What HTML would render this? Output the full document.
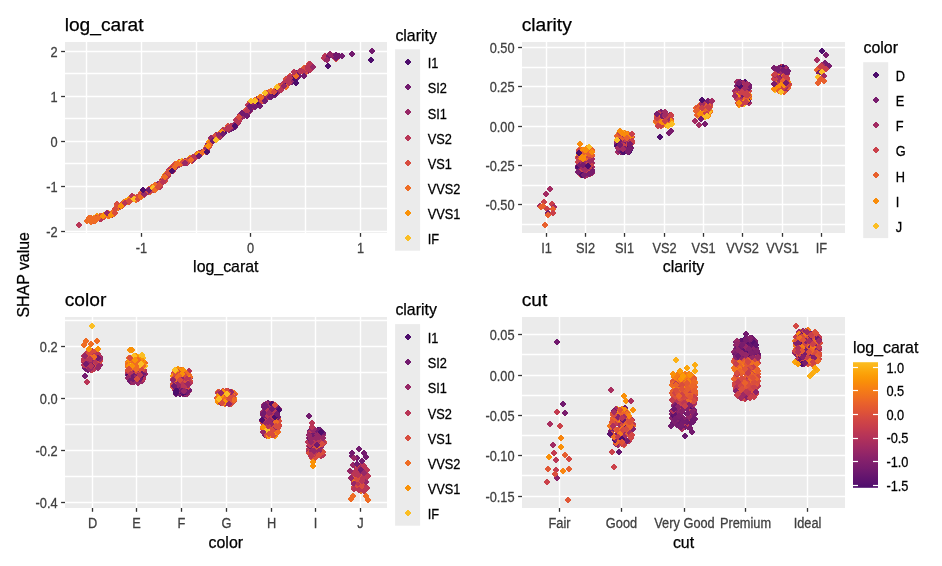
<!DOCTYPE html>
<html><head><meta charset="utf-8"><title>SHAP dependence plots</title>
<style>html,body{margin:0;padding:0;background:#fff;overflow:hidden}svg{display:block}text{font-family:"Liberation Sans", Arial, sans-serif}path{shape-rendering:crispEdges}</style>
</head><body>
<svg width="942" height="566" viewBox="0 0 942 566">
<defs><linearGradient id="cb" x1="0" y1="0" x2="0" y2="1"><stop offset="0.000" stop-color="#fbbe23"/><stop offset="0.040" stop-color="#fcb216"/><stop offset="0.080" stop-color="#fca50a"/><stop offset="0.120" stop-color="#fb9906"/><stop offset="0.160" stop-color="#f98e09"/><stop offset="0.200" stop-color="#f78212"/><stop offset="0.240" stop-color="#f37819"/><stop offset="0.280" stop-color="#ef6e21"/><stop offset="0.320" stop-color="#ea632a"/><stop offset="0.360" stop-color="#e45a31"/><stop offset="0.400" stop-color="#de5238"/><stop offset="0.440" stop-color="#d54a41"/><stop offset="0.480" stop-color="#ce4347"/><stop offset="0.520" stop-color="#c63d4d"/><stop offset="0.560" stop-color="#bc3754"/><stop offset="0.600" stop-color="#b3325a"/><stop offset="0.640" stop-color="#a92e5e"/><stop offset="0.680" stop-color="#9f2a63"/><stop offset="0.720" stop-color="#952667"/><stop offset="0.760" stop-color="#8a226a"/><stop offset="0.800" stop-color="#801f6c"/><stop offset="0.840" stop-color="#771c6d"/><stop offset="0.880" stop-color="#6c186e"/><stop offset="0.920" stop-color="#62146e"/><stop offset="0.960" stop-color="#59106e"/><stop offset="1.000" stop-color="#4d0d6c"/></linearGradient></defs>
<rect width="942" height="566" fill="#fff"/>
<rect x="65" y="42" width="322" height="191" fill="#EBEBEB"/>
<line x1="65" x2="387" y1="51.5" y2="51.5" stroke="#fff" stroke-width="1.4"/>
<line x1="65" x2="387" y1="73.5" y2="73.5" stroke="#fff" stroke-width="1.4"/>
<line x1="65" x2="387" y1="96.5" y2="96.5" stroke="#fff" stroke-width="1.4"/>
<line x1="65" x2="387" y1="118.5" y2="118.5" stroke="#fff" stroke-width="1.4"/>
<line x1="65" x2="387" y1="141.5" y2="141.5" stroke="#fff" stroke-width="1.4"/>
<line x1="65" x2="387" y1="163.5" y2="163.5" stroke="#fff" stroke-width="1.4"/>
<line x1="65" x2="387" y1="186.5" y2="186.5" stroke="#fff" stroke-width="1.4"/>
<line x1="65" x2="387" y1="208.5" y2="208.5" stroke="#fff" stroke-width="1.4"/>
<line x1="65" x2="387" y1="231.5" y2="231.5" stroke="#fff" stroke-width="1.4"/>
<line x1="86.5" x2="86.5" y1="42" y2="233" stroke="#fff" stroke-width="1.4"/>
<line x1="141.5" x2="141.5" y1="42" y2="233" stroke="#fff" stroke-width="1.4"/>
<line x1="196.5" x2="196.5" y1="42" y2="233" stroke="#fff" stroke-width="1.4"/>
<line x1="250.5" x2="250.5" y1="42" y2="233" stroke="#fff" stroke-width="1.4"/>
<line x1="305.5" x2="305.5" y1="42" y2="233" stroke="#fff" stroke-width="1.4"/>
<line x1="360.5" x2="360.5" y1="42" y2="233" stroke="#fff" stroke-width="1.4"/>
<rect x="522" y="42" width="323" height="191" fill="#EBEBEB"/>
<line x1="522" x2="845" y1="47.5" y2="47.5" stroke="#fff" stroke-width="1.4"/>
<line x1="522" x2="845" y1="67.5" y2="67.5" stroke="#fff" stroke-width="1.4"/>
<line x1="522" x2="845" y1="86.5" y2="86.5" stroke="#fff" stroke-width="1.4"/>
<line x1="522" x2="845" y1="106.5" y2="106.5" stroke="#fff" stroke-width="1.4"/>
<line x1="522" x2="845" y1="126.5" y2="126.5" stroke="#fff" stroke-width="1.4"/>
<line x1="522" x2="845" y1="145.5" y2="145.5" stroke="#fff" stroke-width="1.4"/>
<line x1="522" x2="845" y1="165.5" y2="165.5" stroke="#fff" stroke-width="1.4"/>
<line x1="522" x2="845" y1="185.5" y2="185.5" stroke="#fff" stroke-width="1.4"/>
<line x1="522" x2="845" y1="204.5" y2="204.5" stroke="#fff" stroke-width="1.4"/>
<line x1="522" x2="845" y1="224.5" y2="224.5" stroke="#fff" stroke-width="1.4"/>
<line x1="546.5" x2="546.5" y1="42" y2="233" stroke="#fff" stroke-width="1.4"/>
<line x1="585.5" x2="585.5" y1="42" y2="233" stroke="#fff" stroke-width="1.4"/>
<line x1="624.5" x2="624.5" y1="42" y2="233" stroke="#fff" stroke-width="1.4"/>
<line x1="664.5" x2="664.5" y1="42" y2="233" stroke="#fff" stroke-width="1.4"/>
<line x1="703.5" x2="703.5" y1="42" y2="233" stroke="#fff" stroke-width="1.4"/>
<line x1="742.5" x2="742.5" y1="42" y2="233" stroke="#fff" stroke-width="1.4"/>
<line x1="782.5" x2="782.5" y1="42" y2="233" stroke="#fff" stroke-width="1.4"/>
<line x1="821.5" x2="821.5" y1="42" y2="233" stroke="#fff" stroke-width="1.4"/>
<rect x="65" y="317" width="322" height="191" fill="#EBEBEB"/>
<line x1="65" x2="387" y1="320.5" y2="320.5" stroke="#fff" stroke-width="1.4"/>
<line x1="65" x2="387" y1="346.5" y2="346.5" stroke="#fff" stroke-width="1.4"/>
<line x1="65" x2="387" y1="372.5" y2="372.5" stroke="#fff" stroke-width="1.4"/>
<line x1="65" x2="387" y1="398.5" y2="398.5" stroke="#fff" stroke-width="1.4"/>
<line x1="65" x2="387" y1="424.5" y2="424.5" stroke="#fff" stroke-width="1.4"/>
<line x1="65" x2="387" y1="450.5" y2="450.5" stroke="#fff" stroke-width="1.4"/>
<line x1="65" x2="387" y1="476.5" y2="476.5" stroke="#fff" stroke-width="1.4"/>
<line x1="65" x2="387" y1="502.5" y2="502.5" stroke="#fff" stroke-width="1.4"/>
<line x1="92.5" x2="92.5" y1="317" y2="508" stroke="#fff" stroke-width="1.4"/>
<line x1="136.5" x2="136.5" y1="317" y2="508" stroke="#fff" stroke-width="1.4"/>
<line x1="181.5" x2="181.5" y1="317" y2="508" stroke="#fff" stroke-width="1.4"/>
<line x1="226.5" x2="226.5" y1="317" y2="508" stroke="#fff" stroke-width="1.4"/>
<line x1="271.5" x2="271.5" y1="317" y2="508" stroke="#fff" stroke-width="1.4"/>
<line x1="315.5" x2="315.5" y1="317" y2="508" stroke="#fff" stroke-width="1.4"/>
<line x1="360.5" x2="360.5" y1="317" y2="508" stroke="#fff" stroke-width="1.4"/>
<rect x="522" y="317" width="323" height="191" fill="#EBEBEB"/>
<line x1="522" x2="845" y1="334.5" y2="334.5" stroke="#fff" stroke-width="1.4"/>
<line x1="522" x2="845" y1="354.5" y2="354.5" stroke="#fff" stroke-width="1.4"/>
<line x1="522" x2="845" y1="375.5" y2="375.5" stroke="#fff" stroke-width="1.4"/>
<line x1="522" x2="845" y1="395.5" y2="395.5" stroke="#fff" stroke-width="1.4"/>
<line x1="522" x2="845" y1="415.5" y2="415.5" stroke="#fff" stroke-width="1.4"/>
<line x1="522" x2="845" y1="435.5" y2="435.5" stroke="#fff" stroke-width="1.4"/>
<line x1="522" x2="845" y1="455.5" y2="455.5" stroke="#fff" stroke-width="1.4"/>
<line x1="522" x2="845" y1="475.5" y2="475.5" stroke="#fff" stroke-width="1.4"/>
<line x1="522" x2="845" y1="496.5" y2="496.5" stroke="#fff" stroke-width="1.4"/>
<line x1="559.5" x2="559.5" y1="317" y2="508" stroke="#fff" stroke-width="1.4"/>
<line x1="621.5" x2="621.5" y1="317" y2="508" stroke="#fff" stroke-width="1.4"/>
<line x1="684.5" x2="684.5" y1="317" y2="508" stroke="#fff" stroke-width="1.4"/>
<line x1="745.5" x2="745.5" y1="317" y2="508" stroke="#fff" stroke-width="1.4"/>
<line x1="807.5" x2="807.5" y1="317" y2="508" stroke="#fff" stroke-width="1.4"/>
<path d="M121 201.75L124.25 205L121 208.25L117.75 205Z" fill="#d84c3e"/>
<path d="M296 75.75L299.25 79L296 82.25L292.75 79Z" fill="#4d0d6c"/>
<path d="M174 163.75L177.25 167L174 170.25L170.75 167Z" fill="#b93556"/>
<path d="M262 94.75L265.25 98L262 101.25L258.75 98Z" fill="#d84c3e"/>
<path d="M308 66.75L311.25 70L308 73.25L304.75 70Z" fill="#4d0d6c"/>
<path d="M222 128.75L225.25 132L222 135.25L218.75 132Z" fill="#b93556"/>
<path d="M197 152.75L200.25 156L197 159.25L193.75 156Z" fill="#d84c3e"/>
<path d="M126 198.75L129.25 202L126 205.25L122.75 202Z" fill="#d84c3e"/>
<path d="M100 213.75L103.25 217L100 220.25L96.75 217Z" fill="#d84c3e"/>
<path d="M245 111.75L248.25 115L245 118.25L241.75 115Z" fill="#721a6e"/>
<path d="M196 152.75L199.25 156L196 159.25L192.75 156Z" fill="#ef6c23"/>
<path d="M222 129.75L225.25 133L222 136.25L218.75 133Z" fill="#b93556"/>
<path d="M96 214.75L99.25 218L96 221.25L92.75 218Z" fill="#ef6c23"/>
<path d="M106 211.75L109.25 215L106 218.25L102.75 215Z" fill="#d84c3e"/>
<path d="M136 196.75L139.25 200L136 203.25L132.75 200Z" fill="#ef6c23"/>
<path d="M204 147.75L207.25 151L204 154.25L200.75 151Z" fill="#d84c3e"/>
<path d="M304 64.75L307.25 68L304 71.25L300.75 68Z" fill="#ef6c23"/>
<path d="M253 103.75L256.25 107L253 110.25L249.75 107Z" fill="#b93556"/>
<path d="M276 85.75L279.25 89L276 92.25L272.75 89Z" fill="#ef6c23"/>
<path d="M260 94.75L263.25 98L260 101.25L256.75 98Z" fill="#d84c3e"/>
<path d="M192 154.75L195.25 158L192 161.25L188.75 158Z" fill="#d84c3e"/>
<path d="M173 166.75L176.25 170L173 173.25L169.75 170Z" fill="#972766"/>
<path d="M173 167.75L176.25 171L173 174.25L169.75 171Z" fill="#b93556"/>
<path d="M207 147.75L210.25 151L207 154.25L203.75 151Z" fill="#972766"/>
<path d="M117 202.75L120.25 206L117 209.25L113.75 206Z" fill="#ef6c23"/>
<path d="M171 167.75L174.25 171L171 174.25L167.75 171Z" fill="#d84c3e"/>
<path d="M119 203.75L122.25 207L119 210.25L115.75 207Z" fill="#d84c3e"/>
<path d="M246 111.75L249.25 115L246 118.25L242.75 115Z" fill="#721a6e"/>
<path d="M197 152.75L200.25 156L197 159.25L193.75 156Z" fill="#972766"/>
<path d="M257 99.75L260.25 103L257 106.25L253.75 103Z" fill="#972766"/>
<path d="M178 159.75L181.25 163L178 166.25L174.75 163Z" fill="#b93556"/>
<path d="M148 188.75L151.25 192L148 195.25L144.75 192Z" fill="#b93556"/>
<path d="M266 94.75L269.25 98L266 101.25L262.75 98Z" fill="#972766"/>
<path d="M152 183.75L155.25 187L152 190.25L148.75 187Z" fill="#ef6c23"/>
<path d="M127 197.75L130.25 201L127 204.25L123.75 201Z" fill="#ef6c23"/>
<path d="M255 100.75L258.25 104L255 107.25L251.75 104Z" fill="#972766"/>
<path d="M282 81.75L285.25 85L282 88.25L278.75 85Z" fill="#972766"/>
<path d="M193 154.75L196.25 158L193 161.25L189.75 158Z" fill="#b93556"/>
<path d="M246 107.75L249.25 111L246 114.25L242.75 111Z" fill="#972766"/>
<path d="M285 81.75L288.25 85L285 88.25L281.75 85Z" fill="#b93556"/>
<path d="M188 156.75L191.25 160L188 163.25L184.75 160Z" fill="#ef6c23"/>
<path d="M210 140.75L213.25 144L210 147.25L206.75 144Z" fill="#d84c3e"/>
<path d="M93 217.75L96.25 221L93 224.25L89.75 221Z" fill="#d84c3e"/>
<path d="M310 64.75L313.25 68L310 71.25L306.75 68Z" fill="#972766"/>
<path d="M247 107.75L250.25 111L247 114.25L243.75 111Z" fill="#4d0d6c"/>
<path d="M257 97.75L260.25 101L257 104.25L253.75 101Z" fill="#721a6e"/>
<path d="M112 211.75L115.25 215L112 218.25L108.75 215Z" fill="#ef6c23"/>
<path d="M104 213.75L107.25 217L104 220.25L100.75 217Z" fill="#d84c3e"/>
<path d="M98 214.75L101.25 218L98 221.25L94.75 218Z" fill="#d84c3e"/>
<path d="M295 73.75L298.25 77L295 80.25L291.75 77Z" fill="#972766"/>
<path d="M220 133.75L223.25 137L220 140.25L216.75 137Z" fill="#972766"/>
<path d="M194 155.75L197.25 159L194 162.25L190.75 159Z" fill="#d84c3e"/>
<path d="M175 164.75L178.25 168L175 171.25L171.75 168Z" fill="#972766"/>
<path d="M242 111.75L245.25 115L242 118.25L238.75 115Z" fill="#b93556"/>
<path d="M202 148.75L205.25 152L202 155.25L198.75 152Z" fill="#972766"/>
<path d="M130 195.75L133.25 199L130 202.25L126.75 199Z" fill="#ef6c23"/>
<path d="M178 160.75L181.25 164L178 167.25L174.75 164Z" fill="#d84c3e"/>
<path d="M296 70.75L299.25 74L296 77.25L292.75 74Z" fill="#b93556"/>
<path d="M181 160.75L184.25 164L181 167.25L177.75 164Z" fill="#b93556"/>
<path d="M197 150.75L200.25 154L197 157.25L193.75 154Z" fill="#d84c3e"/>
<path d="M129 197.75L132.25 201L129 204.25L125.75 201Z" fill="#fbbe23"/>
<path d="M185 157.75L188.25 161L185 164.25L181.75 161Z" fill="#972766"/>
<path d="M145 190.75L148.25 194L145 197.25L141.75 194Z" fill="#b93556"/>
<path d="M286 79.75L289.25 83L286 86.25L282.75 83Z" fill="#972766"/>
<path d="M177 160.75L180.25 164L177 167.25L173.75 164Z" fill="#d84c3e"/>
<path d="M231 122.75L234.25 126L231 129.25L227.75 126Z" fill="#b93556"/>
<path d="M192 157.75L195.25 161L192 164.25L188.75 161Z" fill="#d84c3e"/>
<path d="M269 88.75L272.25 92L269 95.25L265.75 92Z" fill="#ef6c23"/>
<path d="M184 158.75L187.25 162L184 165.25L180.75 162Z" fill="#d84c3e"/>
<path d="M108 209.75L111.25 213L108 216.25L104.75 213Z" fill="#fa9207"/>
<path d="M183 159.75L186.25 163L183 166.25L179.75 163Z" fill="#d84c3e"/>
<path d="M150 188.75L153.25 192L150 195.25L146.75 192Z" fill="#ef6c23"/>
<path d="M141 192.75L144.25 196L141 199.25L137.75 196Z" fill="#d84c3e"/>
<path d="M116 204.75L119.25 208L116 211.25L112.75 208Z" fill="#ef6c23"/>
<path d="M158 182.75L161.25 186L158 189.25L154.75 186Z" fill="#d84c3e"/>
<path d="M175 161.75L178.25 165L175 168.25L171.75 165Z" fill="#b93556"/>
<path d="M134 194.75L137.25 198L134 201.25L130.75 198Z" fill="#d84c3e"/>
<path d="M187 159.75L190.25 163L187 166.25L183.75 163Z" fill="#972766"/>
<path d="M242 112.75L245.25 116L242 119.25L238.75 116Z" fill="#b93556"/>
<path d="M245 107.75L248.25 111L245 114.25L241.75 111Z" fill="#fa9207"/>
<path d="M294 73.75L297.25 77L294 80.25L290.75 77Z" fill="#b93556"/>
<path d="M207 142.75L210.25 146L207 149.25L203.75 146Z" fill="#ef6c23"/>
<path d="M233 124.75L236.25 128L233 131.25L229.75 128Z" fill="#d84c3e"/>
<path d="M135 194.75L138.25 198L135 201.25L131.75 198Z" fill="#ef6c23"/>
<path d="M208 143.75L211.25 147L208 150.25L204.75 147Z" fill="#b93556"/>
<path d="M196 152.75L199.25 156L196 159.25L192.75 156Z" fill="#972766"/>
<path d="M162 176.75L165.25 180L162 183.25L158.75 180Z" fill="#d84c3e"/>
<path d="M296 70.75L299.25 74L296 77.25L292.75 74Z" fill="#d84c3e"/>
<path d="M192 154.75L195.25 158L192 161.25L188.75 158Z" fill="#ef6c23"/>
<path d="M199 150.75L202.25 154L199 157.25L195.75 154Z" fill="#fa9207"/>
<path d="M286 75.75L289.25 79L286 82.25L282.75 79Z" fill="#d84c3e"/>
<path d="M173 165.75L176.25 169L173 172.25L169.75 169Z" fill="#d84c3e"/>
<path d="M171 166.75L174.25 170L171 173.25L167.75 170Z" fill="#ef6c23"/>
<path d="M175 161.75L178.25 165L175 168.25L171.75 165Z" fill="#fa9207"/>
<path d="M164 176.75L167.25 180L164 183.25L160.75 180Z" fill="#ef6c23"/>
<path d="M275 91.75L278.25 95L275 98.25L271.75 95Z" fill="#4d0d6c"/>
<path d="M232 122.75L235.25 126L232 129.25L228.75 126Z" fill="#b93556"/>
<path d="M148 187.75L151.25 191L148 194.25L144.75 191Z" fill="#b93556"/>
<path d="M200 150.75L203.25 154L200 157.25L196.75 154Z" fill="#b93556"/>
<path d="M220 129.75L223.25 133L220 136.25L216.75 133Z" fill="#ef6c23"/>
<path d="M194 154.75L197.25 158L194 161.25L190.75 158Z" fill="#972766"/>
<path d="M240 115.75L243.25 119L240 122.25L236.75 119Z" fill="#b93556"/>
<path d="M306 66.75L309.25 70L306 73.25L302.75 70Z" fill="#972766"/>
<path d="M190 154.75L193.25 158L190 161.25L186.75 158Z" fill="#fa9207"/>
<path d="M228 122.75L231.25 126L228 129.25L224.75 126Z" fill="#d84c3e"/>
<path d="M301 67.75L304.25 71L301 74.25L297.75 71Z" fill="#972766"/>
<path d="M201 149.75L204.25 153L201 156.25L197.75 153Z" fill="#d84c3e"/>
<path d="M160 182.75L163.25 186L160 189.25L156.75 186Z" fill="#d84c3e"/>
<path d="M157 181.75L160.25 185L157 188.25L153.75 185Z" fill="#d84c3e"/>
<path d="M287 81.75L290.25 85L287 88.25L283.75 85Z" fill="#b93556"/>
<path d="M301 67.75L304.25 71L301 74.25L297.75 71Z" fill="#b93556"/>
<path d="M124 198.75L127.25 202L124 205.25L120.75 202Z" fill="#ef6c23"/>
<path d="M100 215.75L103.25 219L100 222.25L96.75 219Z" fill="#972766"/>
<path d="M296 69.75L299.25 73L296 76.25L292.75 73Z" fill="#721a6e"/>
<path d="M106 211.75L109.25 215L106 218.25L102.75 215Z" fill="#fbbe23"/>
<path d="M92 215.75L95.25 219L92 222.25L88.75 219Z" fill="#ef6c23"/>
<path d="M162 178.75L165.25 182L162 185.25L158.75 182Z" fill="#d84c3e"/>
<path d="M226 125.75L229.25 129L226 132.25L222.75 129Z" fill="#ef6c23"/>
<path d="M143 191.75L146.25 195L143 198.25L139.75 195Z" fill="#972766"/>
<path d="M201 149.75L204.25 153L201 156.25L197.75 153Z" fill="#ef6c23"/>
<path d="M154 186.75L157.25 190L154 193.25L150.75 190Z" fill="#972766"/>
<path d="M139 194.75L142.25 198L139 201.25L135.75 198Z" fill="#fa9207"/>
<path d="M242 113.75L245.25 117L242 120.25L238.75 117Z" fill="#d84c3e"/>
<path d="M208 143.75L211.25 147L208 150.25L204.75 147Z" fill="#ef6c23"/>
<path d="M216 131.75L219.25 135L216 138.25L212.75 135Z" fill="#d84c3e"/>
<path d="M244 112.75L247.25 116L244 119.25L240.75 116Z" fill="#721a6e"/>
<path d="M129 198.75L132.25 202L129 205.25L125.75 202Z" fill="#d84c3e"/>
<path d="M160 181.75L163.25 185L160 188.25L156.75 185Z" fill="#d84c3e"/>
<path d="M260 93.75L263.25 97L260 100.25L256.75 97Z" fill="#d84c3e"/>
<path d="M211 139.75L214.25 143L211 146.25L207.75 143Z" fill="#ef6c23"/>
<path d="M169 167.75L172.25 171L169 174.25L165.75 171Z" fill="#fbbe23"/>
<path d="M158 180.75L161.25 184L158 187.25L154.75 184Z" fill="#972766"/>
<path d="M142 191.75L145.25 195L142 198.25L138.75 195Z" fill="#972766"/>
<path d="M172 163.75L175.25 167L172 170.25L168.75 167Z" fill="#ef6c23"/>
<path d="M166 173.75L169.25 177L166 180.25L162.75 177Z" fill="#b93556"/>
<path d="M155 181.75L158.25 185L155 188.25L151.75 185Z" fill="#d84c3e"/>
<path d="M153 186.75L156.25 190L153 193.25L149.75 190Z" fill="#b93556"/>
<path d="M279 85.75L282.25 89L279 92.25L275.75 89Z" fill="#972766"/>
<path d="M205 147.75L208.25 151L205 154.25L201.75 151Z" fill="#d84c3e"/>
<path d="M153 184.75L156.25 188L153 191.25L149.75 188Z" fill="#fa9207"/>
<path d="M191 155.75L194.25 159L191 162.25L187.75 159Z" fill="#d84c3e"/>
<path d="M142 191.75L145.25 195L142 198.25L138.75 195Z" fill="#b93556"/>
<path d="M98 214.75L101.25 218L98 221.25L94.75 218Z" fill="#d84c3e"/>
<path d="M267 91.75L270.25 95L267 98.25L263.75 95Z" fill="#ef6c23"/>
<path d="M217 133.75L220.25 137L217 140.25L213.75 137Z" fill="#972766"/>
<path d="M120 203.75L123.25 207L120 210.25L116.75 207Z" fill="#d84c3e"/>
<path d="M219 131.75L222.25 135L219 138.25L215.75 135Z" fill="#d84c3e"/>
<path d="M112 211.75L115.25 215L112 218.25L108.75 215Z" fill="#972766"/>
<path d="M178 159.75L181.25 163L178 166.25L174.75 163Z" fill="#b93556"/>
<path d="M159 181.75L162.25 185L159 188.25L155.75 185Z" fill="#b93556"/>
<path d="M273 91.75L276.25 95L273 98.25L269.75 95Z" fill="#721a6e"/>
<path d="M104 211.75L107.25 215L104 218.25L100.75 215Z" fill="#ef6c23"/>
<path d="M291 74.75L294.25 78L291 81.25L287.75 78Z" fill="#972766"/>
<path d="M219 131.75L222.25 135L219 138.25L215.75 135Z" fill="#972766"/>
<path d="M235 123.75L238.25 127L235 130.25L231.75 127Z" fill="#721a6e"/>
<path d="M217 132.75L220.25 136L217 139.25L213.75 136Z" fill="#b93556"/>
<path d="M224 128.75L227.25 132L224 135.25L220.75 132Z" fill="#721a6e"/>
<path d="M97 214.75L100.25 218L97 221.25L93.75 218Z" fill="#d84c3e"/>
<path d="M224 128.75L227.25 132L224 135.25L220.75 132Z" fill="#721a6e"/>
<path d="M224 127.75L227.25 131L224 134.25L220.75 131Z" fill="#b93556"/>
<path d="M165 171.75L168.25 175L165 178.25L161.75 175Z" fill="#fa9207"/>
<path d="M224 129.75L227.25 133L224 136.25L220.75 133Z" fill="#4d0d6c"/>
<path d="M128 197.75L131.25 201L128 204.25L124.75 201Z" fill="#d84c3e"/>
<path d="M190 155.75L193.25 159L190 162.25L186.75 159Z" fill="#ef6c23"/>
<path d="M91 214.75L94.25 218L91 221.25L87.75 218Z" fill="#ef6c23"/>
<path d="M308 67.75L311.25 71L308 74.25L304.75 71Z" fill="#972766"/>
<path d="M250 103.75L253.25 107L250 110.25L246.75 107Z" fill="#972766"/>
<path d="M118 202.75L121.25 206L118 209.25L114.75 206Z" fill="#ef6c23"/>
<path d="M209 143.75L212.25 147L209 150.25L205.75 147Z" fill="#ef6c23"/>
<path d="M152 186.75L155.25 190L152 193.25L148.75 190Z" fill="#d84c3e"/>
<path d="M286 76.75L289.25 80L286 83.25L282.75 80Z" fill="#b93556"/>
<path d="M248 101.75L251.25 105L248 108.25L244.75 105Z" fill="#b93556"/>
<path d="M141 189.75L144.25 193L141 196.25L137.75 193Z" fill="#ef6c23"/>
<path d="M309 60.75L312.25 64L309 67.25L305.75 64Z" fill="#d84c3e"/>
<path d="M149 185.75L152.25 189L149 192.25L145.75 189Z" fill="#ef6c23"/>
<path d="M290 77.75L293.25 81L290 84.25L286.75 81Z" fill="#972766"/>
<path d="M129 197.75L132.25 201L129 204.25L125.75 201Z" fill="#ef6c23"/>
<path d="M253 102.75L256.25 106L253 109.25L249.75 106Z" fill="#4d0d6c"/>
<path d="M268 91.75L271.25 95L268 98.25L264.75 95Z" fill="#d84c3e"/>
<path d="M168 169.75L171.25 173L168 176.25L164.75 173Z" fill="#b93556"/>
<path d="M108 212.75L111.25 216L108 219.25L104.75 216Z" fill="#fa9207"/>
<path d="M169 169.75L172.25 173L169 176.25L165.75 173Z" fill="#d84c3e"/>
<path d="M207 145.75L210.25 149L207 152.25L203.75 149Z" fill="#d84c3e"/>
<path d="M99 213.75L102.25 217L99 220.25L95.75 217Z" fill="#fa9207"/>
<path d="M249 103.75L252.25 107L249 110.25L245.75 107Z" fill="#972766"/>
<path d="M202 148.75L205.25 152L202 155.25L198.75 152Z" fill="#972766"/>
<path d="M250 101.75L253.25 105L250 108.25L246.75 105Z" fill="#721a6e"/>
<path d="M171 166.75L174.25 170L171 173.25L167.75 170Z" fill="#d84c3e"/>
<path d="M284 79.75L287.25 83L284 86.25L280.75 83Z" fill="#b93556"/>
<path d="M139 194.75L142.25 198L139 201.25L135.75 198Z" fill="#ef6c23"/>
<path d="M195 152.75L198.25 156L195 159.25L191.75 156Z" fill="#d84c3e"/>
<path d="M160 183.75L163.25 187L160 190.25L156.75 187Z" fill="#b93556"/>
<path d="M167 173.75L170.25 177L167 180.25L163.75 177Z" fill="#d84c3e"/>
<path d="M171 165.75L174.25 169L171 172.25L167.75 169Z" fill="#b93556"/>
<path d="M254 99.75L257.25 103L254 106.25L250.75 103Z" fill="#d84c3e"/>
<path d="M95 215.75L98.25 219L95 222.25L91.75 219Z" fill="#fa9207"/>
<path d="M275 91.75L278.25 95L275 98.25L271.75 95Z" fill="#721a6e"/>
<path d="M272 91.75L275.25 95L272 98.25L268.75 95Z" fill="#972766"/>
<path d="M180 158.75L183.25 162L180 165.25L176.75 162Z" fill="#d84c3e"/>
<path d="M184 158.75L187.25 162L184 165.25L180.75 162Z" fill="#b93556"/>
<path d="M179 161.75L182.25 165L179 168.25L175.75 165Z" fill="#b93556"/>
<path d="M175 160.75L178.25 164L175 167.25L171.75 164Z" fill="#ef6c23"/>
<path d="M155 184.75L158.25 188L155 191.25L151.75 188Z" fill="#4d0d6c"/>
<path d="M278 86.75L281.25 90L278 93.25L274.75 90Z" fill="#4d0d6c"/>
<path d="M188 157.75L191.25 161L188 164.25L184.75 161Z" fill="#d84c3e"/>
<path d="M271 91.75L274.25 95L271 98.25L267.75 95Z" fill="#4d0d6c"/>
<path d="M157 184.75L160.25 188L157 191.25L153.75 188Z" fill="#b93556"/>
<path d="M118 204.75L121.25 208L118 211.25L114.75 208Z" fill="#d84c3e"/>
<path d="M250 104.75L253.25 108L250 111.25L246.75 108Z" fill="#972766"/>
<path d="M147 188.75L150.25 192L147 195.25L143.75 192Z" fill="#b93556"/>
<path d="M208 141.75L211.25 145L208 148.25L204.75 145Z" fill="#b93556"/>
<path d="M189 156.75L192.25 160L189 163.25L185.75 160Z" fill="#b93556"/>
<path d="M298 73.75L301.25 77L298 80.25L294.75 77Z" fill="#721a6e"/>
<path d="M160 180.75L163.25 184L160 187.25L156.75 184Z" fill="#d84c3e"/>
<path d="M229 126.75L232.25 130L229 133.25L225.75 130Z" fill="#d84c3e"/>
<path d="M186 158.75L189.25 162L186 165.25L182.75 162Z" fill="#b93556"/>
<path d="M265 92.75L268.25 96L265 99.25L261.75 96Z" fill="#b93556"/>
<path d="M200 150.75L203.25 154L200 157.25L196.75 154Z" fill="#d84c3e"/>
<path d="M259 99.75L262.25 103L259 106.25L255.75 103Z" fill="#721a6e"/>
<path d="M206 144.75L209.25 148L206 151.25L202.75 148Z" fill="#ef6c23"/>
<path d="M305 64.75L308.25 68L305 71.25L301.75 68Z" fill="#d84c3e"/>
<path d="M125 199.75L128.25 203L125 206.25L121.75 203Z" fill="#d84c3e"/>
<path d="M165 172.75L168.25 176L165 179.25L161.75 176Z" fill="#d84c3e"/>
<path d="M290 72.75L293.25 76L290 79.25L286.75 76Z" fill="#d84c3e"/>
<path d="M290 75.75L293.25 79L290 82.25L286.75 79Z" fill="#d84c3e"/>
<path d="M179 158.75L182.25 162L179 165.25L175.75 162Z" fill="#d84c3e"/>
<path d="M125 199.75L128.25 203L125 206.25L121.75 203Z" fill="#b93556"/>
<path d="M264 95.75L267.25 99L264 102.25L260.75 99Z" fill="#ef6c23"/>
<path d="M279 82.75L282.25 86L279 89.25L275.75 86Z" fill="#ef6c23"/>
<path d="M100 212.75L103.25 216L100 219.25L96.75 216Z" fill="#ef6c23"/>
<path d="M233 124.75L236.25 128L233 131.25L229.75 128Z" fill="#4d0d6c"/>
<path d="M289 74.75L292.25 78L289 81.25L285.75 78Z" fill="#b93556"/>
<path d="M93 215.75L96.25 219L93 222.25L89.75 219Z" fill="#fa9207"/>
<path d="M222 129.75L225.25 133L222 136.25L218.75 133Z" fill="#b93556"/>
<path d="M163 176.75L166.25 180L163 183.25L159.75 180Z" fill="#972766"/>
<path d="M180 160.75L183.25 164L180 167.25L176.75 164Z" fill="#ef6c23"/>
<path d="M206 148.75L209.25 152L206 155.25L202.75 152Z" fill="#d84c3e"/>
<path d="M158 183.75L161.25 187L158 190.25L154.75 187Z" fill="#fa9207"/>
<path d="M126 197.75L129.25 201L126 204.25L122.75 201Z" fill="#ef6c23"/>
<path d="M140 191.75L143.25 195L140 198.25L136.75 195Z" fill="#d84c3e"/>
<path d="M220 131.75L223.25 135L220 138.25L216.75 135Z" fill="#b93556"/>
<path d="M199 149.75L202.25 153L199 156.25L195.75 153Z" fill="#b93556"/>
<path d="M192 154.75L195.25 158L192 161.25L188.75 158Z" fill="#b93556"/>
<path d="M169 167.75L172.25 171L169 174.25L165.75 171Z" fill="#b93556"/>
<path d="M150 185.75L153.25 189L150 192.25L146.75 189Z" fill="#ef6c23"/>
<path d="M267 89.75L270.25 93L267 96.25L263.75 93Z" fill="#d84c3e"/>
<path d="M250 98.75L253.25 102L250 105.25L246.75 102Z" fill="#d84c3e"/>
<path d="M148 188.75L151.25 192L148 195.25L144.75 192Z" fill="#b93556"/>
<path d="M254 100.75L257.25 104L254 107.25L250.75 104Z" fill="#b93556"/>
<path d="M206 145.75L209.25 149L206 152.25L202.75 149Z" fill="#972766"/>
<path d="M134 193.75L137.25 197L134 200.25L130.75 197Z" fill="#ef6c23"/>
<path d="M150 186.75L153.25 190L150 193.25L146.75 190Z" fill="#ef6c23"/>
<path d="M211 139.75L214.25 143L211 146.25L207.75 143Z" fill="#d84c3e"/>
<path d="M201 150.75L204.25 154L201 157.25L197.75 154Z" fill="#ef6c23"/>
<path d="M150 187.75L153.25 191L150 194.25L146.75 191Z" fill="#b93556"/>
<path d="M102 212.75L105.25 216L102 219.25L98.75 216Z" fill="#d84c3e"/>
<path d="M307 67.75L310.25 71L307 74.25L303.75 71Z" fill="#721a6e"/>
<path d="M238 119.75L241.25 123L238 126.25L234.75 123Z" fill="#972766"/>
<path d="M263 95.75L266.25 99L263 102.25L259.75 99Z" fill="#721a6e"/>
<path d="M229 124.75L232.25 128L229 131.25L225.75 128Z" fill="#ef6c23"/>
<path d="M103 213.75L106.25 217L103 220.25L99.75 217Z" fill="#d84c3e"/>
<path d="M199 152.75L202.25 156L199 159.25L195.75 156Z" fill="#b93556"/>
<path d="M289 76.75L292.25 80L289 83.25L285.75 80Z" fill="#b93556"/>
<path d="M98 213.75L101.25 217L98 220.25L94.75 217Z" fill="#fa9207"/>
<path d="M195 152.75L198.25 156L195 159.25L191.75 156Z" fill="#ef6c23"/>
<path d="M125 198.75L128.25 202L125 205.25L121.75 202Z" fill="#ef6c23"/>
<path d="M240 111.75L243.25 115L240 118.25L236.75 115Z" fill="#972766"/>
<path d="M118 203.75L121.25 207L118 210.25L114.75 207Z" fill="#972766"/>
<path d="M296 71.75L299.25 75L296 78.25L292.75 75Z" fill="#972766"/>
<path d="M257 95.75L260.25 99L257 102.25L253.75 99Z" fill="#972766"/>
<path d="M97 212.75L100.25 216L97 219.25L93.75 216Z" fill="#fa9207"/>
<path d="M181 158.75L184.25 162L181 165.25L177.75 162Z" fill="#721a6e"/>
<path d="M192 156.75L195.25 160L192 163.25L188.75 160Z" fill="#b93556"/>
<path d="M126 197.75L129.25 201L126 204.25L122.75 201Z" fill="#fa9207"/>
<path d="M133 193.75L136.25 197L133 200.25L129.75 197Z" fill="#fbbe23"/>
<path d="M171 167.75L174.25 171L171 174.25L167.75 171Z" fill="#972766"/>
<path d="M165 173.75L168.25 177L165 180.25L161.75 177Z" fill="#b93556"/>
<path d="M150 185.75L153.25 189L150 192.25L146.75 189Z" fill="#ef6c23"/>
<path d="M146 189.75L149.25 193L146 196.25L142.75 193Z" fill="#972766"/>
<path d="M216 131.75L219.25 135L216 138.25L212.75 135Z" fill="#972766"/>
<path d="M164 174.75L167.25 178L164 181.25L160.75 178Z" fill="#b93556"/>
<path d="M229 126.75L232.25 130L229 133.25L225.75 130Z" fill="#972766"/>
<path d="M292 78.75L295.25 82L292 85.25L288.75 82Z" fill="#721a6e"/>
<path d="M129 195.75L132.25 199L129 202.25L125.75 199Z" fill="#fa9207"/>
<path d="M270 88.75L273.25 92L270 95.25L266.75 92Z" fill="#d84c3e"/>
<path d="M197 151.75L200.25 155L197 158.25L193.75 155Z" fill="#b93556"/>
<path d="M196 152.75L199.25 156L196 159.25L192.75 156Z" fill="#d84c3e"/>
<path d="M199 150.75L202.25 154L199 157.25L195.75 154Z" fill="#d84c3e"/>
<path d="M217 133.75L220.25 137L217 140.25L213.75 137Z" fill="#ef6c23"/>
<path d="M104 212.75L107.25 216L104 219.25L100.75 216Z" fill="#d84c3e"/>
<path d="M137 193.75L140.25 197L137 200.25L133.75 197Z" fill="#d84c3e"/>
<path d="M278 88.75L281.25 92L278 95.25L274.75 92Z" fill="#972766"/>
<path d="M250 107.75L253.25 111L250 114.25L246.75 111Z" fill="#972766"/>
<path d="M238 117.75L241.25 121L238 124.25L234.75 121Z" fill="#b93556"/>
<path d="M166 171.75L169.25 175L166 178.25L162.75 175Z" fill="#fa9207"/>
<path d="M288 75.75L291.25 79L288 82.25L284.75 79Z" fill="#ef6c23"/>
<path d="M116 205.75L119.25 209L116 212.25L112.75 209Z" fill="#ef6c23"/>
<path d="M139 193.75L142.25 197L139 200.25L135.75 197Z" fill="#fa9207"/>
<path d="M243 109.75L246.25 113L243 116.25L239.75 113Z" fill="#d84c3e"/>
<path d="M267 94.75L270.25 98L267 101.25L263.75 98Z" fill="#b93556"/>
<path d="M193 154.75L196.25 158L193 161.25L189.75 158Z" fill="#972766"/>
<path d="M168 169.75L171.25 173L168 176.25L164.75 173Z" fill="#d84c3e"/>
<path d="M237 116.75L240.25 120L237 123.25L233.75 120Z" fill="#d84c3e"/>
<path d="M248 109.75L251.25 113L248 116.25L244.75 113Z" fill="#972766"/>
<path d="M228 124.75L231.25 128L228 131.25L224.75 128Z" fill="#b93556"/>
<path d="M237 117.75L240.25 121L237 124.25L233.75 121Z" fill="#972766"/>
<path d="M104 211.75L107.25 215L104 218.25L100.75 215Z" fill="#fa9207"/>
<path d="M116 205.75L119.25 209L116 212.25L112.75 209Z" fill="#fa9207"/>
<path d="M297 71.75L300.25 75L297 78.25L293.75 75Z" fill="#972766"/>
<path d="M294 71.75L297.25 75L294 78.25L290.75 75Z" fill="#b93556"/>
<path d="M227 125.75L230.25 129L227 132.25L223.75 129Z" fill="#972766"/>
<path d="M241 114.75L244.25 118L241 121.25L237.75 118Z" fill="#972766"/>
<path d="M138 193.75L141.25 197L138 200.25L134.75 197Z" fill="#d84c3e"/>
<path d="M269 90.75L272.25 94L269 97.25L265.75 94Z" fill="#b93556"/>
<path d="M165 173.75L168.25 177L165 180.25L161.75 177Z" fill="#d84c3e"/>
<path d="M235 120.75L238.25 124L235 127.25L231.75 124Z" fill="#972766"/>
<path d="M179 160.75L182.25 164L179 167.25L175.75 164Z" fill="#b93556"/>
<path d="M271 93.75L274.25 97L271 100.25L267.75 97Z" fill="#721a6e"/>
<path d="M210 141.75L213.25 145L210 148.25L206.75 145Z" fill="#d84c3e"/>
<path d="M169 166.75L172.25 170L169 173.25L165.75 170Z" fill="#b93556"/>
<path d="M220 131.75L223.25 135L220 138.25L216.75 135Z" fill="#721a6e"/>
<path d="M161 180.75L164.25 184L161 187.25L157.75 184Z" fill="#b93556"/>
<path d="M174 164.75L177.25 168L174 171.25L170.75 168Z" fill="#d84c3e"/>
<path d="M291 76.75L294.25 80L291 83.25L287.75 80Z" fill="#721a6e"/>
<path d="M217 133.75L220.25 137L217 140.25L213.75 137Z" fill="#ef6c23"/>
<path d="M113 208.75L116.25 212L113 215.25L109.75 212Z" fill="#fa9207"/>
<path d="M238 118.75L241.25 122L238 125.25L234.75 122Z" fill="#b93556"/>
<path d="M246 106.75L249.25 110L246 113.25L242.75 110Z" fill="#d84c3e"/>
<path d="M242 110.75L245.25 114L242 117.25L238.75 114Z" fill="#d84c3e"/>
<path d="M215 133.75L218.25 137L215 140.25L211.75 137Z" fill="#972766"/>
<path d="M155 181.75L158.25 185L155 188.25L151.75 185Z" fill="#ef6c23"/>
<path d="M121 201.75L124.25 205L121 208.25L117.75 205Z" fill="#fbbe23"/>
<path d="M164 173.75L167.25 177L164 180.25L160.75 177Z" fill="#ef6c23"/>
<path d="M122 202.75L125.25 206L122 209.25L118.75 206Z" fill="#d84c3e"/>
<path d="M166 172.75L169.25 176L166 179.25L162.75 176Z" fill="#d84c3e"/>
<path d="M94 214.75L97.25 218L94 221.25L90.75 218Z" fill="#fa9207"/>
<path d="M208 140.75L211.25 144L208 147.25L204.75 144Z" fill="#972766"/>
<path d="M169 168.75L172.25 172L169 175.25L165.75 172Z" fill="#b93556"/>
<path d="M289 79.75L292.25 83L289 86.25L285.75 83Z" fill="#4d0d6c"/>
<path d="M255 101.75L258.25 105L255 108.25L251.75 105Z" fill="#972766"/>
<path d="M258 98.75L261.25 102L258 105.25L254.75 102Z" fill="#4d0d6c"/>
<path d="M250 106.75L253.25 110L250 113.25L246.75 110Z" fill="#721a6e"/>
<path d="M231 125.75L234.25 129L231 132.25L227.75 129Z" fill="#721a6e"/>
<path d="M141 192.75L144.25 196L141 199.25L137.75 196Z" fill="#d84c3e"/>
<path d="M95 215.75L98.25 219L95 222.25L91.75 219Z" fill="#fa9207"/>
<path d="M289 78.75L292.25 82L289 85.25L285.75 82Z" fill="#972766"/>
<path d="M142 191.75L145.25 195L142 198.25L138.75 195Z" fill="#d84c3e"/>
<path d="M289 75.75L292.25 79L289 82.25L285.75 79Z" fill="#972766"/>
<path d="M184 159.75L187.25 163L184 166.25L180.75 163Z" fill="#972766"/>
<path d="M287 81.75L290.25 85L287 88.25L283.75 85Z" fill="#721a6e"/>
<path d="M185 158.75L188.25 162L185 165.25L181.75 162Z" fill="#ef6c23"/>
<path d="M223 126.75L226.25 130L223 133.25L219.75 130Z" fill="#b93556"/>
<path d="M269 89.75L272.25 93L269 96.25L265.75 93Z" fill="#b93556"/>
<path d="M267 89.75L270.25 93L267 96.25L263.75 93Z" fill="#d84c3e"/>
<path d="M154 184.75L157.25 188L154 191.25L150.75 188Z" fill="#972766"/>
<path d="M188 157.75L191.25 161L188 164.25L184.75 161Z" fill="#b93556"/>
<path d="M296 71.75L299.25 75L296 78.25L292.75 75Z" fill="#972766"/>
<path d="M96 214.75L99.25 218L96 221.25L92.75 218Z" fill="#d84c3e"/>
<path d="M236 121.75L239.25 125L236 128.25L232.75 125Z" fill="#b93556"/>
<path d="M131 196.75L134.25 200L131 203.25L127.75 200Z" fill="#d84c3e"/>
<path d="M109 212.75L112.25 216L109 219.25L105.75 216Z" fill="#ef6c23"/>
<path d="M310 63.75L313.25 67L310 70.25L306.75 67Z" fill="#972766"/>
<path d="M255 96.75L258.25 100L255 103.25L251.75 100Z" fill="#ef6c23"/>
<path d="M266 93.75L269.25 97L266 100.25L262.75 97Z" fill="#972766"/>
<path d="M215 133.75L218.25 137L215 140.25L211.75 137Z" fill="#b93556"/>
<path d="M117 203.75L120.25 207L117 210.25L113.75 207Z" fill="#ef6c23"/>
<path d="M215 132.75L218.25 136L215 139.25L211.75 136Z" fill="#fa9207"/>
<path d="M219 132.75L222.25 136L219 139.25L215.75 136Z" fill="#b93556"/>
<path d="M209 143.75L212.25 147L209 150.25L205.75 147Z" fill="#d84c3e"/>
<path d="M148 186.75L151.25 190L148 193.25L144.75 190Z" fill="#b93556"/>
<path d="M181 158.75L184.25 162L181 165.25L177.75 162Z" fill="#972766"/>
<path d="M174 161.75L177.25 165L174 168.25L170.75 165Z" fill="#d84c3e"/>
<path d="M117 202.75L120.25 206L117 209.25L113.75 206Z" fill="#ef6c23"/>
<path d="M242 112.75L245.25 116L242 119.25L238.75 116Z" fill="#972766"/>
<path d="M210 139.75L213.25 143L210 146.25L206.75 143Z" fill="#d84c3e"/>
<path d="M304 67.75L307.25 71L304 74.25L300.75 71Z" fill="#972766"/>
<path d="M164 175.75L167.25 179L164 182.25L160.75 179Z" fill="#ef6c23"/>
<path d="M231 123.75L234.25 127L231 130.25L227.75 127Z" fill="#b93556"/>
<path d="M244 112.75L247.25 116L244 119.25L240.75 116Z" fill="#972766"/>
<path d="M238 115.75L241.25 119L238 122.25L234.75 119Z" fill="#b93556"/>
<path d="M308 64.75L311.25 68L308 71.25L304.75 68Z" fill="#d84c3e"/>
<path d="M305 69.75L308.25 73L305 76.25L301.75 73Z" fill="#d84c3e"/>
<path d="M218 133.75L221.25 137L218 140.25L214.75 137Z" fill="#b93556"/>
<path d="M93 216.75L96.25 220L93 223.25L89.75 220Z" fill="#ef6c23"/>
<path d="M293 76.75L296.25 80L293 83.25L289.75 80Z" fill="#972766"/>
<path d="M310 66.75L313.25 70L310 73.25L306.75 70Z" fill="#b93556"/>
<path d="M275 89.75L278.25 93L275 96.25L271.75 93Z" fill="#4d0d6c"/>
<path d="M127 198.75L130.25 202L127 205.25L123.75 202Z" fill="#972766"/>
<path d="M262 97.75L265.25 101L262 104.25L258.75 101Z" fill="#721a6e"/>
<path d="M193 153.75L196.25 157L193 160.25L189.75 157Z" fill="#b93556"/>
<path d="M98 214.75L101.25 218L98 221.25L94.75 218Z" fill="#fa9207"/>
<path d="M288 80.75L291.25 84L288 87.25L284.75 84Z" fill="#4d0d6c"/>
<path d="M108 210.75L111.25 214L108 217.25L104.75 214Z" fill="#ef6c23"/>
<path d="M219 133.75L222.25 137L219 140.25L215.75 137Z" fill="#b93556"/>
<path d="M193 156.75L196.25 160L193 163.25L189.75 160Z" fill="#721a6e"/>
<path d="M146 188.75L149.25 192L146 195.25L142.75 192Z" fill="#d84c3e"/>
<path d="M144 191.75L147.25 195L144 198.25L140.75 195Z" fill="#b93556"/>
<path d="M263 97.75L266.25 101L263 104.25L259.75 101Z" fill="#972766"/>
<path d="M140 193.75L143.25 197L140 200.25L136.75 197Z" fill="#ef6c23"/>
<path d="M103 212.75L106.25 216L103 219.25L99.75 216Z" fill="#fa9207"/>
<path d="M100 213.75L103.25 217L100 220.25L96.75 217Z" fill="#d84c3e"/>
<path d="M261 97.75L264.25 101L261 104.25L257.75 101Z" fill="#972766"/>
<path d="M289 79.75L292.25 83L289 86.25L285.75 83Z" fill="#b93556"/>
<path d="M165 173.75L168.25 177L165 180.25L161.75 177Z" fill="#d84c3e"/>
<path d="M135 195.75L138.25 199L135 202.25L131.75 199Z" fill="#fa9207"/>
<path d="M260 93.75L263.25 97L260 100.25L256.75 97Z" fill="#fa9207"/>
<path d="M165 177.75L168.25 181L165 184.25L161.75 181Z" fill="#d84c3e"/>
<path d="M218 132.75L221.25 136L218 139.25L214.75 136Z" fill="#972766"/>
<path d="M135 195.75L138.25 199L135 202.25L131.75 199Z" fill="#d84c3e"/>
<path d="M239 116.75L242.25 120L239 123.25L235.75 120Z" fill="#d84c3e"/>
<path d="M249 101.75L252.25 105L249 108.25L245.75 105Z" fill="#b93556"/>
<path d="M187 158.75L190.25 162L187 165.25L183.75 162Z" fill="#d84c3e"/>
<path d="M122 200.75L125.25 204L122 207.25L118.75 204Z" fill="#d84c3e"/>
<path d="M179 160.75L182.25 164L179 167.25L175.75 164Z" fill="#b93556"/>
<path d="M168 172.75L171.25 176L168 179.25L164.75 176Z" fill="#b93556"/>
<path d="M122 201.75L125.25 205L122 208.25L118.75 205Z" fill="#b93556"/>
<path d="M123 200.75L126.25 204L123 207.25L119.75 204Z" fill="#b93556"/>
<path d="M298 69.75L301.25 73L298 76.25L294.75 73Z" fill="#721a6e"/>
<path d="M198 151.75L201.25 155L198 158.25L194.75 155Z" fill="#b93556"/>
<path d="M288 74.75L291.25 78L288 81.25L284.75 78Z" fill="#b93556"/>
<path d="M123 200.75L126.25 204L123 207.25L119.75 204Z" fill="#ef6c23"/>
<path d="M166 171.75L169.25 175L166 178.25L162.75 175Z" fill="#b93556"/>
<path d="M131 194.75L134.25 198L131 201.25L127.75 198Z" fill="#fa9207"/>
<path d="M261 94.75L264.25 98L261 101.25L257.75 98Z" fill="#d84c3e"/>
<path d="M127 198.75L130.25 202L127 205.25L123.75 202Z" fill="#fa9207"/>
<path d="M251 97.75L254.25 101L251 104.25L247.75 101Z" fill="#d84c3e"/>
<path d="M135 195.75L138.25 199L135 202.25L131.75 199Z" fill="#ef6c23"/>
<path d="M178 159.75L181.25 163L178 166.25L174.75 163Z" fill="#fa9207"/>
<path d="M262 97.75L265.25 101L262 104.25L258.75 101Z" fill="#d84c3e"/>
<path d="M299 72.75L302.25 76L299 79.25L295.75 76Z" fill="#721a6e"/>
<path d="M286 75.75L289.25 79L286 82.25L282.75 79Z" fill="#d84c3e"/>
<path d="M236 116.75L239.25 120L236 123.25L232.75 120Z" fill="#b93556"/>
<path d="M95 215.75L98.25 219L95 222.25L91.75 219Z" fill="#ef6c23"/>
<path d="M268 91.75L271.25 95L268 98.25L264.75 95Z" fill="#b93556"/>
<path d="M209 138.75L212.25 142L209 145.25L205.75 142Z" fill="#fa9207"/>
<path d="M217 134.75L220.25 138L217 141.25L213.75 138Z" fill="#b93556"/>
<path d="M110 210.75L113.25 214L110 217.25L106.75 214Z" fill="#d84c3e"/>
<path d="M180 159.75L183.25 163L180 166.25L176.75 163Z" fill="#ef6c23"/>
<path d="M156 183.75L159.25 187L156 190.25L152.75 187Z" fill="#ef6c23"/>
<path d="M171 167.75L174.25 171L171 174.25L167.75 171Z" fill="#fa9207"/>
<path d="M229 125.75L232.25 129L229 132.25L225.75 129Z" fill="#972766"/>
<path d="M215 132.75L218.25 136L215 139.25L211.75 136Z" fill="#d84c3e"/>
<path d="M235 122.75L238.25 126L235 129.25L231.75 126Z" fill="#721a6e"/>
<path d="M168 168.75L171.25 172L168 175.25L164.75 172Z" fill="#d84c3e"/>
<path d="M153 185.75L156.25 189L153 192.25L149.75 189Z" fill="#d84c3e"/>
<path d="M213 134.75L216.25 138L213 141.25L209.75 138Z" fill="#d84c3e"/>
<path d="M112 209.75L115.25 213L112 216.25L108.75 213Z" fill="#ef6c23"/>
<path d="M245 110.75L248.25 114L245 117.25L241.75 114Z" fill="#721a6e"/>
<path d="M308 63.75L311.25 67L308 70.25L304.75 67Z" fill="#d84c3e"/>
<path d="M101 215.75L104.25 219L101 222.25L97.75 219Z" fill="#b93556"/>
<path d="M294 74.75L297.25 78L294 81.25L290.75 78Z" fill="#4d0d6c"/>
<path d="M304 67.75L307.25 71L304 74.25L300.75 71Z" fill="#b93556"/>
<path d="M162 178.75L165.25 182L162 185.25L158.75 182Z" fill="#d84c3e"/>
<path d="M115 205.75L118.25 209L115 212.25L111.75 209Z" fill="#d84c3e"/>
<path d="M193 156.75L196.25 160L193 163.25L189.75 160Z" fill="#972766"/>
<path d="M212 137.75L215.25 141L212 144.25L208.75 141Z" fill="#b93556"/>
<path d="M286 83.75L289.25 87L286 90.25L282.75 87Z" fill="#ef6c23"/>
<path d="M222 128.75L225.25 132L222 135.25L218.75 132Z" fill="#fa9207"/>
<path d="M210 139.75L213.25 143L210 146.25L206.75 143Z" fill="#ef6c23"/>
<path d="M282 82.75L285.25 86L282 89.25L278.75 86Z" fill="#d84c3e"/>
<path d="M114 210.75L117.25 214L114 217.25L110.75 214Z" fill="#ef6c23"/>
<path d="M247 107.75L250.25 111L247 114.25L243.75 111Z" fill="#b93556"/>
<path d="M168 171.75L171.25 175L168 178.25L164.75 175Z" fill="#b93556"/>
<path d="M164 176.75L167.25 180L164 183.25L160.75 180Z" fill="#b93556"/>
<path d="M306 64.75L309.25 68L306 71.25L302.75 68Z" fill="#d84c3e"/>
<path d="M79 221.75L82.25 225L79 228.25L75.75 225Z" fill="#b93556"/>
<path d="M87 217.75L90.25 221L87 224.25L83.75 221Z" fill="#ef6c23"/>
<path d="M89 214.75L92.25 218L89 221.25L85.75 218Z" fill="#ef6c23"/>
<path d="M91 218.75L94.25 222L91 225.25L87.75 222Z" fill="#ef6c23"/>
<path d="M93 215.75L96.25 219L93 222.25L89.75 219Z" fill="#ef6c23"/>
<path d="M95 217.75L98.25 221L95 224.25L91.75 221Z" fill="#ef6c23"/>
<path d="M98 214.75L101.25 218L98 221.25L94.75 218Z" fill="#ef6c23"/>
<path d="M103 212.75L106.25 216L103 219.25L99.75 216Z" fill="#fa9207"/>
<path d="M107 209.75L110.25 213L107 216.25L103.75 213Z" fill="#972766"/>
<path d="M111 211.75L114.25 215L111 218.25L107.75 215Z" fill="#fa9207"/>
<path d="M115 209.75L118.25 213L115 216.25L111.75 213Z" fill="#d84c3e"/>
<path d="M117 200.75L120.25 204L117 207.25L113.75 204Z" fill="#d84c3e"/>
<path d="M121 202.75L124.25 206L121 209.25L117.75 206Z" fill="#fa9207"/>
<path d="M125 199.75L128.25 203L125 206.25L121.75 203Z" fill="#b93556"/>
<path d="M129 197.75L132.25 201L129 204.25L125.75 201Z" fill="#d84c3e"/>
<path d="M132 192.75L135.25 196L132 199.25L128.75 196Z" fill="#b93556"/>
<path d="M134 195.75L137.25 199L134 202.25L130.75 199Z" fill="#fbbe23"/>
<path d="M138 195.75L141.25 199L138 202.25L134.75 199Z" fill="#d84c3e"/>
<path d="M141 193.75L144.25 197L141 200.25L137.75 197Z" fill="#ef6c23"/>
<path d="M144 190.75L147.25 194L144 197.25L140.75 194Z" fill="#972766"/>
<path d="M143 186.75L146.25 190L143 193.25L139.75 190Z" fill="#4d0d6c"/>
<path d="M149 186.75L152.25 190L149 193.25L145.75 190Z" fill="#721a6e"/>
<path d="M153 184.75L156.25 188L153 191.25L149.75 188Z" fill="#fbbe23"/>
<path d="M155 186.75L158.25 190L155 193.25L151.75 190Z" fill="#ef6c23"/>
<path d="M158 183.75L161.25 187L158 190.25L154.75 187Z" fill="#d84c3e"/>
<path d="M160 181.75L163.25 185L160 188.25L156.75 185Z" fill="#d84c3e"/>
<path d="M161 179.75L164.25 183L161 186.25L157.75 183Z" fill="#d84c3e"/>
<path d="M163 178.75L166.25 182L163 185.25L159.75 182Z" fill="#b93556"/>
<path d="M165 173.75L168.25 177L165 180.25L161.75 177Z" fill="#ef6c23"/>
<path d="M169 169.75L172.25 173L169 176.25L165.75 173Z" fill="#d84c3e"/>
<path d="M174 164.75L177.25 168L174 171.25L170.75 168Z" fill="#ef6c23"/>
<path d="M172 167.75L175.25 171L172 174.25L168.75 171Z" fill="#4d0d6c"/>
<path d="M177 160.75L180.25 164L177 167.25L173.75 164Z" fill="#ef6c23"/>
<path d="M182 157.75L185.25 161L182 164.25L178.75 161Z" fill="#fbbe23"/>
<path d="M183 158.75L186.25 162L183 165.25L179.75 162Z" fill="#d84c3e"/>
<path d="M185 159.75L188.25 163L185 166.25L181.75 163Z" fill="#972766"/>
<path d="M191 156.75L194.25 160L191 163.25L187.75 160Z" fill="#ef6c23"/>
<path d="M195 153.75L198.25 157L195 160.25L191.75 157Z" fill="#b93556"/>
<path d="M198 150.75L201.25 154L198 157.25L194.75 154Z" fill="#fa9207"/>
<path d="M199 152.75L202.25 156L199 159.25L195.75 156Z" fill="#721a6e"/>
<path d="M203 148.75L206.25 152L203 155.25L199.75 152Z" fill="#ef6c23"/>
<path d="M207 148.75L210.25 152L207 155.25L203.75 152Z" fill="#4d0d6c"/>
<path d="M208 142.75L211.25 146L208 149.25L204.75 146Z" fill="#fa9207"/>
<path d="M211 134.75L214.25 138L211 141.25L207.75 138Z" fill="#972766"/>
<path d="M213 137.75L216.25 141L213 144.25L209.75 141Z" fill="#721a6e"/>
<path d="M216 136.75L219.25 140L216 143.25L212.75 140Z" fill="#fbbe23"/>
<path d="M219 131.75L222.25 135L219 138.25L215.75 135Z" fill="#972766"/>
<path d="M223 130.75L226.25 134L223 137.25L219.75 134Z" fill="#721a6e"/>
<path d="M228 125.75L231.25 129L228 132.25L224.75 129Z" fill="#b93556"/>
<path d="M230 123.75L233.25 127L230 130.25L226.75 127Z" fill="#b93556"/>
<path d="M235 122.75L238.25 126L235 129.25L231.75 126Z" fill="#4d0d6c"/>
<path d="M239 117.75L242.25 121L239 124.25L235.75 121Z" fill="#b93556"/>
<path d="M239 113.75L242.25 117L239 120.25L235.75 117Z" fill="#d84c3e"/>
<path d="M242 109.75L245.25 113L242 116.25L238.75 113Z" fill="#721a6e"/>
<path d="M247 112.75L250.25 116L247 119.25L243.75 116Z" fill="#721a6e"/>
<path d="M250 102.75L253.25 106L250 109.25L246.75 106Z" fill="#721a6e"/>
<path d="M251 97.75L254.25 101L251 104.25L247.75 101Z" fill="#fbbe23"/>
<path d="M255 97.75L258.25 101L255 104.25L251.75 101Z" fill="#fbbe23"/>
<path d="M255 103.75L258.25 107L255 110.25L251.75 107Z" fill="#721a6e"/>
<path d="M260 102.75L263.25 106L260 109.25L256.75 106Z" fill="#721a6e"/>
<path d="M261 93.75L264.25 97L261 100.25L257.75 97Z" fill="#ef6c23"/>
<path d="M265 97.75L268.25 101L265 104.25L261.75 101Z" fill="#721a6e"/>
<path d="M265 89.75L268.25 93L265 96.25L261.75 93Z" fill="#fbbe23"/>
<path d="M270 93.75L273.25 97L270 100.25L266.75 97Z" fill="#721a6e"/>
<path d="M271 87.75L274.25 91L271 94.25L267.75 91Z" fill="#ef6c23"/>
<path d="M274 88.75L277.25 92L274 95.25L270.75 92Z" fill="#d84c3e"/>
<path d="M277 83.75L280.25 87L277 90.25L273.75 87Z" fill="#fbbe23"/>
<path d="M281 86.75L284.25 90L281 93.25L277.75 90Z" fill="#b93556"/>
<path d="M284 82.75L287.25 86L284 89.25L280.75 86Z" fill="#972766"/>
<path d="M287 77.75L290.25 81L287 84.25L283.75 81Z" fill="#b93556"/>
<path d="M290 74.75L293.25 78L290 81.25L286.75 78Z" fill="#b93556"/>
<path d="M296 72.75L299.25 76L296 79.25L292.75 76Z" fill="#ef6c23"/>
<path d="M296 79.75L299.25 83L296 86.25L292.75 83Z" fill="#4d0d6c"/>
<path d="M294 68.75L297.25 72L294 75.25L290.75 72Z" fill="#b93556"/>
<path d="M300 67.75L303.25 71L300 74.25L296.75 71Z" fill="#b93556"/>
<path d="M304 72.75L307.25 76L304 79.25L300.75 76Z" fill="#721a6e"/>
<path d="M308 65.75L311.25 69L308 72.25L304.75 69Z" fill="#b93556"/>
<path d="M310 60.75L313.25 64L310 67.25L306.75 64Z" fill="#b93556"/>
<path d="M313 63.75L316.25 67L313 70.25L309.75 67Z" fill="#972766"/>
<path d="M308 63.75L311.25 67L308 70.25L304.75 67Z" fill="#b93556"/>
<path d="M313 63.75L316.25 67L313 70.25L309.75 67Z" fill="#972766"/>
<path d="M336 55.75L339.25 59L336 62.25L332.75 59Z" fill="#d84c3e"/>
<path d="M325 52.75L328.25 56L325 59.25L321.75 56Z" fill="#b93556"/>
<path d="M325 55.75L328.25 59L325 62.25L321.75 59Z" fill="#972766"/>
<path d="M329 52.75L332.25 56L329 59.25L325.75 56Z" fill="#721a6e"/>
<path d="M330 50.75L333.25 54L330 57.25L326.75 54Z" fill="#972766"/>
<path d="M333 52.75L336.25 56L333 59.25L329.75 56Z" fill="#972766"/>
<path d="M336 51.75L339.25 55L336 58.25L332.75 55Z" fill="#721a6e"/>
<path d="M336 54.75L339.25 58L336 61.25L332.75 58Z" fill="#721a6e"/>
<path d="M339 52.75L342.25 56L339 59.25L335.75 56Z" fill="#721a6e"/>
<path d="M342 52.75L345.25 56L342 59.25L338.75 56Z" fill="#721a6e"/>
<path d="M328 62.75L331.25 66L328 69.25L324.75 66Z" fill="#4d0d6c"/>
<path d="M352 50.75L355.25 54L352 57.25L348.75 54Z" fill="#721a6e"/>
<path d="M372 47.75L375.25 51L372 54.25L368.75 51Z" fill="#721a6e"/>
<path d="M371 56.75L374.25 60L371 63.25L367.75 60Z" fill="#4d0d6c"/>
<path d="M324 54.75L327.25 58L324 61.25L320.75 58Z" fill="#b93556"/>
<path d="M327 56.75L330.25 60L327 63.25L323.75 60Z" fill="#972766"/>
<path d="M550 185.75L553.25 189L550 192.25L546.75 189Z" fill="#a22b62"/>
<path d="M546 190.75L549.25 194L546 197.25L542.75 194Z" fill="#a22b62"/>
<path d="M544 198.75L547.25 202L544 205.25L540.75 202Z" fill="#ca404a"/>
<path d="M540 202.75L543.25 206L540 209.25L536.75 206Z" fill="#a22b62"/>
<path d="M541 203.75L544.25 207L541 210.25L537.75 207Z" fill="#e8602d"/>
<path d="M543 202.75L546.25 206L543 209.25L539.75 206Z" fill="#e8602d"/>
<path d="M552 200.75L555.25 204L552 207.25L548.75 204Z" fill="#ca404a"/>
<path d="M554 203.75L557.25 207L554 210.25L550.75 207Z" fill="#a22b62"/>
<path d="M553 205.75L556.25 209L553 212.25L549.75 209Z" fill="#e8602d"/>
<path d="M547 205.75L550.25 209L547 212.25L543.75 209Z" fill="#ca404a"/>
<path d="M548 209.75L551.25 213L548 216.25L544.75 213Z" fill="#781c6d"/>
<path d="M548 211.75L551.25 215L548 218.25L544.75 215Z" fill="#e8602d"/>
<path d="M553 209.75L556.25 213L553 216.25L549.75 213Z" fill="#ca404a"/>
<path d="M545 221.75L548.25 225L545 228.25L541.75 225Z" fill="#e8602d"/>
<path d="M592 148.75L595.25 152L592 155.25L588.75 152Z" fill="#fbbe23"/>
<path d="M579 165.75L582.25 169L579 172.25L575.75 169Z" fill="#4d0d6c"/>
<path d="M586 153.75L589.25 157L586 160.25L582.75 157Z" fill="#ca404a"/>
<path d="M587 171.75L590.25 175L587 178.25L583.75 175Z" fill="#ca404a"/>
<path d="M580 146.75L583.25 150L580 153.25L576.75 150Z" fill="#f98c0a"/>
<path d="M584 166.75L587.25 170L584 173.25L580.75 170Z" fill="#4d0d6c"/>
<path d="M582 169.75L585.25 173L582 176.25L578.75 173Z" fill="#a22b62"/>
<path d="M587 167.75L590.25 171L587 174.25L583.75 171Z" fill="#781c6d"/>
<path d="M581 171.75L584.25 175L581 178.25L577.75 175Z" fill="#781c6d"/>
<path d="M580 162.75L583.25 166L580 169.25L576.75 166Z" fill="#a22b62"/>
<path d="M581 164.75L584.25 168L581 171.25L577.75 168Z" fill="#a22b62"/>
<path d="M585 171.75L588.25 175L585 178.25L581.75 175Z" fill="#781c6d"/>
<path d="M587 167.75L590.25 171L587 174.25L583.75 171Z" fill="#781c6d"/>
<path d="M581 168.75L584.25 172L581 175.25L577.75 172Z" fill="#4d0d6c"/>
<path d="M587 171.75L590.25 175L587 178.25L583.75 175Z" fill="#a22b62"/>
<path d="M583 156.75L586.25 160L583 163.25L579.75 160Z" fill="#ca404a"/>
<path d="M591 168.75L594.25 172L591 175.25L587.75 172Z" fill="#781c6d"/>
<path d="M585 146.75L588.25 150L585 153.25L581.75 150Z" fill="#f98c0a"/>
<path d="M590 150.75L593.25 154L590 157.25L586.75 154Z" fill="#f98c0a"/>
<path d="M580 168.75L583.25 172L580 175.25L576.75 172Z" fill="#4d0d6c"/>
<path d="M592 152.75L595.25 156L592 159.25L588.75 156Z" fill="#e8602d"/>
<path d="M586 146.75L589.25 150L586 153.25L582.75 150Z" fill="#fbbe23"/>
<path d="M581 148.75L584.25 152L581 155.25L577.75 152Z" fill="#f98c0a"/>
<path d="M588 146.75L591.25 150L588 153.25L584.75 150Z" fill="#f98c0a"/>
<path d="M580 166.75L583.25 170L580 173.25L576.75 170Z" fill="#a22b62"/>
<path d="M581 166.75L584.25 170L581 173.25L577.75 170Z" fill="#781c6d"/>
<path d="M583 156.75L586.25 160L583 163.25L579.75 160Z" fill="#f98c0a"/>
<path d="M585 168.75L588.25 172L585 175.25L581.75 172Z" fill="#781c6d"/>
<path d="M581 159.75L584.25 163L581 166.25L577.75 163Z" fill="#ca404a"/>
<path d="M582 162.75L585.25 166L582 169.25L578.75 166Z" fill="#a22b62"/>
<path d="M588 154.75L591.25 158L588 161.25L584.75 158Z" fill="#f98c0a"/>
<path d="M588 168.75L591.25 172L588 175.25L584.75 172Z" fill="#a22b62"/>
<path d="M580 167.75L583.25 171L580 174.25L576.75 171Z" fill="#781c6d"/>
<path d="M588 147.75L591.25 151L588 154.25L584.75 151Z" fill="#f98c0a"/>
<path d="M583 169.75L586.25 173L583 176.25L579.75 173Z" fill="#4d0d6c"/>
<path d="M578 153.75L581.25 157L578 160.25L574.75 157Z" fill="#e8602d"/>
<path d="M589 168.75L592.25 172L589 175.25L585.75 172Z" fill="#ca404a"/>
<path d="M587 146.75L590.25 150L587 153.25L583.75 150Z" fill="#e8602d"/>
<path d="M578 162.75L581.25 166L578 169.25L574.75 166Z" fill="#a22b62"/>
<path d="M587 161.75L590.25 165L587 168.25L583.75 165Z" fill="#a22b62"/>
<path d="M583 160.75L586.25 164L583 167.25L579.75 164Z" fill="#a22b62"/>
<path d="M581 164.75L584.25 168L581 171.25L577.75 168Z" fill="#781c6d"/>
<path d="M583 150.75L586.25 154L583 157.25L579.75 154Z" fill="#e8602d"/>
<path d="M581 146.75L584.25 150L581 153.25L577.75 150Z" fill="#f98c0a"/>
<path d="M584 165.75L587.25 169L584 172.25L580.75 169Z" fill="#a22b62"/>
<path d="M587 146.75L590.25 150L587 153.25L583.75 150Z" fill="#e8602d"/>
<path d="M585 158.75L588.25 162L585 165.25L581.75 162Z" fill="#e8602d"/>
<path d="M590 152.75L593.25 156L590 159.25L586.75 156Z" fill="#ca404a"/>
<path d="M589 166.75L592.25 170L589 173.25L585.75 170Z" fill="#781c6d"/>
<path d="M582 146.75L585.25 150L582 153.25L578.75 150Z" fill="#fbbe23"/>
<path d="M591 147.75L594.25 151L591 154.25L587.75 151Z" fill="#e8602d"/>
<path d="M588 160.75L591.25 164L588 167.25L584.75 164Z" fill="#a22b62"/>
<path d="M582 166.75L585.25 170L582 173.25L578.75 170Z" fill="#a22b62"/>
<path d="M581 155.75L584.25 159L581 162.25L577.75 159Z" fill="#e8602d"/>
<path d="M582 146.75L585.25 150L582 153.25L578.75 150Z" fill="#e8602d"/>
<path d="M588 148.75L591.25 152L588 155.25L584.75 152Z" fill="#f98c0a"/>
<path d="M587 155.75L590.25 159L587 162.25L583.75 159Z" fill="#ca404a"/>
<path d="M585 167.75L588.25 171L585 174.25L581.75 171Z" fill="#4d0d6c"/>
<path d="M583 147.75L586.25 151L583 154.25L579.75 151Z" fill="#ca404a"/>
<path d="M587 152.75L590.25 156L587 159.25L583.75 156Z" fill="#f98c0a"/>
<path d="M581 168.75L584.25 172L581 175.25L577.75 172Z" fill="#ca404a"/>
<path d="M580 153.75L583.25 157L580 160.25L576.75 157Z" fill="#e8602d"/>
<path d="M579 168.75L582.25 172L579 175.25L575.75 172Z" fill="#781c6d"/>
<path d="M586 155.75L589.25 159L586 162.25L582.75 159Z" fill="#e8602d"/>
<path d="M578 164.75L581.25 168L578 171.25L574.75 168Z" fill="#781c6d"/>
<path d="M585 149.75L588.25 153L585 156.25L581.75 153Z" fill="#ca404a"/>
<path d="M585 150.75L588.25 154L585 157.25L581.75 154Z" fill="#e8602d"/>
<path d="M590 149.75L593.25 153L590 156.25L586.75 153Z" fill="#f98c0a"/>
<path d="M585 172.75L588.25 176L585 179.25L581.75 176Z" fill="#a22b62"/>
<path d="M579 163.75L582.25 167L579 170.25L575.75 167Z" fill="#781c6d"/>
<path d="M587 169.75L590.25 173L587 176.25L583.75 173Z" fill="#a22b62"/>
<path d="M588 163.75L591.25 167L588 170.25L584.75 167Z" fill="#781c6d"/>
<path d="M584 153.75L587.25 157L584 160.25L580.75 157Z" fill="#fbbe23"/>
<path d="M589 148.75L592.25 152L589 155.25L585.75 152Z" fill="#e8602d"/>
<path d="M585 155.75L588.25 159L585 162.25L581.75 159Z" fill="#f98c0a"/>
<path d="M583 167.75L586.25 171L583 174.25L579.75 171Z" fill="#a22b62"/>
<path d="M584 147.75L587.25 151L584 154.25L580.75 151Z" fill="#e8602d"/>
<path d="M588 150.75L591.25 154L588 157.25L584.75 154Z" fill="#f98c0a"/>
<path d="M580 169.75L583.25 173L580 176.25L576.75 173Z" fill="#781c6d"/>
<path d="M591 161.75L594.25 165L591 168.25L587.75 165Z" fill="#a22b62"/>
<path d="M585 163.75L588.25 167L585 170.25L581.75 167Z" fill="#a22b62"/>
<path d="M579 159.75L582.25 163L579 166.25L575.75 163Z" fill="#a22b62"/>
<path d="M581 167.75L584.25 171L581 174.25L577.75 171Z" fill="#a22b62"/>
<path d="M590 163.75L593.25 167L590 170.25L586.75 167Z" fill="#a22b62"/>
<path d="M581 164.75L584.25 168L581 171.25L577.75 168Z" fill="#781c6d"/>
<path d="M578 154.75L581.25 158L578 161.25L574.75 158Z" fill="#ca404a"/>
<path d="M588 152.75L591.25 156L588 159.25L584.75 156Z" fill="#f98c0a"/>
<path d="M590 170.75L593.25 174L590 177.25L586.75 174Z" fill="#ca404a"/>
<path d="M592 166.75L595.25 170L592 173.25L588.75 170Z" fill="#781c6d"/>
<path d="M588 166.75L591.25 170L588 173.25L584.75 170Z" fill="#a22b62"/>
<path d="M579 153.75L582.25 157L579 160.25L575.75 157Z" fill="#a22b62"/>
<path d="M583 169.75L586.25 173L583 176.25L579.75 173Z" fill="#781c6d"/>
<path d="M580 154.75L583.25 158L580 161.25L576.75 158Z" fill="#ca404a"/>
<path d="M590 145.75L593.25 149L590 152.25L586.75 149Z" fill="#e8602d"/>
<path d="M592 163.75L595.25 167L592 170.25L588.75 167Z" fill="#a22b62"/>
<path d="M590 148.75L593.25 152L590 155.25L586.75 152Z" fill="#f98c0a"/>
<path d="M581 155.75L584.25 159L581 162.25L577.75 159Z" fill="#e8602d"/>
<path d="M583 160.75L586.25 164L583 167.25L579.75 164Z" fill="#ca404a"/>
<path d="M586 169.75L589.25 173L586 176.25L582.75 173Z" fill="#a22b62"/>
<path d="M579 165.75L582.25 169L579 172.25L575.75 169Z" fill="#a22b62"/>
<path d="M592 155.75L595.25 159L592 162.25L588.75 159Z" fill="#ca404a"/>
<path d="M586 157.75L589.25 161L586 164.25L582.75 161Z" fill="#ca404a"/>
<path d="M584 164.75L587.25 168L584 171.25L580.75 168Z" fill="#a22b62"/>
<path d="M591 157.75L594.25 161L591 164.25L587.75 161Z" fill="#a22b62"/>
<path d="M580 156.75L583.25 160L580 163.25L576.75 160Z" fill="#f98c0a"/>
<path d="M590 161.75L593.25 165L590 168.25L586.75 165Z" fill="#a22b62"/>
<path d="M582 159.75L585.25 163L582 166.25L578.75 163Z" fill="#a22b62"/>
<path d="M588 162.75L591.25 166L588 169.25L584.75 166Z" fill="#781c6d"/>
<path d="M586 151.75L589.25 155L586 158.25L582.75 155Z" fill="#ca404a"/>
<path d="M589 163.75L592.25 167L589 170.25L585.75 167Z" fill="#ca404a"/>
<path d="M589 151.75L592.25 155L589 158.25L585.75 155Z" fill="#f98c0a"/>
<path d="M584 154.75L587.25 158L584 161.25L580.75 158Z" fill="#e8602d"/>
<path d="M583 146.75L586.25 150L583 153.25L579.75 150Z" fill="#e8602d"/>
<path d="M583 161.75L586.25 165L583 168.25L579.75 165Z" fill="#a22b62"/>
<path d="M580 151.75L583.25 155L580 158.25L576.75 155Z" fill="#ca404a"/>
<path d="M589 158.75L592.25 162L589 165.25L585.75 162Z" fill="#e8602d"/>
<path d="M592 169.75L595.25 173L592 176.25L588.75 173Z" fill="#a22b62"/>
<path d="M578 158.75L581.25 162L578 165.25L574.75 162Z" fill="#ca404a"/>
<path d="M583 156.75L586.25 160L583 163.25L579.75 160Z" fill="#e8602d"/>
<path d="M592 155.75L595.25 159L592 162.25L588.75 159Z" fill="#a22b62"/>
<path d="M586 169.75L589.25 173L586 176.25L582.75 173Z" fill="#ca404a"/>
<path d="M585 155.75L588.25 159L585 162.25L581.75 159Z" fill="#ca404a"/>
<path d="M582 152.75L585.25 156L582 159.25L578.75 156Z" fill="#e8602d"/>
<path d="M590 164.75L593.25 168L590 171.25L586.75 168Z" fill="#781c6d"/>
<path d="M592 146.75L595.25 150L592 153.25L588.75 150Z" fill="#e8602d"/>
<path d="M587 148.75L590.25 152L587 155.25L583.75 152Z" fill="#fbbe23"/>
<path d="M588 166.75L591.25 170L588 173.25L584.75 170Z" fill="#a22b62"/>
<path d="M586 170.75L589.25 174L586 177.25L582.75 174Z" fill="#e8602d"/>
<path d="M592 159.75L595.25 163L592 166.25L588.75 163Z" fill="#a22b62"/>
<path d="M582 158.75L585.25 162L582 165.25L578.75 162Z" fill="#ca404a"/>
<path d="M586 170.75L589.25 174L586 177.25L582.75 174Z" fill="#a22b62"/>
<path d="M591 148.75L594.25 152L591 155.25L587.75 152Z" fill="#f98c0a"/>
<path d="M580 150.75L583.25 154L580 157.25L576.75 154Z" fill="#f98c0a"/>
<path d="M579 163.75L582.25 167L579 170.25L575.75 167Z" fill="#f98c0a"/>
<path d="M578 163.75L581.25 167L578 170.25L574.75 167Z" fill="#4d0d6c"/>
<path d="M584 149.75L587.25 153L584 156.25L580.75 153Z" fill="#f98c0a"/>
<path d="M591 161.75L594.25 165L591 168.25L587.75 165Z" fill="#ca404a"/>
<path d="M591 148.75L594.25 152L591 155.25L587.75 152Z" fill="#f98c0a"/>
<path d="M579 167.75L582.25 171L579 174.25L575.75 171Z" fill="#781c6d"/>
<path d="M582 167.75L585.25 171L582 174.25L578.75 171Z" fill="#4d0d6c"/>
<path d="M581 171.75L584.25 175L581 178.25L577.75 175Z" fill="#ca404a"/>
<path d="M588 159.75L591.25 163L588 166.25L584.75 163Z" fill="#a22b62"/>
<path d="M587 144.75L590.25 148L587 151.25L583.75 148Z" fill="#f98c0a"/>
<path d="M585 162.75L588.25 166L585 169.25L581.75 166Z" fill="#781c6d"/>
<path d="M591 167.75L594.25 171L591 174.25L587.75 171Z" fill="#a22b62"/>
<path d="M583 147.75L586.25 151L583 154.25L579.75 151Z" fill="#f98c0a"/>
<path d="M585 152.75L588.25 156L585 159.25L581.75 156Z" fill="#e8602d"/>
<path d="M591 168.75L594.25 172L591 175.25L587.75 172Z" fill="#781c6d"/>
<path d="M589 147.75L592.25 151L589 154.25L585.75 151Z" fill="#e8602d"/>
<path d="M586 162.75L589.25 166L586 169.25L582.75 166Z" fill="#a22b62"/>
<path d="M590 166.75L593.25 170L590 173.25L586.75 170Z" fill="#ca404a"/>
<path d="M584 152.75L587.25 156L584 159.25L580.75 156Z" fill="#f98c0a"/>
<path d="M588 166.75L591.25 170L588 173.25L584.75 170Z" fill="#a22b62"/>
<path d="M587 162.75L590.25 166L587 169.25L583.75 166Z" fill="#a22b62"/>
<path d="M589 153.75L592.25 157L589 160.25L585.75 157Z" fill="#ca404a"/>
<path d="M582 166.75L585.25 170L582 173.25L578.75 170Z" fill="#ca404a"/>
<path d="M583 163.75L586.25 167L583 170.25L579.75 167Z" fill="#781c6d"/>
<path d="M587 169.75L590.25 173L587 176.25L583.75 173Z" fill="#4d0d6c"/>
<path d="M584 158.75L587.25 162L584 165.25L580.75 162Z" fill="#a22b62"/>
<path d="M592 151.75L595.25 155L592 158.25L588.75 155Z" fill="#e8602d"/>
<path d="M579 146.75L582.25 150L579 153.25L575.75 150Z" fill="#e8602d"/>
<path d="M579 147.75L582.25 151L579 154.25L575.75 151Z" fill="#ca404a"/>
<path d="M582 171.75L585.25 175L582 178.25L578.75 175Z" fill="#781c6d"/>
<path d="M579 150.75L582.25 154L579 157.25L575.75 154Z" fill="#f98c0a"/>
<path d="M587 157.75L590.25 161L587 164.25L583.75 161Z" fill="#e8602d"/>
<path d="M589 158.75L592.25 162L589 165.25L585.75 162Z" fill="#a22b62"/>
<path d="M580 161.75L583.25 165L580 168.25L576.75 165Z" fill="#781c6d"/>
<path d="M591 169.75L594.25 173L591 176.25L587.75 173Z" fill="#781c6d"/>
<path d="M583 146.75L586.25 150L583 153.25L579.75 150Z" fill="#f98c0a"/>
<path d="M583 164.75L586.25 168L583 171.25L579.75 168Z" fill="#a22b62"/>
<path d="M588 167.75L591.25 171L588 174.25L584.75 171Z" fill="#a22b62"/>
<path d="M582 171.75L585.25 175L582 178.25L578.75 175Z" fill="#4d0d6c"/>
<path d="M585 160.75L588.25 164L585 167.25L581.75 164Z" fill="#a22b62"/>
<path d="M589 169.75L592.25 173L589 176.25L585.75 173Z" fill="#ca404a"/>
<path d="M587 161.75L590.25 165L587 168.25L583.75 165Z" fill="#ca404a"/>
<path d="M589 150.75L592.25 154L589 157.25L585.75 154Z" fill="#e8602d"/>
<path d="M583 159.75L586.25 163L583 166.25L579.75 163Z" fill="#a22b62"/>
<path d="M583 161.75L586.25 165L583 168.25L579.75 165Z" fill="#781c6d"/>
<path d="M584 171.75L587.25 175L584 178.25L580.75 175Z" fill="#781c6d"/>
<path d="M578 168.75L581.25 172L578 175.25L574.75 172Z" fill="#781c6d"/>
<path d="M592 148.75L595.25 152L592 155.25L588.75 152Z" fill="#f98c0a"/>
<path d="M588 162.75L591.25 166L588 169.25L584.75 166Z" fill="#4d0d6c"/>
<path d="M592 168.75L595.25 172L592 175.25L588.75 172Z" fill="#781c6d"/>
<path d="M583 155.75L586.25 159L583 162.25L579.75 159Z" fill="#f98c0a"/>
<path d="M580 151.75L583.25 155L580 158.25L576.75 155Z" fill="#e8602d"/>
<path d="M589 170.75L592.25 174L589 177.25L585.75 174Z" fill="#781c6d"/>
<path d="M582 150.75L585.25 154L582 157.25L578.75 154Z" fill="#e8602d"/>
<path d="M582 153.75L585.25 157L582 160.25L578.75 157Z" fill="#f98c0a"/>
<path d="M589 170.75L592.25 174L589 177.25L585.75 174Z" fill="#781c6d"/>
<path d="M585 166.75L588.25 170L585 173.25L581.75 170Z" fill="#a22b62"/>
<path d="M580 140.75L583.25 144L580 147.25L576.75 144Z" fill="#f98c0a"/>
<path d="M579 149.75L582.25 153L579 156.25L575.75 153Z" fill="#4d0d6c"/>
<path d="M589 143.75L592.25 147L589 150.25L585.75 147Z" fill="#fbbe23"/>
<path d="M586 146.75L589.25 150L586 153.25L582.75 150Z" fill="#f98c0a"/>
<path d="M622 130.75L625.25 134L622 137.25L618.75 134Z" fill="#f98c0a"/>
<path d="M628 136.75L631.25 140L628 143.25L624.75 140Z" fill="#e8602d"/>
<path d="M628 140.75L631.25 144L628 147.25L624.75 144Z" fill="#ca404a"/>
<path d="M618 148.75L621.25 152L618 155.25L614.75 152Z" fill="#a22b62"/>
<path d="M619 144.75L622.25 148L619 151.25L615.75 148Z" fill="#a22b62"/>
<path d="M623 140.75L626.25 144L623 147.25L619.75 144Z" fill="#4d0d6c"/>
<path d="M622 135.75L625.25 139L622 142.25L618.75 139Z" fill="#e8602d"/>
<path d="M625 129.75L628.25 133L625 136.25L621.75 133Z" fill="#f98c0a"/>
<path d="M623 136.75L626.25 140L623 143.25L619.75 140Z" fill="#a22b62"/>
<path d="M629 148.75L632.25 152L629 155.25L625.75 152Z" fill="#4d0d6c"/>
<path d="M624 140.75L627.25 144L624 147.25L620.75 144Z" fill="#ca404a"/>
<path d="M625 129.75L628.25 133L625 136.25L621.75 133Z" fill="#fbbe23"/>
<path d="M629 144.75L632.25 148L629 151.25L625.75 148Z" fill="#4d0d6c"/>
<path d="M620 140.75L623.25 144L620 147.25L616.75 144Z" fill="#ca404a"/>
<path d="M618 142.75L621.25 146L618 149.25L614.75 146Z" fill="#781c6d"/>
<path d="M621 137.75L624.25 141L621 144.25L617.75 141Z" fill="#781c6d"/>
<path d="M628 130.75L631.25 134L628 137.25L624.75 134Z" fill="#e8602d"/>
<path d="M627 145.75L630.25 149L627 152.25L623.75 149Z" fill="#4d0d6c"/>
<path d="M619 145.75L622.25 149L619 152.25L615.75 149Z" fill="#4d0d6c"/>
<path d="M626 141.75L629.25 145L626 148.25L622.75 145Z" fill="#781c6d"/>
<path d="M619 141.75L622.25 145L619 148.25L615.75 145Z" fill="#781c6d"/>
<path d="M617 140.75L620.25 144L617 147.25L613.75 144Z" fill="#781c6d"/>
<path d="M623 131.75L626.25 135L623 138.25L619.75 135Z" fill="#f98c0a"/>
<path d="M631 132.75L634.25 136L631 139.25L627.75 136Z" fill="#fbbe23"/>
<path d="M629 144.75L632.25 148L629 151.25L625.75 148Z" fill="#4d0d6c"/>
<path d="M619 130.75L622.25 134L619 137.25L615.75 134Z" fill="#e8602d"/>
<path d="M624 142.75L627.25 146L624 149.25L620.75 146Z" fill="#4d0d6c"/>
<path d="M626 133.75L629.25 137L626 140.25L622.75 137Z" fill="#e8602d"/>
<path d="M625 131.75L628.25 135L625 138.25L621.75 135Z" fill="#fbbe23"/>
<path d="M624 144.75L627.25 148L624 151.25L620.75 148Z" fill="#a22b62"/>
<path d="M630 134.75L633.25 138L630 141.25L626.75 138Z" fill="#f98c0a"/>
<path d="M617 136.75L620.25 140L617 143.25L613.75 140Z" fill="#a22b62"/>
<path d="M621 136.75L624.25 140L621 143.25L617.75 140Z" fill="#ca404a"/>
<path d="M631 144.75L634.25 148L631 151.25L627.75 148Z" fill="#781c6d"/>
<path d="M623 132.75L626.25 136L623 139.25L619.75 136Z" fill="#f98c0a"/>
<path d="M623 141.75L626.25 145L623 148.25L619.75 145Z" fill="#a22b62"/>
<path d="M621 146.75L624.25 150L621 153.25L617.75 150Z" fill="#781c6d"/>
<path d="M619 129.75L622.25 133L619 136.25L615.75 133Z" fill="#f98c0a"/>
<path d="M632 133.75L635.25 137L632 140.25L628.75 137Z" fill="#ca404a"/>
<path d="M627 134.75L630.25 138L627 141.25L623.75 138Z" fill="#ca404a"/>
<path d="M627 146.75L630.25 150L627 153.25L623.75 150Z" fill="#781c6d"/>
<path d="M628 138.75L631.25 142L628 145.25L624.75 142Z" fill="#ca404a"/>
<path d="M629 132.75L632.25 136L629 139.25L625.75 136Z" fill="#fbbe23"/>
<path d="M631 136.75L634.25 140L631 143.25L627.75 140Z" fill="#a22b62"/>
<path d="M623 144.75L626.25 148L623 151.25L619.75 148Z" fill="#781c6d"/>
<path d="M620 144.75L623.25 148L620 151.25L616.75 148Z" fill="#781c6d"/>
<path d="M626 138.75L629.25 142L626 145.25L622.75 142Z" fill="#781c6d"/>
<path d="M623 145.75L626.25 149L623 152.25L619.75 149Z" fill="#4d0d6c"/>
<path d="M626 145.75L629.25 149L626 152.25L622.75 149Z" fill="#781c6d"/>
<path d="M620 138.75L623.25 142L620 145.25L616.75 142Z" fill="#a22b62"/>
<path d="M628 146.75L631.25 150L628 153.25L624.75 150Z" fill="#781c6d"/>
<path d="M623 144.75L626.25 148L623 151.25L619.75 148Z" fill="#4d0d6c"/>
<path d="M626 133.75L629.25 137L626 140.25L622.75 137Z" fill="#f98c0a"/>
<path d="M624 131.75L627.25 135L624 138.25L620.75 135Z" fill="#e8602d"/>
<path d="M619 136.75L622.25 140L619 143.25L615.75 140Z" fill="#a22b62"/>
<path d="M619 130.75L622.25 134L619 137.25L615.75 134Z" fill="#e8602d"/>
<path d="M621 148.75L624.25 152L621 155.25L617.75 152Z" fill="#781c6d"/>
<path d="M626 139.75L629.25 143L626 146.25L622.75 143Z" fill="#a22b62"/>
<path d="M621 141.75L624.25 145L621 148.25L617.75 145Z" fill="#4d0d6c"/>
<path d="M630 134.75L633.25 138L630 141.25L626.75 138Z" fill="#f98c0a"/>
<path d="M630 139.75L633.25 143L630 146.25L626.75 143Z" fill="#ca404a"/>
<path d="M629 134.75L632.25 138L629 141.25L625.75 138Z" fill="#ca404a"/>
<path d="M627 134.75L630.25 138L627 141.25L623.75 138Z" fill="#e8602d"/>
<path d="M624 129.75L627.25 133L624 136.25L620.75 133Z" fill="#e8602d"/>
<path d="M621 136.75L624.25 140L621 143.25L617.75 140Z" fill="#ca404a"/>
<path d="M620 141.75L623.25 145L620 148.25L616.75 145Z" fill="#781c6d"/>
<path d="M628 141.75L631.25 145L628 148.25L624.75 145Z" fill="#781c6d"/>
<path d="M626 136.75L629.25 140L626 143.25L622.75 140Z" fill="#ca404a"/>
<path d="M624 144.75L627.25 148L624 151.25L620.75 148Z" fill="#781c6d"/>
<path d="M621 132.75L624.25 136L621 139.25L617.75 136Z" fill="#f98c0a"/>
<path d="M626 133.75L629.25 137L626 140.25L622.75 137Z" fill="#e8602d"/>
<path d="M623 129.75L626.25 133L623 136.25L619.75 133Z" fill="#fbbe23"/>
<path d="M621 138.75L624.25 142L621 145.25L617.75 142Z" fill="#781c6d"/>
<path d="M622 131.75L625.25 135L622 138.25L618.75 135Z" fill="#ca404a"/>
<path d="M629 135.75L632.25 139L629 142.25L625.75 139Z" fill="#ca404a"/>
<path d="M620 131.75L623.25 135L620 138.25L616.75 135Z" fill="#e8602d"/>
<path d="M617 138.75L620.25 142L617 145.25L613.75 142Z" fill="#a22b62"/>
<path d="M623 133.75L626.25 137L623 140.25L619.75 137Z" fill="#fbbe23"/>
<path d="M629 133.75L632.25 137L629 140.25L625.75 137Z" fill="#fbbe23"/>
<path d="M627 134.75L630.25 138L627 141.25L623.75 138Z" fill="#e8602d"/>
<path d="M620 129.75L623.25 133L620 136.25L616.75 133Z" fill="#fbbe23"/>
<path d="M625 140.75L628.25 144L625 147.25L621.75 144Z" fill="#ca404a"/>
<path d="M629 146.75L632.25 150L629 153.25L625.75 150Z" fill="#781c6d"/>
<path d="M629 145.75L632.25 149L629 152.25L625.75 149Z" fill="#4d0d6c"/>
<path d="M619 131.75L622.25 135L619 138.25L615.75 135Z" fill="#e8602d"/>
<path d="M629 136.75L632.25 140L629 143.25L625.75 140Z" fill="#ca404a"/>
<path d="M625 134.75L628.25 138L625 141.25L621.75 138Z" fill="#e8602d"/>
<path d="M623 145.75L626.25 149L623 152.25L619.75 149Z" fill="#a22b62"/>
<path d="M632 138.75L635.25 142L632 145.25L628.75 142Z" fill="#781c6d"/>
<path d="M623 138.75L626.25 142L623 145.25L619.75 142Z" fill="#e8602d"/>
<path d="M624 132.75L627.25 136L624 139.25L620.75 136Z" fill="#f98c0a"/>
<path d="M631 136.75L634.25 140L631 143.25L627.75 140Z" fill="#ca404a"/>
<path d="M622 142.75L625.25 146L622 149.25L618.75 146Z" fill="#4d0d6c"/>
<path d="M620 147.75L623.25 151L620 154.25L616.75 151Z" fill="#781c6d"/>
<path d="M630 146.75L633.25 150L630 153.25L626.75 150Z" fill="#4d0d6c"/>
<path d="M617 142.75L620.25 146L617 149.25L613.75 146Z" fill="#4d0d6c"/>
<path d="M620 137.75L623.25 141L620 144.25L616.75 141Z" fill="#a22b62"/>
<path d="M623 139.75L626.25 143L623 146.25L619.75 143Z" fill="#781c6d"/>
<path d="M623 132.75L626.25 136L623 139.25L619.75 136Z" fill="#f98c0a"/>
<path d="M627 131.75L630.25 135L627 138.25L623.75 135Z" fill="#e8602d"/>
<path d="M623 133.75L626.25 137L623 140.25L619.75 137Z" fill="#a22b62"/>
<path d="M621 147.75L624.25 151L621 154.25L617.75 151Z" fill="#a22b62"/>
<path d="M627 130.75L630.25 134L627 137.25L623.75 134Z" fill="#f98c0a"/>
<path d="M623 146.75L626.25 150L623 153.25L619.75 150Z" fill="#781c6d"/>
<path d="M619 131.75L622.25 135L619 138.25L615.75 135Z" fill="#e8602d"/>
<path d="M631 144.75L634.25 148L631 151.25L627.75 148Z" fill="#781c6d"/>
<path d="M620 145.75L623.25 149L620 152.25L616.75 149Z" fill="#a22b62"/>
<path d="M622 137.75L625.25 141L622 144.25L618.75 141Z" fill="#a22b62"/>
<path d="M619 146.75L622.25 150L619 153.25L615.75 150Z" fill="#781c6d"/>
<path d="M627 135.75L630.25 139L627 142.25L623.75 139Z" fill="#a22b62"/>
<path d="M629 142.75L632.25 146L629 149.25L625.75 146Z" fill="#781c6d"/>
<path d="M624 148.75L627.25 152L624 155.25L620.75 152Z" fill="#4d0d6c"/>
<path d="M623 131.75L626.25 135L623 138.25L619.75 135Z" fill="#ca404a"/>
<path d="M618 144.75L621.25 148L618 151.25L614.75 148Z" fill="#a22b62"/>
<path d="M625 135.75L628.25 139L625 142.25L621.75 139Z" fill="#ca404a"/>
<path d="M624 145.75L627.25 149L624 152.25L620.75 149Z" fill="#781c6d"/>
<path d="M620 132.75L623.25 136L620 139.25L616.75 136Z" fill="#a22b62"/>
<path d="M624 142.75L627.25 146L624 149.25L620.75 146Z" fill="#ca404a"/>
<path d="M631 133.75L634.25 137L631 140.25L627.75 137Z" fill="#f98c0a"/>
<path d="M625 145.75L628.25 149L625 152.25L621.75 149Z" fill="#781c6d"/>
<path d="M619 129.75L622.25 133L619 136.25L615.75 133Z" fill="#fbbe23"/>
<path d="M626 132.75L629.25 136L626 139.25L622.75 136Z" fill="#f98c0a"/>
<path d="M623 148.75L626.25 152L623 155.25L619.75 152Z" fill="#4d0d6c"/>
<path d="M632 139.75L635.25 143L632 146.25L628.75 143Z" fill="#ca404a"/>
<path d="M632 137.75L635.25 141L632 144.25L628.75 141Z" fill="#ca404a"/>
<path d="M617 132.75L620.25 136L617 139.25L613.75 136Z" fill="#e8602d"/>
<path d="M621 137.75L624.25 141L621 144.25L617.75 141Z" fill="#a22b62"/>
<path d="M620 129.75L623.25 133L620 136.25L616.75 133Z" fill="#ca404a"/>
<path d="M622 129.75L625.25 133L622 136.25L618.75 133Z" fill="#f98c0a"/>
<path d="M631 144.75L634.25 148L631 151.25L627.75 148Z" fill="#781c6d"/>
<path d="M628 148.75L631.25 152L628 155.25L624.75 152Z" fill="#781c6d"/>
<path d="M630 143.75L633.25 147L630 150.25L626.75 147Z" fill="#4d0d6c"/>
<path d="M630 140.75L633.25 144L630 147.25L626.75 144Z" fill="#781c6d"/>
<path d="M621 135.75L624.25 139L621 142.25L617.75 139Z" fill="#e8602d"/>
<path d="M623 145.75L626.25 149L623 152.25L619.75 149Z" fill="#a22b62"/>
<path d="M630 132.75L633.25 136L630 139.25L626.75 136Z" fill="#f98c0a"/>
<path d="M620 141.75L623.25 145L620 148.25L616.75 145Z" fill="#781c6d"/>
<path d="M630 144.75L633.25 148L630 151.25L626.75 148Z" fill="#781c6d"/>
<path d="M627 134.75L630.25 138L627 141.25L623.75 138Z" fill="#e8602d"/>
<path d="M619 137.75L622.25 141L619 144.25L615.75 141Z" fill="#781c6d"/>
<path d="M620 127.75L623.25 131L620 134.25L616.75 131Z" fill="#f98c0a"/>
<path d="M632 130.75L635.25 134L632 137.25L628.75 134Z" fill="#ca404a"/>
<path d="M617 136.75L620.25 140L617 143.25L613.75 140Z" fill="#fbbe23"/>
<path d="M658 116.75L661.25 120L658 123.25L654.75 120Z" fill="#e8602d"/>
<path d="M664 113.75L667.25 117L664 120.25L660.75 117Z" fill="#a22b62"/>
<path d="M663 114.75L666.25 118L663 121.25L659.75 118Z" fill="#a22b62"/>
<path d="M668 118.75L671.25 122L668 125.25L664.75 122Z" fill="#e8602d"/>
<path d="M669 118.75L672.25 122L669 125.25L665.75 122Z" fill="#e8602d"/>
<path d="M665 114.75L668.25 118L665 121.25L661.75 118Z" fill="#a22b62"/>
<path d="M666 110.75L669.25 114L666 117.25L662.75 114Z" fill="#781c6d"/>
<path d="M664 109.75L667.25 113L664 116.25L660.75 113Z" fill="#781c6d"/>
<path d="M665 112.75L668.25 116L665 119.25L661.75 116Z" fill="#781c6d"/>
<path d="M667 114.75L670.25 118L667 121.25L663.75 118Z" fill="#e8602d"/>
<path d="M671 115.75L674.25 119L671 122.25L667.75 119Z" fill="#ca404a"/>
<path d="M662 117.75L665.25 121L662 124.25L658.75 121Z" fill="#f98c0a"/>
<path d="M661 108.75L664.25 112L661 115.25L657.75 112Z" fill="#781c6d"/>
<path d="M656 118.75L659.25 122L656 125.25L652.75 122Z" fill="#f98c0a"/>
<path d="M662 121.75L665.25 125L662 128.25L658.75 125Z" fill="#781c6d"/>
<path d="M660 120.75L663.25 124L660 127.25L656.75 124Z" fill="#e8602d"/>
<path d="M660 110.75L663.25 114L660 117.25L656.75 114Z" fill="#a22b62"/>
<path d="M668 121.75L671.25 125L668 128.25L664.75 125Z" fill="#ca404a"/>
<path d="M656 118.75L659.25 122L656 125.25L652.75 122Z" fill="#f98c0a"/>
<path d="M656 117.75L659.25 121L656 124.25L652.75 121Z" fill="#e8602d"/>
<path d="M665 117.75L668.25 121L665 124.25L661.75 121Z" fill="#e8602d"/>
<path d="M670 111.75L673.25 115L670 118.25L666.75 115Z" fill="#781c6d"/>
<path d="M671 120.75L674.25 124L671 127.25L667.75 124Z" fill="#e8602d"/>
<path d="M671 111.75L674.25 115L671 118.25L667.75 115Z" fill="#ca404a"/>
<path d="M664 110.75L667.25 114L664 117.25L660.75 114Z" fill="#781c6d"/>
<path d="M659 115.75L662.25 119L659 122.25L655.75 119Z" fill="#e8602d"/>
<path d="M660 120.75L663.25 124L660 127.25L656.75 124Z" fill="#f98c0a"/>
<path d="M662 117.75L665.25 121L662 124.25L658.75 121Z" fill="#ca404a"/>
<path d="M666 121.75L669.25 125L666 128.25L662.75 125Z" fill="#f98c0a"/>
<path d="M661 112.75L664.25 116L661 119.25L657.75 116Z" fill="#e8602d"/>
<path d="M671 118.75L674.25 122L671 125.25L667.75 122Z" fill="#f98c0a"/>
<path d="M666 117.75L669.25 121L666 124.25L662.75 121Z" fill="#e8602d"/>
<path d="M659 109.75L662.25 113L659 116.25L655.75 113Z" fill="#a22b62"/>
<path d="M659 119.75L662.25 123L659 126.25L655.75 123Z" fill="#fbbe23"/>
<path d="M662 118.75L665.25 122L662 125.25L658.75 122Z" fill="#ca404a"/>
<path d="M658 116.75L661.25 120L658 123.25L654.75 120Z" fill="#ca404a"/>
<path d="M659 113.75L662.25 117L659 120.25L655.75 117Z" fill="#ca404a"/>
<path d="M660 116.75L663.25 120L660 123.25L656.75 120Z" fill="#f98c0a"/>
<path d="M670 120.75L673.25 124L670 127.25L666.75 124Z" fill="#e8602d"/>
<path d="M663 117.75L666.25 121L663 124.25L659.75 121Z" fill="#ca404a"/>
<path d="M664 112.75L667.25 116L664 119.25L660.75 116Z" fill="#e8602d"/>
<path d="M665 117.75L668.25 121L665 124.25L661.75 121Z" fill="#a22b62"/>
<path d="M665 120.75L668.25 124L665 127.25L661.75 124Z" fill="#e8602d"/>
<path d="M663 121.75L666.25 125L663 128.25L659.75 125Z" fill="#f98c0a"/>
<path d="M661 116.75L664.25 120L661 123.25L657.75 120Z" fill="#a22b62"/>
<path d="M659 115.75L662.25 119L659 122.25L655.75 119Z" fill="#ca404a"/>
<path d="M657 118.75L660.25 122L657 125.25L653.75 122Z" fill="#e8602d"/>
<path d="M657 112.75L660.25 116L657 119.25L653.75 116Z" fill="#e8602d"/>
<path d="M666 120.75L669.25 124L666 127.25L662.75 124Z" fill="#f98c0a"/>
<path d="M671 112.75L674.25 116L671 119.25L667.75 116Z" fill="#ca404a"/>
<path d="M665 114.75L668.25 118L665 121.25L661.75 118Z" fill="#a22b62"/>
<path d="M669 116.75L672.25 120L669 123.25L665.75 120Z" fill="#f98c0a"/>
<path d="M663 120.75L666.25 124L663 127.25L659.75 124Z" fill="#f98c0a"/>
<path d="M666 116.75L669.25 120L666 123.25L662.75 120Z" fill="#e8602d"/>
<path d="M671 118.75L674.25 122L671 125.25L667.75 122Z" fill="#ca404a"/>
<path d="M667 118.75L670.25 122L667 125.25L663.75 122Z" fill="#f98c0a"/>
<path d="M661 117.75L664.25 121L661 124.25L657.75 121Z" fill="#ca404a"/>
<path d="M669 119.75L672.25 123L669 126.25L665.75 123Z" fill="#e8602d"/>
<path d="M661 122.75L664.25 126L661 129.25L657.75 126Z" fill="#ca404a"/>
<path d="M670 118.75L673.25 122L670 125.25L666.75 122Z" fill="#e8602d"/>
<path d="M660 111.75L663.25 115L660 118.25L656.75 115Z" fill="#ca404a"/>
<path d="M666 111.75L669.25 115L666 118.25L662.75 115Z" fill="#ca404a"/>
<path d="M664 117.75L667.25 121L664 124.25L660.75 121Z" fill="#e8602d"/>
<path d="M664 112.75L667.25 116L664 119.25L660.75 116Z" fill="#781c6d"/>
<path d="M658 110.75L661.25 114L658 117.25L654.75 114Z" fill="#ca404a"/>
<path d="M665 108.75L668.25 112L665 115.25L661.75 112Z" fill="#a22b62"/>
<path d="M667 114.75L670.25 118L667 121.25L663.75 118Z" fill="#a22b62"/>
<path d="M663 111.75L666.25 115L663 118.25L659.75 115Z" fill="#a22b62"/>
<path d="M671 117.75L674.25 121L671 124.25L667.75 121Z" fill="#f98c0a"/>
<path d="M667 119.75L670.25 123L667 126.25L663.75 123Z" fill="#ca404a"/>
<path d="M658 118.75L661.25 122L658 125.25L654.75 122Z" fill="#e8602d"/>
<path d="M662 112.75L665.25 116L662 119.25L658.75 116Z" fill="#781c6d"/>
<path d="M657 112.75L660.25 116L657 119.25L653.75 116Z" fill="#e8602d"/>
<path d="M665 112.75L668.25 116L665 119.25L661.75 116Z" fill="#a22b62"/>
<path d="M658 115.75L661.25 119L658 122.25L654.75 119Z" fill="#e8602d"/>
<path d="M662 118.75L665.25 122L662 125.25L658.75 122Z" fill="#f98c0a"/>
<path d="M658 122.75L661.25 126L658 129.25L654.75 126Z" fill="#ca404a"/>
<path d="M657 114.75L660.25 118L657 121.25L653.75 118Z" fill="#ca404a"/>
<path d="M669 120.75L672.25 124L669 127.25L665.75 124Z" fill="#e8602d"/>
<path d="M667 116.75L670.25 120L667 123.25L663.75 120Z" fill="#a22b62"/>
<path d="M666 113.75L669.25 117L666 120.25L662.75 117Z" fill="#ca404a"/>
<path d="M665 111.75L668.25 115L665 118.25L661.75 115Z" fill="#a22b62"/>
<path d="M665 119.75L668.25 123L665 126.25L661.75 123Z" fill="#f98c0a"/>
<path d="M657 110.75L660.25 114L657 117.25L653.75 114Z" fill="#781c6d"/>
<path d="M665 117.75L668.25 121L665 124.25L661.75 121Z" fill="#ca404a"/>
<path d="M660 133.75L663.25 137L660 140.25L656.75 137Z" fill="#4d0d6c"/>
<path d="M669 129.75L672.25 133L669 136.25L665.75 133Z" fill="#781c6d"/>
<path d="M671 127.75L674.25 131L671 134.25L667.75 131Z" fill="#781c6d"/>
<path d="M668 122.75L671.25 126L668 129.25L664.75 126Z" fill="#fbbe23"/>
<path d="M672 120.75L675.25 124L672 127.25L668.75 124Z" fill="#fbbe23"/>
<path d="M697 107.75L700.25 111L697 114.25L693.75 111Z" fill="#e8602d"/>
<path d="M702 101.75L705.25 105L702 108.25L698.75 105Z" fill="#f98c0a"/>
<path d="M696 104.75L699.25 108L696 111.25L692.75 108Z" fill="#e8602d"/>
<path d="M710 108.75L713.25 112L710 115.25L706.75 112Z" fill="#e8602d"/>
<path d="M706 107.75L709.25 111L706 114.25L702.75 111Z" fill="#ca404a"/>
<path d="M699 105.75L702.25 109L699 112.25L695.75 109Z" fill="#a22b62"/>
<path d="M704 102.75L707.25 106L704 109.25L700.75 106Z" fill="#e8602d"/>
<path d="M698 106.75L701.25 110L698 113.25L694.75 110Z" fill="#f98c0a"/>
<path d="M703 105.75L706.25 109L703 112.25L699.75 109Z" fill="#f98c0a"/>
<path d="M704 109.75L707.25 113L704 116.25L700.75 113Z" fill="#f98c0a"/>
<path d="M710 107.75L713.25 111L710 114.25L706.75 111Z" fill="#f98c0a"/>
<path d="M709 103.75L712.25 107L709 110.25L705.75 107Z" fill="#ca404a"/>
<path d="M706 107.75L709.25 111L706 114.25L702.75 111Z" fill="#e8602d"/>
<path d="M698 112.75L701.25 116L698 119.25L694.75 116Z" fill="#fbbe23"/>
<path d="M703 106.75L706.25 110L703 113.25L699.75 110Z" fill="#e8602d"/>
<path d="M702 104.75L705.25 108L702 111.25L698.75 108Z" fill="#ca404a"/>
<path d="M704 104.75L707.25 108L704 111.25L700.75 108Z" fill="#f98c0a"/>
<path d="M708 111.75L711.25 115L708 118.25L704.75 115Z" fill="#f98c0a"/>
<path d="M705 104.75L708.25 108L705 111.25L701.75 108Z" fill="#ca404a"/>
<path d="M702 101.75L705.25 105L702 108.25L698.75 105Z" fill="#ca404a"/>
<path d="M701 102.75L704.25 106L701 109.25L697.75 106Z" fill="#ca404a"/>
<path d="M698 105.75L701.25 109L698 112.25L694.75 109Z" fill="#ca404a"/>
<path d="M705 100.75L708.25 104L705 107.25L701.75 104Z" fill="#a22b62"/>
<path d="M705 107.75L708.25 111L705 114.25L701.75 111Z" fill="#f98c0a"/>
<path d="M703 100.75L706.25 104L703 107.25L699.75 104Z" fill="#ca404a"/>
<path d="M708 101.75L711.25 105L708 108.25L704.75 105Z" fill="#781c6d"/>
<path d="M699 112.75L702.25 116L699 119.25L695.75 116Z" fill="#fbbe23"/>
<path d="M702 111.75L705.25 115L702 118.25L698.75 115Z" fill="#fbbe23"/>
<path d="M700 109.75L703.25 113L700 116.25L696.75 113Z" fill="#e8602d"/>
<path d="M698 110.75L701.25 114L698 117.25L694.75 114Z" fill="#e8602d"/>
<path d="M710 103.75L713.25 107L710 110.25L706.75 107Z" fill="#e8602d"/>
<path d="M708 111.75L711.25 115L708 118.25L704.75 115Z" fill="#f98c0a"/>
<path d="M705 113.75L708.25 117L705 120.25L701.75 117Z" fill="#fbbe23"/>
<path d="M700 101.75L703.25 105L700 108.25L696.75 105Z" fill="#e8602d"/>
<path d="M706 102.75L709.25 106L706 109.25L702.75 106Z" fill="#e8602d"/>
<path d="M700 107.75L703.25 111L700 114.25L696.75 111Z" fill="#e8602d"/>
<path d="M705 107.75L708.25 111L705 114.25L701.75 111Z" fill="#f98c0a"/>
<path d="M706 103.75L709.25 107L706 110.25L702.75 107Z" fill="#e8602d"/>
<path d="M702 110.75L705.25 114L702 117.25L698.75 114Z" fill="#fbbe23"/>
<path d="M703 106.75L706.25 110L703 113.25L699.75 110Z" fill="#e8602d"/>
<path d="M702 108.75L705.25 112L702 115.25L698.75 112Z" fill="#e8602d"/>
<path d="M709 103.75L712.25 107L709 110.25L705.75 107Z" fill="#ca404a"/>
<path d="M702 111.75L705.25 115L702 118.25L698.75 115Z" fill="#e8602d"/>
<path d="M708 109.75L711.25 113L708 116.25L704.75 113Z" fill="#f98c0a"/>
<path d="M709 108.75L712.25 112L709 115.25L705.75 112Z" fill="#fbbe23"/>
<path d="M706 102.75L709.25 106L706 109.25L702.75 106Z" fill="#e8602d"/>
<path d="M699 104.75L702.25 108L699 111.25L695.75 108Z" fill="#e8602d"/>
<path d="M702 108.75L705.25 112L702 115.25L698.75 112Z" fill="#e8602d"/>
<path d="M702 104.75L705.25 108L702 111.25L698.75 108Z" fill="#ca404a"/>
<path d="M701 111.75L704.25 115L701 118.25L697.75 115Z" fill="#e8602d"/>
<path d="M710 101.75L713.25 105L710 108.25L706.75 105Z" fill="#ca404a"/>
<path d="M701 107.75L704.25 111L701 114.25L697.75 111Z" fill="#fbbe23"/>
<path d="M697 111.75L700.25 115L697 118.25L693.75 115Z" fill="#e8602d"/>
<path d="M703 111.75L706.25 115L703 118.25L699.75 115Z" fill="#fbbe23"/>
<path d="M708 106.75L711.25 110L708 113.25L704.75 110Z" fill="#e8602d"/>
<path d="M698 104.75L701.25 108L698 111.25L694.75 108Z" fill="#ca404a"/>
<path d="M700 111.75L703.25 115L700 118.25L696.75 115Z" fill="#e8602d"/>
<path d="M708 112.75L711.25 116L708 119.25L704.75 116Z" fill="#f98c0a"/>
<path d="M699 104.75L702.25 108L699 111.25L695.75 108Z" fill="#e8602d"/>
<path d="M702 109.75L705.25 113L702 116.25L698.75 113Z" fill="#f98c0a"/>
<path d="M707 103.75L710.25 107L707 110.25L703.75 107Z" fill="#ca404a"/>
<path d="M704 103.75L707.25 107L704 110.25L700.75 107Z" fill="#a22b62"/>
<path d="M706 109.75L709.25 113L706 116.25L702.75 113Z" fill="#ca404a"/>
<path d="M696 107.75L699.25 111L696 114.25L692.75 111Z" fill="#e8602d"/>
<path d="M706 103.75L709.25 107L706 110.25L702.75 107Z" fill="#a22b62"/>
<path d="M707 112.75L710.25 116L707 119.25L703.75 116Z" fill="#fbbe23"/>
<path d="M705 101.75L708.25 105L705 108.25L701.75 105Z" fill="#ca404a"/>
<path d="M702 100.75L705.25 104L702 107.25L698.75 104Z" fill="#a22b62"/>
<path d="M709 104.75L712.25 108L709 111.25L705.75 108Z" fill="#ca404a"/>
<path d="M697 107.75L700.25 111L697 114.25L693.75 111Z" fill="#e8602d"/>
<path d="M705 105.75L708.25 109L705 112.25L701.75 109Z" fill="#e8602d"/>
<path d="M702 104.75L705.25 108L702 111.25L698.75 108Z" fill="#ca404a"/>
<path d="M700 110.75L703.25 114L700 117.25L696.75 114Z" fill="#f98c0a"/>
<path d="M708 101.75L711.25 105L708 108.25L704.75 105Z" fill="#e8602d"/>
<path d="M708 103.75L711.25 107L708 110.25L704.75 107Z" fill="#ca404a"/>
<path d="M702 96.75L705.25 100L702 103.25L698.75 100Z" fill="#4d0d6c"/>
<path d="M708 97.75L711.25 101L708 104.25L704.75 101Z" fill="#781c6d"/>
<path d="M712 97.75L715.25 101L712 104.25L708.75 101Z" fill="#a22b62"/>
<path d="M695 117.75L698.25 121L695 124.25L691.75 121Z" fill="#a22b62"/>
<path d="M699 121.75L702.25 125L699 128.25L695.75 125Z" fill="#a22b62"/>
<path d="M705 120.75L708.25 124L705 127.25L701.75 124Z" fill="#781c6d"/>
<path d="M701 115.75L704.25 119L701 122.25L697.75 119Z" fill="#781c6d"/>
<path d="M739 87.75L742.25 91L739 94.25L735.75 91Z" fill="#e8602d"/>
<path d="M745 79.75L748.25 83L745 86.25L741.75 83Z" fill="#4d0d6c"/>
<path d="M745 96.75L748.25 100L745 103.25L741.75 100Z" fill="#781c6d"/>
<path d="M749 95.75L752.25 99L749 102.25L745.75 99Z" fill="#ca404a"/>
<path d="M746 93.75L749.25 97L746 100.25L742.75 97Z" fill="#ca404a"/>
<path d="M742 98.75L745.25 102L742 105.25L738.75 102Z" fill="#e8602d"/>
<path d="M741 80.75L744.25 84L741 87.25L737.75 84Z" fill="#4d0d6c"/>
<path d="M739 101.75L742.25 105L739 108.25L735.75 105Z" fill="#f98c0a"/>
<path d="M739 98.75L742.25 102L739 105.25L735.75 102Z" fill="#a22b62"/>
<path d="M739 93.75L742.25 97L739 100.25L735.75 97Z" fill="#ca404a"/>
<path d="M743 89.75L746.25 93L743 96.25L739.75 93Z" fill="#a22b62"/>
<path d="M745 78.75L748.25 82L745 85.25L741.75 82Z" fill="#4d0d6c"/>
<path d="M746 87.75L749.25 91L746 94.25L742.75 91Z" fill="#f98c0a"/>
<path d="M743 88.75L746.25 92L743 95.25L739.75 92Z" fill="#f98c0a"/>
<path d="M749 93.75L752.25 97L749 100.25L745.75 97Z" fill="#e8602d"/>
<path d="M745 99.75L748.25 103L745 106.25L741.75 103Z" fill="#f98c0a"/>
<path d="M744 89.75L747.25 93L744 96.25L740.75 93Z" fill="#f98c0a"/>
<path d="M738 88.75L741.25 92L738 95.25L734.75 92Z" fill="#ca404a"/>
<path d="M740 83.75L743.25 87L740 90.25L736.75 87Z" fill="#a22b62"/>
<path d="M747 98.75L750.25 102L747 105.25L743.75 102Z" fill="#a22b62"/>
<path d="M742 90.75L745.25 94L742 97.25L738.75 94Z" fill="#e8602d"/>
<path d="M737 86.75L740.25 90L737 93.25L733.75 90Z" fill="#a22b62"/>
<path d="M744 86.75L747.25 90L744 93.25L740.75 90Z" fill="#a22b62"/>
<path d="M738 93.75L741.25 97L738 100.25L734.75 97Z" fill="#a22b62"/>
<path d="M738 99.75L741.25 103L738 106.25L734.75 103Z" fill="#e8602d"/>
<path d="M739 79.75L742.25 83L739 86.25L735.75 83Z" fill="#781c6d"/>
<path d="M740 91.75L743.25 95L740 98.25L736.75 95Z" fill="#a22b62"/>
<path d="M742 80.75L745.25 84L742 87.25L738.75 84Z" fill="#a22b62"/>
<path d="M749 94.75L752.25 98L749 101.25L745.75 98Z" fill="#f98c0a"/>
<path d="M738 93.75L741.25 97L738 100.25L734.75 97Z" fill="#a22b62"/>
<path d="M744 100.75L747.25 104L744 107.25L740.75 104Z" fill="#f98c0a"/>
<path d="M749 87.75L752.25 91L749 94.25L745.75 91Z" fill="#f98c0a"/>
<path d="M749 87.75L752.25 91L749 94.25L745.75 91Z" fill="#ca404a"/>
<path d="M736 89.75L739.25 93L736 96.25L732.75 93Z" fill="#f98c0a"/>
<path d="M747 83.75L750.25 87L747 90.25L743.75 87Z" fill="#e8602d"/>
<path d="M740 94.75L743.25 98L740 101.25L736.75 98Z" fill="#e8602d"/>
<path d="M741 98.75L744.25 102L741 105.25L737.75 102Z" fill="#f98c0a"/>
<path d="M749 99.75L752.25 103L749 106.25L745.75 103Z" fill="#a22b62"/>
<path d="M738 99.75L741.25 103L738 106.25L734.75 103Z" fill="#ca404a"/>
<path d="M740 78.75L743.25 82L740 85.25L736.75 82Z" fill="#4d0d6c"/>
<path d="M735 92.75L738.25 96L735 99.25L731.75 96Z" fill="#e8602d"/>
<path d="M739 82.75L742.25 86L739 89.25L735.75 86Z" fill="#a22b62"/>
<path d="M743 79.75L746.25 83L743 86.25L739.75 83Z" fill="#a22b62"/>
<path d="M749 84.75L752.25 88L749 91.25L745.75 88Z" fill="#781c6d"/>
<path d="M748 92.75L751.25 96L748 99.25L744.75 96Z" fill="#fbbe23"/>
<path d="M745 96.75L748.25 100L745 103.25L741.75 100Z" fill="#ca404a"/>
<path d="M741 95.75L744.25 99L741 102.25L737.75 99Z" fill="#a22b62"/>
<path d="M740 84.75L743.25 88L740 91.25L736.75 88Z" fill="#e8602d"/>
<path d="M737 78.75L740.25 82L737 85.25L733.75 82Z" fill="#a22b62"/>
<path d="M737 86.75L740.25 90L737 93.25L733.75 90Z" fill="#781c6d"/>
<path d="M749 82.75L752.25 86L749 89.25L745.75 86Z" fill="#781c6d"/>
<path d="M741 100.75L744.25 104L741 107.25L737.75 104Z" fill="#f98c0a"/>
<path d="M746 92.75L749.25 96L746 99.25L742.75 96Z" fill="#ca404a"/>
<path d="M739 99.75L742.25 103L739 106.25L735.75 103Z" fill="#f98c0a"/>
<path d="M741 99.75L744.25 103L741 106.25L737.75 103Z" fill="#fbbe23"/>
<path d="M738 87.75L741.25 91L738 94.25L734.75 91Z" fill="#ca404a"/>
<path d="M748 82.75L751.25 86L748 89.25L744.75 86Z" fill="#a22b62"/>
<path d="M739 98.75L742.25 102L739 105.25L735.75 102Z" fill="#f98c0a"/>
<path d="M746 83.75L749.25 87L746 90.25L742.75 87Z" fill="#4d0d6c"/>
<path d="M744 85.75L747.25 89L744 92.25L740.75 89Z" fill="#781c6d"/>
<path d="M749 92.75L752.25 96L749 99.25L745.75 96Z" fill="#ca404a"/>
<path d="M740 81.75L743.25 85L740 88.25L736.75 85Z" fill="#ca404a"/>
<path d="M743 98.75L746.25 102L743 105.25L739.75 102Z" fill="#fbbe23"/>
<path d="M738 96.75L741.25 100L738 103.25L734.75 100Z" fill="#e8602d"/>
<path d="M744 89.75L747.25 93L744 96.25L740.75 93Z" fill="#a22b62"/>
<path d="M738 83.75L741.25 87L738 90.25L734.75 87Z" fill="#a22b62"/>
<path d="M742 90.75L745.25 94L742 97.25L738.75 94Z" fill="#a22b62"/>
<path d="M748 81.75L751.25 85L748 88.25L744.75 85Z" fill="#a22b62"/>
<path d="M749 91.75L752.25 95L749 98.25L745.75 95Z" fill="#f98c0a"/>
<path d="M742 87.75L745.25 91L742 94.25L738.75 91Z" fill="#781c6d"/>
<path d="M743 97.75L746.25 101L743 104.25L739.75 101Z" fill="#ca404a"/>
<path d="M749 81.75L752.25 85L749 88.25L745.75 85Z" fill="#781c6d"/>
<path d="M747 80.75L750.25 84L747 87.25L743.75 84Z" fill="#a22b62"/>
<path d="M744 90.75L747.25 94L744 97.25L740.75 94Z" fill="#a22b62"/>
<path d="M737 82.75L740.25 86L737 89.25L733.75 86Z" fill="#781c6d"/>
<path d="M745 88.75L748.25 92L745 95.25L741.75 92Z" fill="#ca404a"/>
<path d="M743 97.75L746.25 101L743 104.25L739.75 101Z" fill="#ca404a"/>
<path d="M748 97.75L751.25 101L748 104.25L744.75 101Z" fill="#4d0d6c"/>
<path d="M738 94.75L741.25 98L738 101.25L734.75 98Z" fill="#a22b62"/>
<path d="M741 98.75L744.25 102L741 105.25L737.75 102Z" fill="#ca404a"/>
<path d="M737 85.75L740.25 89L737 92.25L733.75 89Z" fill="#a22b62"/>
<path d="M746 97.75L749.25 101L746 104.25L742.75 101Z" fill="#e8602d"/>
<path d="M738 92.75L741.25 96L738 99.25L734.75 96Z" fill="#e8602d"/>
<path d="M742 100.75L745.25 104L742 107.25L738.75 104Z" fill="#fbbe23"/>
<path d="M739 82.75L742.25 86L739 89.25L735.75 86Z" fill="#4d0d6c"/>
<path d="M747 97.75L750.25 101L747 104.25L743.75 101Z" fill="#f98c0a"/>
<path d="M735 87.75L738.25 91L735 94.25L731.75 91Z" fill="#a22b62"/>
<path d="M739 78.75L742.25 82L739 85.25L735.75 82Z" fill="#a22b62"/>
<path d="M739 90.75L742.25 94L739 97.25L735.75 94Z" fill="#e8602d"/>
<path d="M738 84.75L741.25 88L738 91.25L734.75 88Z" fill="#a22b62"/>
<path d="M736 90.75L739.25 94L736 97.25L732.75 94Z" fill="#ca404a"/>
<path d="M744 100.75L747.25 104L744 107.25L740.75 104Z" fill="#fbbe23"/>
<path d="M744 98.75L747.25 102L744 105.25L740.75 102Z" fill="#fbbe23"/>
<path d="M743 91.75L746.25 95L743 98.25L739.75 95Z" fill="#781c6d"/>
<path d="M742 88.75L745.25 92L742 95.25L738.75 92Z" fill="#ca404a"/>
<path d="M738 91.75L741.25 95L738 98.25L734.75 95Z" fill="#ca404a"/>
<path d="M739 84.75L742.25 88L739 91.25L735.75 88Z" fill="#a22b62"/>
<path d="M737 92.75L740.25 96L737 99.25L733.75 96Z" fill="#f98c0a"/>
<path d="M745 97.75L748.25 101L745 104.25L741.75 101Z" fill="#f98c0a"/>
<path d="M742 100.75L745.25 104L742 107.25L738.75 104Z" fill="#ca404a"/>
<path d="M740 82.75L743.25 86L740 89.25L736.75 86Z" fill="#4d0d6c"/>
<path d="M745 84.75L748.25 88L745 91.25L741.75 88Z" fill="#a22b62"/>
<path d="M737 95.75L740.25 99L737 102.25L733.75 99Z" fill="#ca404a"/>
<path d="M746 94.75L749.25 98L746 101.25L742.75 98Z" fill="#e8602d"/>
<path d="M748 91.75L751.25 95L748 98.25L744.75 95Z" fill="#ca404a"/>
<path d="M746 98.75L749.25 102L746 105.25L742.75 102Z" fill="#ca404a"/>
<path d="M746 91.75L749.25 95L746 98.25L742.75 95Z" fill="#ca404a"/>
<path d="M739 99.75L742.25 103L739 106.25L735.75 103Z" fill="#f98c0a"/>
<path d="M739 79.75L742.25 83L739 86.25L735.75 83Z" fill="#781c6d"/>
<path d="M735 92.75L738.25 96L735 99.25L731.75 96Z" fill="#a22b62"/>
<path d="M780 87.75L783.25 91L780 94.25L776.75 91Z" fill="#f98c0a"/>
<path d="M789 81.75L792.25 85L789 88.25L785.75 85Z" fill="#e8602d"/>
<path d="M775 86.75L778.25 90L775 93.25L771.75 90Z" fill="#fbbe23"/>
<path d="M778 80.75L781.25 84L778 87.25L774.75 84Z" fill="#ca404a"/>
<path d="M788 84.75L791.25 88L788 91.25L784.75 88Z" fill="#e8602d"/>
<path d="M785 67.75L788.25 71L785 74.25L781.75 71Z" fill="#ca404a"/>
<path d="M789 80.75L792.25 84L789 87.25L785.75 84Z" fill="#ca404a"/>
<path d="M776 78.75L779.25 82L776 85.25L772.75 82Z" fill="#e8602d"/>
<path d="M785 87.75L788.25 91L785 94.25L781.75 91Z" fill="#e8602d"/>
<path d="M774 71.75L777.25 75L774 78.25L770.75 75Z" fill="#e8602d"/>
<path d="M781 84.75L784.25 88L781 91.25L777.75 88Z" fill="#f98c0a"/>
<path d="M778 67.75L781.25 71L778 74.25L774.75 71Z" fill="#ca404a"/>
<path d="M778 70.75L781.25 74L778 77.25L774.75 74Z" fill="#e8602d"/>
<path d="M787 70.75L790.25 74L787 77.25L783.75 74Z" fill="#ca404a"/>
<path d="M776 82.75L779.25 86L776 89.25L772.75 86Z" fill="#ca404a"/>
<path d="M780 81.75L783.25 85L780 88.25L776.75 85Z" fill="#e8602d"/>
<path d="M781 79.75L784.25 83L781 86.25L777.75 83Z" fill="#e8602d"/>
<path d="M780 81.75L783.25 85L780 88.25L776.75 85Z" fill="#ca404a"/>
<path d="M780 73.75L783.25 77L780 80.25L776.75 77Z" fill="#e8602d"/>
<path d="M781 81.75L784.25 85L781 88.25L777.75 85Z" fill="#a22b62"/>
<path d="M785 79.75L788.25 83L785 86.25L781.75 83Z" fill="#ca404a"/>
<path d="M778 80.75L781.25 84L778 87.25L774.75 84Z" fill="#fbbe23"/>
<path d="M783 63.75L786.25 67L783 70.25L779.75 67Z" fill="#781c6d"/>
<path d="M776 74.75L779.25 78L776 81.25L772.75 78Z" fill="#781c6d"/>
<path d="M777 75.75L780.25 79L777 82.25L773.75 79Z" fill="#ca404a"/>
<path d="M787 68.75L790.25 72L787 75.25L783.75 72Z" fill="#ca404a"/>
<path d="M777 73.75L780.25 77L777 80.25L773.75 77Z" fill="#a22b62"/>
<path d="M782 69.75L785.25 73L782 76.25L778.75 73Z" fill="#e8602d"/>
<path d="M786 86.75L789.25 90L786 93.25L782.75 90Z" fill="#a22b62"/>
<path d="M782 73.75L785.25 77L782 80.25L778.75 77Z" fill="#e8602d"/>
<path d="M780 71.75L783.25 75L780 78.25L776.75 75Z" fill="#f98c0a"/>
<path d="M774 75.75L777.25 79L774 82.25L770.75 79Z" fill="#e8602d"/>
<path d="M780 74.75L783.25 78L780 81.25L776.75 78Z" fill="#781c6d"/>
<path d="M784 73.75L787.25 77L784 80.25L780.75 77Z" fill="#ca404a"/>
<path d="M788 78.75L791.25 82L788 85.25L784.75 82Z" fill="#f98c0a"/>
<path d="M777 76.75L780.25 80L777 83.25L773.75 80Z" fill="#f98c0a"/>
<path d="M786 65.75L789.25 69L786 72.25L782.75 69Z" fill="#a22b62"/>
<path d="M787 79.75L790.25 83L787 86.25L783.75 83Z" fill="#ca404a"/>
<path d="M780 76.75L783.25 80L780 83.25L776.75 80Z" fill="#ca404a"/>
<path d="M780 75.75L783.25 79L780 82.25L776.75 79Z" fill="#781c6d"/>
<path d="M782 77.75L785.25 81L782 84.25L778.75 81Z" fill="#ca404a"/>
<path d="M774 75.75L777.25 79L774 82.25L770.75 79Z" fill="#ca404a"/>
<path d="M777 78.75L780.25 82L777 85.25L773.75 82Z" fill="#e8602d"/>
<path d="M778 76.75L781.25 80L778 83.25L774.75 80Z" fill="#ca404a"/>
<path d="M781 81.75L784.25 85L781 88.25L777.75 85Z" fill="#e8602d"/>
<path d="M784 88.75L787.25 92L784 95.25L780.75 92Z" fill="#e8602d"/>
<path d="M780 80.75L783.25 84L780 87.25L776.75 84Z" fill="#f98c0a"/>
<path d="M785 82.75L788.25 86L785 89.25L781.75 86Z" fill="#ca404a"/>
<path d="M780 79.75L783.25 83L780 86.25L776.75 83Z" fill="#ca404a"/>
<path d="M783 82.75L786.25 86L783 89.25L779.75 86Z" fill="#f98c0a"/>
<path d="M781 63.75L784.25 67L781 70.25L777.75 67Z" fill="#ca404a"/>
<path d="M776 77.75L779.25 81L776 84.25L772.75 81Z" fill="#f98c0a"/>
<path d="M786 77.75L789.25 81L786 84.25L782.75 81Z" fill="#ca404a"/>
<path d="M788 83.75L791.25 87L788 90.25L784.75 87Z" fill="#e8602d"/>
<path d="M788 81.75L791.25 85L788 88.25L784.75 85Z" fill="#ca404a"/>
<path d="M778 74.75L781.25 78L778 81.25L774.75 78Z" fill="#ca404a"/>
<path d="M787 75.75L790.25 79L787 82.25L783.75 79Z" fill="#e8602d"/>
<path d="M779 75.75L782.25 79L779 82.25L775.75 79Z" fill="#a22b62"/>
<path d="M780 81.75L783.25 85L780 88.25L776.75 85Z" fill="#a22b62"/>
<path d="M781 82.75L784.25 86L781 89.25L777.75 86Z" fill="#e8602d"/>
<path d="M780 83.75L783.25 87L780 90.25L776.75 87Z" fill="#e8602d"/>
<path d="M786 70.75L789.25 74L786 77.25L782.75 74Z" fill="#e8602d"/>
<path d="M779 65.75L782.25 69L779 72.25L775.75 69Z" fill="#ca404a"/>
<path d="M778 82.75L781.25 86L778 89.25L774.75 86Z" fill="#e8602d"/>
<path d="M786 70.75L789.25 74L786 77.25L782.75 74Z" fill="#ca404a"/>
<path d="M778 80.75L781.25 84L778 87.25L774.75 84Z" fill="#e8602d"/>
<path d="M786 64.75L789.25 68L786 71.25L782.75 68Z" fill="#781c6d"/>
<path d="M783 64.75L786.25 68L783 71.25L779.75 68Z" fill="#4d0d6c"/>
<path d="M785 84.75L788.25 88L785 91.25L781.75 88Z" fill="#a22b62"/>
<path d="M777 74.75L780.25 78L777 81.25L773.75 78Z" fill="#a22b62"/>
<path d="M784 68.75L787.25 72L784 75.25L780.75 72Z" fill="#ca404a"/>
<path d="M777 68.75L780.25 72L777 75.25L773.75 72Z" fill="#ca404a"/>
<path d="M782 83.75L785.25 87L782 90.25L778.75 87Z" fill="#e8602d"/>
<path d="M787 75.75L790.25 79L787 82.25L783.75 79Z" fill="#ca404a"/>
<path d="M786 68.75L789.25 72L786 75.25L782.75 72Z" fill="#ca404a"/>
<path d="M778 80.75L781.25 84L778 87.25L774.75 84Z" fill="#a22b62"/>
<path d="M775 75.75L778.25 79L775 82.25L771.75 79Z" fill="#ca404a"/>
<path d="M781 66.75L784.25 70L781 73.25L777.75 70Z" fill="#f98c0a"/>
<path d="M775 71.75L778.25 75L775 78.25L771.75 75Z" fill="#a22b62"/>
<path d="M778 81.75L781.25 85L778 88.25L774.75 85Z" fill="#ca404a"/>
<path d="M786 65.75L789.25 69L786 72.25L782.75 69Z" fill="#a22b62"/>
<path d="M787 69.75L790.25 73L787 76.25L783.75 73Z" fill="#781c6d"/>
<path d="M787 74.75L790.25 78L787 81.25L783.75 78Z" fill="#ca404a"/>
<path d="M783 77.75L786.25 81L783 84.25L779.75 81Z" fill="#e8602d"/>
<path d="M784 81.75L787.25 85L784 88.25L780.75 85Z" fill="#a22b62"/>
<path d="M782 85.75L785.25 89L782 92.25L778.75 89Z" fill="#ca404a"/>
<path d="M783 78.75L786.25 82L783 85.25L779.75 82Z" fill="#e8602d"/>
<path d="M781 68.75L784.25 72L781 75.25L777.75 72Z" fill="#a22b62"/>
<path d="M775 70.75L778.25 74L775 77.25L771.75 74Z" fill="#ca404a"/>
<path d="M781 81.75L784.25 85L781 88.25L777.75 85Z" fill="#f98c0a"/>
<path d="M784 83.75L787.25 87L784 90.25L780.75 87Z" fill="#ca404a"/>
<path d="M776 65.75L779.25 69L776 72.25L772.75 69Z" fill="#a22b62"/>
<path d="M780 64.75L783.25 68L780 71.25L776.75 68Z" fill="#4d0d6c"/>
<path d="M779 64.75L782.25 68L779 71.25L775.75 68Z" fill="#781c6d"/>
<path d="M777 84.75L780.25 88L777 91.25L773.75 88Z" fill="#f98c0a"/>
<path d="M779 87.75L782.25 91L779 94.25L775.75 91Z" fill="#e8602d"/>
<path d="M774 85.75L777.25 89L774 92.25L770.75 89Z" fill="#f98c0a"/>
<path d="M781 66.75L784.25 70L781 73.25L777.75 70Z" fill="#a22b62"/>
<path d="M781 88.75L784.25 92L781 95.25L777.75 92Z" fill="#fbbe23"/>
<path d="M784 81.75L787.25 85L784 88.25L780.75 85Z" fill="#f98c0a"/>
<path d="M774 64.75L777.25 68L774 71.25L770.75 68Z" fill="#781c6d"/>
<path d="M778 66.75L781.25 70L778 73.25L774.75 70Z" fill="#781c6d"/>
<path d="M783 66.75L786.25 70L783 73.25L779.75 70Z" fill="#781c6d"/>
<path d="M788 67.75L791.25 71L788 74.25L784.75 71Z" fill="#781c6d"/>
<path d="M774 80.75L777.25 84L774 87.25L770.75 84Z" fill="#781c6d"/>
<path d="M786 79.75L789.25 83L786 86.25L782.75 83Z" fill="#781c6d"/>
<path d="M822 47.75L825.25 51L822 54.25L818.75 51Z" fill="#4d0d6c"/>
<path d="M826 51.75L829.25 55L826 58.25L822.75 55Z" fill="#781c6d"/>
<path d="M817 56.75L820.25 60L817 63.25L813.75 60Z" fill="#a22b62"/>
<path d="M825 59.75L828.25 63L825 66.25L821.75 63Z" fill="#781c6d"/>
<path d="M829 62.75L832.25 66L829 69.25L825.75 66Z" fill="#781c6d"/>
<path d="M822 61.75L825.25 65L822 68.25L818.75 65Z" fill="#a22b62"/>
<path d="M821 62.75L824.25 66L821 69.25L817.75 66Z" fill="#ca404a"/>
<path d="M819 64.75L822.25 68L819 71.25L815.75 68Z" fill="#ca404a"/>
<path d="M826 65.75L829.25 69L826 72.25L822.75 69Z" fill="#ca404a"/>
<path d="M823 64.75L826.25 68L823 71.25L819.75 68Z" fill="#ca404a"/>
<path d="M817 66.75L820.25 70L817 73.25L813.75 70Z" fill="#e8602d"/>
<path d="M819 69.75L822.25 73L819 76.25L815.75 73Z" fill="#781c6d"/>
<path d="M822 68.75L825.25 72L822 75.25L818.75 72Z" fill="#fbbe23"/>
<path d="M818 73.75L821.25 77L818 80.25L814.75 77Z" fill="#fbbe23"/>
<path d="M824 72.75L827.25 76L824 79.25L820.75 76Z" fill="#a22b62"/>
<path d="M821 75.75L824.25 79L821 82.25L817.75 79Z" fill="#e8602d"/>
<path d="M824 77.75L827.25 81L824 84.25L820.75 81Z" fill="#e8602d"/>
<path d="M818 79.75L821.25 83L818 86.25L814.75 83Z" fill="#e8602d"/>
<path d="M820 76.75L823.25 80L820 83.25L816.75 80Z" fill="#e8602d"/>
<path d="M95 354.75L98.25 358L95 361.25L91.75 358Z" fill="#d84c3e"/>
<path d="M91 358.75L94.25 362L91 365.25L87.75 362Z" fill="#b93556"/>
<path d="M85 362.75L88.25 366L85 369.25L81.75 366Z" fill="#b93556"/>
<path d="M94 353.75L97.25 357L94 360.25L90.75 357Z" fill="#d84c3e"/>
<path d="M94 350.75L97.25 354L94 357.25L90.75 354Z" fill="#972766"/>
<path d="M97 363.75L100.25 367L97 370.25L93.75 367Z" fill="#b93556"/>
<path d="M89 356.75L92.25 360L89 363.25L85.75 360Z" fill="#972766"/>
<path d="M91 365.75L94.25 369L91 372.25L87.75 369Z" fill="#972766"/>
<path d="M91 357.75L94.25 361L91 364.25L87.75 361Z" fill="#b93556"/>
<path d="M88 353.75L91.25 357L88 360.25L84.75 357Z" fill="#d84c3e"/>
<path d="M92 364.75L95.25 368L92 371.25L88.75 368Z" fill="#d84c3e"/>
<path d="M93 360.75L96.25 364L93 367.25L89.75 364Z" fill="#972766"/>
<path d="M100 361.75L103.25 365L100 368.25L96.75 365Z" fill="#972766"/>
<path d="M95 349.75L98.25 353L95 356.25L91.75 353Z" fill="#972766"/>
<path d="M87 364.75L90.25 368L87 371.25L83.75 368Z" fill="#972766"/>
<path d="M84 356.75L87.25 360L84 363.25L80.75 360Z" fill="#ef6c23"/>
<path d="M90 363.75L93.25 367L90 370.25L86.75 367Z" fill="#972766"/>
<path d="M94 348.75L97.25 352L94 355.25L90.75 352Z" fill="#972766"/>
<path d="M95 359.75L98.25 363L95 366.25L91.75 363Z" fill="#972766"/>
<path d="M96 351.75L99.25 355L96 358.25L92.75 355Z" fill="#d84c3e"/>
<path d="M88 348.75L91.25 352L88 355.25L84.75 352Z" fill="#b93556"/>
<path d="M96 353.75L99.25 357L96 360.25L92.75 357Z" fill="#b93556"/>
<path d="M86 360.75L89.25 364L86 367.25L82.75 364Z" fill="#b93556"/>
<path d="M88 360.75L91.25 364L88 367.25L84.75 364Z" fill="#b93556"/>
<path d="M85 360.75L88.25 364L85 367.25L81.75 364Z" fill="#972766"/>
<path d="M84 356.75L87.25 360L84 363.25L80.75 360Z" fill="#b93556"/>
<path d="M89 352.75L92.25 356L89 359.25L85.75 356Z" fill="#721a6e"/>
<path d="M95 350.75L98.25 354L95 357.25L91.75 354Z" fill="#b93556"/>
<path d="M98 360.75L101.25 364L98 367.25L94.75 364Z" fill="#b93556"/>
<path d="M91 355.75L94.25 359L91 362.25L87.75 359Z" fill="#d84c3e"/>
<path d="M84 358.75L87.25 362L84 365.25L80.75 362Z" fill="#b93556"/>
<path d="M90 359.75L93.25 363L90 366.25L86.75 363Z" fill="#972766"/>
<path d="M86 352.75L89.25 356L86 359.25L82.75 356Z" fill="#d84c3e"/>
<path d="M86 365.75L89.25 369L86 372.25L82.75 369Z" fill="#972766"/>
<path d="M98 350.75L101.25 354L98 357.25L94.75 354Z" fill="#972766"/>
<path d="M97 359.75L100.25 363L97 366.25L93.75 363Z" fill="#b93556"/>
<path d="M88 354.75L91.25 358L88 361.25L84.75 358Z" fill="#b93556"/>
<path d="M100 353.75L103.25 357L100 360.25L96.75 357Z" fill="#972766"/>
<path d="M92 351.75L95.25 355L92 358.25L88.75 355Z" fill="#d84c3e"/>
<path d="M99 353.75L102.25 357L99 360.25L95.75 357Z" fill="#b93556"/>
<path d="M95 362.75L98.25 366L95 369.25L91.75 366Z" fill="#b93556"/>
<path d="M92 352.75L95.25 356L92 359.25L88.75 356Z" fill="#b93556"/>
<path d="M85 359.75L88.25 363L85 366.25L81.75 363Z" fill="#b93556"/>
<path d="M89 350.75L92.25 354L89 357.25L85.75 354Z" fill="#b93556"/>
<path d="M96 353.75L99.25 357L96 360.25L92.75 357Z" fill="#972766"/>
<path d="M97 355.75L100.25 359L97 362.25L93.75 359Z" fill="#721a6e"/>
<path d="M99 359.75L102.25 363L99 366.25L95.75 363Z" fill="#d84c3e"/>
<path d="M95 357.75L98.25 361L95 364.25L91.75 361Z" fill="#b93556"/>
<path d="M98 361.75L101.25 365L98 368.25L94.75 365Z" fill="#972766"/>
<path d="M91 353.75L94.25 357L91 360.25L87.75 357Z" fill="#ef6c23"/>
<path d="M93 365.75L96.25 369L93 372.25L89.75 369Z" fill="#b93556"/>
<path d="M86 361.75L89.25 365L86 368.25L82.75 365Z" fill="#972766"/>
<path d="M90 357.75L93.25 361L90 364.25L86.75 361Z" fill="#b93556"/>
<path d="M95 357.75L98.25 361L95 364.25L91.75 361Z" fill="#b93556"/>
<path d="M86 354.75L89.25 358L86 361.25L82.75 358Z" fill="#972766"/>
<path d="M98 352.75L101.25 356L98 359.25L94.75 356Z" fill="#b93556"/>
<path d="M93 363.75L96.25 367L93 370.25L89.75 367Z" fill="#b93556"/>
<path d="M88 356.75L91.25 360L88 363.25L84.75 360Z" fill="#b93556"/>
<path d="M91 347.75L94.25 351L91 354.25L87.75 351Z" fill="#d84c3e"/>
<path d="M98 360.75L101.25 364L98 367.25L94.75 364Z" fill="#972766"/>
<path d="M88 357.75L91.25 361L88 364.25L84.75 361Z" fill="#721a6e"/>
<path d="M84 352.75L87.25 356L84 359.25L80.75 356Z" fill="#b93556"/>
<path d="M92 366.75L95.25 370L92 373.25L88.75 370Z" fill="#d84c3e"/>
<path d="M92 347.75L95.25 351L92 354.25L88.75 351Z" fill="#b93556"/>
<path d="M96 358.75L99.25 362L96 365.25L92.75 362Z" fill="#b93556"/>
<path d="M92 358.75L95.25 362L92 365.25L88.75 362Z" fill="#972766"/>
<path d="M94 362.75L97.25 366L94 369.25L90.75 366Z" fill="#b93556"/>
<path d="M84 355.75L87.25 359L84 362.25L80.75 359Z" fill="#b93556"/>
<path d="M96 354.75L99.25 358L96 361.25L92.75 358Z" fill="#ef6c23"/>
<path d="M96 362.75L99.25 366L96 369.25L92.75 366Z" fill="#972766"/>
<path d="M91 361.75L94.25 365L91 368.25L87.75 365Z" fill="#b93556"/>
<path d="M88 366.75L91.25 370L88 373.25L84.75 370Z" fill="#721a6e"/>
<path d="M94 349.75L97.25 353L94 356.25L90.75 353Z" fill="#d84c3e"/>
<path d="M85 359.75L88.25 363L85 366.25L81.75 363Z" fill="#972766"/>
<path d="M91 361.75L94.25 365L91 368.25L87.75 365Z" fill="#b93556"/>
<path d="M87 358.75L90.25 362L87 365.25L83.75 362Z" fill="#b93556"/>
<path d="M99 359.75L102.25 363L99 366.25L95.75 363Z" fill="#b93556"/>
<path d="M87 363.75L90.25 367L87 370.25L83.75 367Z" fill="#721a6e"/>
<path d="M97 360.75L100.25 364L97 367.25L93.75 364Z" fill="#d84c3e"/>
<path d="M93 360.75L96.25 364L93 367.25L89.75 364Z" fill="#b93556"/>
<path d="M93 353.75L96.25 357L93 360.25L89.75 357Z" fill="#d84c3e"/>
<path d="M90 365.75L93.25 369L90 372.25L86.75 369Z" fill="#721a6e"/>
<path d="M85 364.75L88.25 368L85 371.25L81.75 368Z" fill="#721a6e"/>
<path d="M94 348.75L97.25 352L94 355.25L90.75 352Z" fill="#d84c3e"/>
<path d="M94 361.75L97.25 365L94 368.25L90.75 365Z" fill="#b93556"/>
<path d="M91 350.75L94.25 354L91 357.25L87.75 354Z" fill="#d84c3e"/>
<path d="M85 357.75L88.25 361L85 364.25L81.75 361Z" fill="#d84c3e"/>
<path d="M87 361.75L90.25 365L87 368.25L83.75 365Z" fill="#d84c3e"/>
<path d="M92 356.75L95.25 360L92 363.25L88.75 360Z" fill="#b93556"/>
<path d="M95 353.75L98.25 357L95 360.25L91.75 357Z" fill="#d84c3e"/>
<path d="M92 351.75L95.25 355L92 358.25L88.75 355Z" fill="#b93556"/>
<path d="M90 356.75L93.25 360L90 363.25L86.75 360Z" fill="#721a6e"/>
<path d="M91 366.75L94.25 370L91 373.25L87.75 370Z" fill="#b93556"/>
<path d="M88 353.75L91.25 357L88 360.25L84.75 357Z" fill="#b93556"/>
<path d="M87 351.75L90.25 355L87 358.25L83.75 355Z" fill="#ef6c23"/>
<path d="M90 348.75L93.25 352L90 355.25L86.75 352Z" fill="#b93556"/>
<path d="M91 365.75L94.25 369L91 372.25L87.75 369Z" fill="#d84c3e"/>
<path d="M94 357.75L97.25 361L94 364.25L90.75 361Z" fill="#d84c3e"/>
<path d="M94 365.75L97.25 369L94 372.25L90.75 369Z" fill="#b93556"/>
<path d="M99 361.75L102.25 365L99 368.25L95.75 365Z" fill="#972766"/>
<path d="M86 351.75L89.25 355L86 358.25L82.75 355Z" fill="#b93556"/>
<path d="M85 352.75L88.25 356L85 359.25L81.75 356Z" fill="#d84c3e"/>
<path d="M96 360.75L99.25 364L96 367.25L92.75 364Z" fill="#972766"/>
<path d="M92 356.75L95.25 360L92 363.25L88.75 360Z" fill="#972766"/>
<path d="M95 352.75L98.25 356L95 359.25L91.75 356Z" fill="#b93556"/>
<path d="M85 356.75L88.25 360L85 363.25L81.75 360Z" fill="#b93556"/>
<path d="M90 365.75L93.25 369L90 372.25L86.75 369Z" fill="#972766"/>
<path d="M92 354.75L95.25 358L92 361.25L88.75 358Z" fill="#b93556"/>
<path d="M95 361.75L98.25 365L95 368.25L91.75 365Z" fill="#d84c3e"/>
<path d="M90 351.75L93.25 355L90 358.25L86.75 355Z" fill="#b93556"/>
<path d="M88 352.75L91.25 356L88 359.25L84.75 356Z" fill="#b93556"/>
<path d="M91 354.75L94.25 358L91 361.25L87.75 358Z" fill="#ef6c23"/>
<path d="M88 360.75L91.25 364L88 367.25L84.75 364Z" fill="#972766"/>
<path d="M92 362.75L95.25 366L92 369.25L88.75 366Z" fill="#721a6e"/>
<path d="M88 348.75L91.25 352L88 355.25L84.75 352Z" fill="#ef6c23"/>
<path d="M90 356.75L93.25 360L90 363.25L86.75 360Z" fill="#972766"/>
<path d="M84 361.75L87.25 365L84 368.25L80.75 365Z" fill="#b93556"/>
<path d="M86 361.75L89.25 365L86 368.25L82.75 365Z" fill="#b93556"/>
<path d="M96 358.75L99.25 362L96 365.25L92.75 362Z" fill="#b93556"/>
<path d="M98 350.75L101.25 354L98 357.25L94.75 354Z" fill="#b93556"/>
<path d="M86 350.75L89.25 354L86 357.25L82.75 354Z" fill="#b93556"/>
<path d="M87 362.75L90.25 366L87 369.25L83.75 366Z" fill="#b93556"/>
<path d="M89 358.75L92.25 362L89 365.25L85.75 362Z" fill="#b93556"/>
<path d="M100 357.75L103.25 361L100 364.25L96.75 361Z" fill="#d84c3e"/>
<path d="M87 358.75L90.25 362L87 365.25L83.75 362Z" fill="#b93556"/>
<path d="M98 363.75L101.25 367L98 370.25L94.75 367Z" fill="#d84c3e"/>
<path d="M100 355.75L103.25 359L100 362.25L96.75 359Z" fill="#972766"/>
<path d="M87 351.75L90.25 355L87 358.25L83.75 355Z" fill="#d84c3e"/>
<path d="M98 354.75L101.25 358L98 361.25L94.75 358Z" fill="#721a6e"/>
<path d="M98 364.75L101.25 368L98 371.25L94.75 368Z" fill="#721a6e"/>
<path d="M85 352.75L88.25 356L85 359.25L81.75 356Z" fill="#972766"/>
<path d="M94 353.75L97.25 357L94 360.25L90.75 357Z" fill="#ef6c23"/>
<path d="M89 359.75L92.25 363L89 366.25L85.75 363Z" fill="#972766"/>
<path d="M90 364.75L93.25 368L90 371.25L86.75 368Z" fill="#972766"/>
<path d="M91 362.75L94.25 366L91 369.25L87.75 366Z" fill="#b93556"/>
<path d="M91 348.75L94.25 352L91 355.25L87.75 352Z" fill="#d84c3e"/>
<path d="M99 362.75L102.25 366L99 369.25L95.75 366Z" fill="#972766"/>
<path d="M98 364.75L101.25 368L98 371.25L94.75 368Z" fill="#972766"/>
<path d="M90 355.75L93.25 359L90 362.25L86.75 359Z" fill="#b93556"/>
<path d="M86 360.75L89.25 364L86 367.25L82.75 364Z" fill="#721a6e"/>
<path d="M92 322.75L95.25 326L92 329.25L88.75 326Z" fill="#fbbe23"/>
<path d="M86 337.75L89.25 341L86 344.25L82.75 341Z" fill="#ef6c23"/>
<path d="M97 337.75L100.25 341L97 344.25L93.75 341Z" fill="#ef6c23"/>
<path d="M84 341.75L87.25 345L84 348.25L80.75 345Z" fill="#ef6c23"/>
<path d="M91 340.75L94.25 344L91 347.25L87.75 344Z" fill="#ef6c23"/>
<path d="M89 345.75L92.25 349L89 352.25L85.75 349Z" fill="#fa9207"/>
<path d="M98 345.75L101.25 349L98 352.25L94.75 349Z" fill="#fa9207"/>
<path d="M85 372.75L88.25 376L85 379.25L81.75 376Z" fill="#721a6e"/>
<path d="M87 378.75L90.25 382L87 385.25L83.75 382Z" fill="#b93556"/>
<path d="M139 367.75L142.25 371L139 374.25L135.75 371Z" fill="#b93556"/>
<path d="M134 377.75L137.25 381L134 384.25L130.75 381Z" fill="#4d0d6c"/>
<path d="M133 362.75L136.25 366L133 369.25L129.75 366Z" fill="#fa9207"/>
<path d="M134 364.75L137.25 368L134 371.25L130.75 368Z" fill="#d84c3e"/>
<path d="M143 354.75L146.25 358L143 361.25L139.75 358Z" fill="#ef6c23"/>
<path d="M129 362.75L132.25 366L129 369.25L125.75 366Z" fill="#ef6c23"/>
<path d="M129 367.75L132.25 371L129 374.25L125.75 371Z" fill="#972766"/>
<path d="M137 365.75L140.25 369L137 372.25L133.75 369Z" fill="#972766"/>
<path d="M132 359.75L135.25 363L132 366.25L128.75 363Z" fill="#fa9207"/>
<path d="M130 374.75L133.25 378L130 381.25L126.75 378Z" fill="#721a6e"/>
<path d="M137 359.75L140.25 363L137 366.25L133.75 363Z" fill="#fa9207"/>
<path d="M136 371.75L139.25 375L136 378.25L132.75 375Z" fill="#721a6e"/>
<path d="M135 357.75L138.25 361L135 364.25L131.75 361Z" fill="#ef6c23"/>
<path d="M144 358.75L147.25 362L144 365.25L140.75 362Z" fill="#ef6c23"/>
<path d="M128 368.75L131.25 372L128 375.25L124.75 372Z" fill="#d84c3e"/>
<path d="M142 369.75L145.25 373L142 376.25L138.75 373Z" fill="#972766"/>
<path d="M139 364.75L142.25 368L139 371.25L135.75 368Z" fill="#ef6c23"/>
<path d="M128 363.75L131.25 367L128 370.25L124.75 367Z" fill="#ef6c23"/>
<path d="M131 362.75L134.25 366L131 369.25L127.75 366Z" fill="#fa9207"/>
<path d="M134 358.75L137.25 362L134 365.25L130.75 362Z" fill="#fa9207"/>
<path d="M133 361.75L136.25 365L133 368.25L129.75 365Z" fill="#fa9207"/>
<path d="M129 372.75L132.25 376L129 379.25L125.75 376Z" fill="#4d0d6c"/>
<path d="M137 375.75L140.25 379L137 382.25L133.75 379Z" fill="#721a6e"/>
<path d="M137 377.75L140.25 381L137 384.25L133.75 381Z" fill="#972766"/>
<path d="M143 365.75L146.25 369L143 372.25L139.75 369Z" fill="#d84c3e"/>
<path d="M136 356.75L139.25 360L136 363.25L132.75 360Z" fill="#fa9207"/>
<path d="M131 364.75L134.25 368L131 371.25L127.75 368Z" fill="#972766"/>
<path d="M135 367.75L138.25 371L135 374.25L131.75 371Z" fill="#972766"/>
<path d="M145 370.75L148.25 374L145 377.25L141.75 374Z" fill="#972766"/>
<path d="M140 377.75L143.25 381L140 384.25L136.75 381Z" fill="#972766"/>
<path d="M131 368.75L134.25 372L131 375.25L127.75 372Z" fill="#d84c3e"/>
<path d="M143 370.75L146.25 374L143 377.25L139.75 374Z" fill="#721a6e"/>
<path d="M128 371.75L131.25 375L128 378.25L124.75 375Z" fill="#721a6e"/>
<path d="M136 374.75L139.25 378L136 381.25L132.75 378Z" fill="#721a6e"/>
<path d="M142 355.75L145.25 359L142 362.25L138.75 359Z" fill="#fa9207"/>
<path d="M131 378.75L134.25 382L131 385.25L127.75 382Z" fill="#b93556"/>
<path d="M141 366.75L144.25 370L141 373.25L137.75 370Z" fill="#d84c3e"/>
<path d="M129 364.75L132.25 368L129 371.25L125.75 368Z" fill="#ef6c23"/>
<path d="M132 369.75L135.25 373L132 376.25L128.75 373Z" fill="#b93556"/>
<path d="M129 369.75L132.25 373L129 376.25L125.75 373Z" fill="#b93556"/>
<path d="M142 367.75L145.25 371L142 374.25L138.75 371Z" fill="#b93556"/>
<path d="M142 371.75L145.25 375L142 378.25L138.75 375Z" fill="#b93556"/>
<path d="M132 367.75L135.25 371L132 374.25L128.75 371Z" fill="#b93556"/>
<path d="M140 374.75L143.25 378L140 381.25L136.75 378Z" fill="#972766"/>
<path d="M137 377.75L140.25 381L137 384.25L133.75 381Z" fill="#972766"/>
<path d="M134 372.75L137.25 376L134 379.25L130.75 376Z" fill="#721a6e"/>
<path d="M129 366.75L132.25 370L129 373.25L125.75 370Z" fill="#b93556"/>
<path d="M142 377.75L145.25 381L142 384.25L138.75 381Z" fill="#972766"/>
<path d="M132 378.75L135.25 382L132 385.25L128.75 382Z" fill="#972766"/>
<path d="M130 373.75L133.25 377L130 380.25L126.75 377Z" fill="#972766"/>
<path d="M139 362.75L142.25 366L139 369.25L135.75 366Z" fill="#ef6c23"/>
<path d="M131 368.75L134.25 372L131 375.25L127.75 372Z" fill="#972766"/>
<path d="M140 376.75L143.25 380L140 383.25L136.75 380Z" fill="#4d0d6c"/>
<path d="M128 369.75L131.25 373L128 376.25L124.75 373Z" fill="#b93556"/>
<path d="M133 360.75L136.25 364L133 367.25L129.75 364Z" fill="#ef6c23"/>
<path d="M128 358.75L131.25 362L128 365.25L124.75 362Z" fill="#ef6c23"/>
<path d="M128 361.75L131.25 365L128 368.25L124.75 365Z" fill="#fa9207"/>
<path d="M129 360.75L132.25 364L129 367.25L125.75 364Z" fill="#d84c3e"/>
<path d="M133 367.75L136.25 371L133 374.25L129.75 371Z" fill="#d84c3e"/>
<path d="M129 370.75L132.25 374L129 377.25L125.75 374Z" fill="#972766"/>
<path d="M134 371.75L137.25 375L134 378.25L130.75 375Z" fill="#721a6e"/>
<path d="M135 369.75L138.25 373L135 376.25L131.75 373Z" fill="#721a6e"/>
<path d="M129 354.75L132.25 358L129 361.25L125.75 358Z" fill="#ef6c23"/>
<path d="M143 359.75L146.25 363L143 366.25L139.75 363Z" fill="#fa9207"/>
<path d="M138 361.75L141.25 365L138 368.25L134.75 365Z" fill="#ef6c23"/>
<path d="M128 359.75L131.25 363L128 366.25L124.75 363Z" fill="#fa9207"/>
<path d="M139 353.75L142.25 357L139 360.25L135.75 357Z" fill="#ef6c23"/>
<path d="M144 366.75L147.25 370L144 373.25L140.75 370Z" fill="#b93556"/>
<path d="M134 378.75L137.25 382L134 385.25L130.75 382Z" fill="#972766"/>
<path d="M141 362.75L144.25 366L141 369.25L137.75 366Z" fill="#ef6c23"/>
<path d="M128 361.75L131.25 365L128 368.25L124.75 365Z" fill="#ef6c23"/>
<path d="M135 370.75L138.25 374L135 377.25L131.75 374Z" fill="#b93556"/>
<path d="M143 354.75L146.25 358L143 361.25L139.75 358Z" fill="#fbbe23"/>
<path d="M134 355.75L137.25 359L134 362.25L130.75 359Z" fill="#d84c3e"/>
<path d="M139 368.75L142.25 372L139 375.25L135.75 372Z" fill="#972766"/>
<path d="M138 362.75L141.25 366L138 369.25L134.75 366Z" fill="#ef6c23"/>
<path d="M143 373.75L146.25 377L143 380.25L139.75 377Z" fill="#972766"/>
<path d="M143 360.75L146.25 364L143 367.25L139.75 364Z" fill="#fbbe23"/>
<path d="M140 363.75L143.25 367L140 370.25L136.75 367Z" fill="#b93556"/>
<path d="M128 360.75L131.25 364L128 367.25L124.75 364Z" fill="#ef6c23"/>
<path d="M145 359.75L148.25 363L145 366.25L141.75 363Z" fill="#ef6c23"/>
<path d="M138 377.75L141.25 381L138 384.25L134.75 381Z" fill="#d84c3e"/>
<path d="M143 357.75L146.25 361L143 364.25L139.75 361Z" fill="#ef6c23"/>
<path d="M129 371.75L132.25 375L129 378.25L125.75 375Z" fill="#4d0d6c"/>
<path d="M139 353.75L142.25 357L139 360.25L135.75 357Z" fill="#fbbe23"/>
<path d="M132 365.75L135.25 369L132 372.25L128.75 369Z" fill="#b93556"/>
<path d="M138 354.75L141.25 358L138 361.25L134.75 358Z" fill="#ef6c23"/>
<path d="M140 372.75L143.25 376L140 379.25L136.75 376Z" fill="#972766"/>
<path d="M130 369.75L133.25 373L130 376.25L126.75 373Z" fill="#b93556"/>
<path d="M142 361.75L145.25 365L142 368.25L138.75 365Z" fill="#fa9207"/>
<path d="M137 356.75L140.25 360L137 363.25L133.75 360Z" fill="#fa9207"/>
<path d="M138 369.75L141.25 373L138 376.25L134.75 373Z" fill="#d84c3e"/>
<path d="M133 374.75L136.25 378L133 381.25L129.75 378Z" fill="#4d0d6c"/>
<path d="M131 372.75L134.25 376L131 379.25L127.75 376Z" fill="#b93556"/>
<path d="M131 358.75L134.25 362L131 365.25L127.75 362Z" fill="#fbbe23"/>
<path d="M140 356.75L143.25 360L140 363.25L136.75 360Z" fill="#ef6c23"/>
<path d="M142 366.75L145.25 370L142 373.25L138.75 370Z" fill="#b93556"/>
<path d="M140 366.75L143.25 370L140 373.25L136.75 370Z" fill="#972766"/>
<path d="M137 356.75L140.25 360L137 363.25L133.75 360Z" fill="#d84c3e"/>
<path d="M142 375.75L145.25 379L142 382.25L138.75 379Z" fill="#972766"/>
<path d="M134 357.75L137.25 361L134 364.25L130.75 361Z" fill="#fa9207"/>
<path d="M135 376.75L138.25 380L135 383.25L131.75 380Z" fill="#721a6e"/>
<path d="M129 367.75L132.25 371L129 374.25L125.75 371Z" fill="#b93556"/>
<path d="M136 354.75L139.25 358L136 361.25L132.75 358Z" fill="#ef6c23"/>
<path d="M136 365.75L139.25 369L136 372.25L132.75 369Z" fill="#ef6c23"/>
<path d="M140 362.75L143.25 366L140 369.25L136.75 366Z" fill="#fa9207"/>
<path d="M132 356.75L135.25 360L132 363.25L128.75 360Z" fill="#fa9207"/>
<path d="M138 379.75L141.25 383L138 386.25L134.75 383Z" fill="#972766"/>
<path d="M142 374.75L145.25 378L142 381.25L138.75 378Z" fill="#4d0d6c"/>
<path d="M143 357.75L146.25 361L143 364.25L139.75 361Z" fill="#fa9207"/>
<path d="M132 373.75L135.25 377L132 380.25L128.75 377Z" fill="#972766"/>
<path d="M144 367.75L147.25 371L144 374.25L140.75 371Z" fill="#b93556"/>
<path d="M132 363.75L135.25 367L132 370.25L128.75 367Z" fill="#ef6c23"/>
<path d="M137 353.75L140.25 357L137 360.25L133.75 357Z" fill="#fbbe23"/>
<path d="M140 365.75L143.25 369L140 372.25L136.75 369Z" fill="#ef6c23"/>
<path d="M130 357.75L133.25 361L130 364.25L126.75 361Z" fill="#fa9207"/>
<path d="M131 360.75L134.25 364L131 367.25L127.75 364Z" fill="#ef6c23"/>
<path d="M132 356.75L135.25 360L132 363.25L128.75 360Z" fill="#ef6c23"/>
<path d="M128 374.75L131.25 378L128 381.25L124.75 378Z" fill="#972766"/>
<path d="M136 364.75L139.25 368L136 371.25L132.75 368Z" fill="#ef6c23"/>
<path d="M145 362.75L148.25 366L145 369.25L141.75 366Z" fill="#fbbe23"/>
<path d="M131 362.75L134.25 366L131 369.25L127.75 366Z" fill="#fbbe23"/>
<path d="M142 370.75L145.25 374L142 377.25L138.75 374Z" fill="#972766"/>
<path d="M141 356.75L144.25 360L141 363.25L137.75 360Z" fill="#ef6c23"/>
<path d="M130 368.75L133.25 372L130 375.25L126.75 372Z" fill="#b93556"/>
<path d="M130 355.75L133.25 359L130 362.25L126.75 359Z" fill="#fa9207"/>
<path d="M129 362.75L132.25 366L129 369.25L125.75 366Z" fill="#fa9207"/>
<path d="M138 372.75L141.25 376L138 379.25L134.75 376Z" fill="#972766"/>
<path d="M134 360.75L137.25 364L134 367.25L130.75 364Z" fill="#ef6c23"/>
<path d="M130 377.75L133.25 381L130 384.25L126.75 381Z" fill="#721a6e"/>
<path d="M143 375.75L146.25 379L143 382.25L139.75 379Z" fill="#b93556"/>
<path d="M134 372.75L137.25 376L134 379.25L130.75 376Z" fill="#721a6e"/>
<path d="M133 378.75L136.25 382L133 385.25L129.75 382Z" fill="#972766"/>
<path d="M134 363.75L137.25 367L134 370.25L130.75 367Z" fill="#ef6c23"/>
<path d="M143 360.75L146.25 364L143 367.25L139.75 364Z" fill="#fa9207"/>
<path d="M131 364.75L134.25 368L131 371.25L127.75 368Z" fill="#ef6c23"/>
<path d="M141 362.75L144.25 366L141 369.25L137.75 366Z" fill="#fbbe23"/>
<path d="M142 369.75L145.25 373L142 376.25L138.75 373Z" fill="#972766"/>
<path d="M132 355.75L135.25 359L132 362.25L128.75 359Z" fill="#ef6c23"/>
<path d="M135 374.75L138.25 378L135 381.25L131.75 378Z" fill="#972766"/>
<path d="M141 372.75L144.25 376L141 379.25L137.75 376Z" fill="#4d0d6c"/>
<path d="M132 362.75L135.25 366L132 369.25L128.75 366Z" fill="#fa9207"/>
<path d="M140 359.75L143.25 363L140 366.25L136.75 363Z" fill="#ef6c23"/>
<path d="M140 375.75L143.25 379L140 382.25L136.75 379Z" fill="#721a6e"/>
<path d="M143 362.75L146.25 366L143 369.25L139.75 366Z" fill="#ef6c23"/>
<path d="M133 375.75L136.25 379L133 382.25L129.75 379Z" fill="#721a6e"/>
<path d="M136 352.75L139.25 356L136 359.25L132.75 356Z" fill="#fa9207"/>
<path d="M137 375.75L140.25 379L137 382.25L133.75 379Z" fill="#d84c3e"/>
<path d="M134 352.75L137.25 356L134 359.25L130.75 356Z" fill="#fbbe23"/>
<path d="M138 360.75L141.25 364L138 367.25L134.75 364Z" fill="#ef6c23"/>
<path d="M128 366.75L131.25 370L128 373.25L124.75 370Z" fill="#d84c3e"/>
<path d="M141 355.75L144.25 359L141 362.25L137.75 359Z" fill="#fa9207"/>
<path d="M142 366.75L145.25 370L142 373.25L138.75 370Z" fill="#d84c3e"/>
<path d="M130 354.75L133.25 358L130 361.25L126.75 358Z" fill="#d84c3e"/>
<path d="M141 360.75L144.25 364L141 367.25L137.75 364Z" fill="#fbbe23"/>
<path d="M129 365.75L132.25 369L129 372.25L125.75 369Z" fill="#d84c3e"/>
<path d="M142 370.75L145.25 374L142 377.25L138.75 374Z" fill="#721a6e"/>
<path d="M138 356.75L141.25 360L138 363.25L134.75 360Z" fill="#ef6c23"/>
<path d="M140 371.75L143.25 375L140 378.25L136.75 375Z" fill="#b93556"/>
<path d="M135 356.75L138.25 360L135 363.25L131.75 360Z" fill="#fa9207"/>
<path d="M130 346.75L133.25 350L130 353.25L126.75 350Z" fill="#fa9207"/>
<path d="M132 346.75L135.25 350L132 353.25L128.75 350Z" fill="#fa9207"/>
<path d="M142 351.75L145.25 355L142 358.25L138.75 355Z" fill="#fbbe23"/>
<path d="M180 390.75L183.25 394L180 397.25L176.75 394Z" fill="#4d0d6c"/>
<path d="M181 374.75L184.25 378L181 381.25L177.75 378Z" fill="#ef6c23"/>
<path d="M189 371.75L192.25 375L189 378.25L185.75 375Z" fill="#ef6c23"/>
<path d="M178 368.75L181.25 372L178 375.25L174.75 372Z" fill="#fa9207"/>
<path d="M190 374.75L193.25 378L190 381.25L186.75 378Z" fill="#972766"/>
<path d="M186 382.75L189.25 386L186 389.25L182.75 386Z" fill="#972766"/>
<path d="M184 389.75L187.25 393L184 396.25L180.75 393Z" fill="#b93556"/>
<path d="M188 387.75L191.25 391L188 394.25L184.75 391Z" fill="#721a6e"/>
<path d="M185 390.75L188.25 394L185 397.25L181.75 394Z" fill="#721a6e"/>
<path d="M189 367.75L192.25 371L189 374.25L185.75 371Z" fill="#b93556"/>
<path d="M175 375.75L178.25 379L175 382.25L171.75 379Z" fill="#ef6c23"/>
<path d="M185 383.75L188.25 387L185 390.25L181.75 387Z" fill="#972766"/>
<path d="M174 369.75L177.25 373L174 376.25L170.75 373Z" fill="#d84c3e"/>
<path d="M176 389.75L179.25 393L176 396.25L172.75 393Z" fill="#721a6e"/>
<path d="M178 381.75L181.25 385L178 388.25L174.75 385Z" fill="#721a6e"/>
<path d="M183 369.75L186.25 373L183 376.25L179.75 373Z" fill="#ef6c23"/>
<path d="M177 379.75L180.25 383L177 386.25L173.75 383Z" fill="#d84c3e"/>
<path d="M176 367.75L179.25 371L176 374.25L172.75 371Z" fill="#ef6c23"/>
<path d="M187 390.75L190.25 394L187 397.25L183.75 394Z" fill="#972766"/>
<path d="M174 380.75L177.25 384L174 387.25L170.75 384Z" fill="#b93556"/>
<path d="M176 384.75L179.25 388L176 391.25L172.75 388Z" fill="#4d0d6c"/>
<path d="M182 380.75L185.25 384L182 387.25L178.75 384Z" fill="#b93556"/>
<path d="M189 387.75L192.25 391L189 394.25L185.75 391Z" fill="#972766"/>
<path d="M188 378.75L191.25 382L188 385.25L184.75 382Z" fill="#721a6e"/>
<path d="M181 366.75L184.25 370L181 373.25L177.75 370Z" fill="#ef6c23"/>
<path d="M182 380.75L185.25 384L182 387.25L178.75 384Z" fill="#972766"/>
<path d="M186 369.75L189.25 373L186 376.25L182.75 373Z" fill="#fa9207"/>
<path d="M181 385.75L184.25 389L181 392.25L177.75 389Z" fill="#b93556"/>
<path d="M188 385.75L191.25 389L188 392.25L184.75 389Z" fill="#4d0d6c"/>
<path d="M188 374.75L191.25 378L188 381.25L184.75 378Z" fill="#ef6c23"/>
<path d="M184 367.75L187.25 371L184 374.25L180.75 371Z" fill="#fa9207"/>
<path d="M190 373.75L193.25 377L190 380.25L186.75 377Z" fill="#ef6c23"/>
<path d="M173 372.75L176.25 376L173 379.25L169.75 376Z" fill="#fa9207"/>
<path d="M177 380.75L180.25 384L177 387.25L173.75 384Z" fill="#d84c3e"/>
<path d="M183 378.75L186.25 382L183 385.25L179.75 382Z" fill="#fa9207"/>
<path d="M186 374.75L189.25 378L186 381.25L182.75 378Z" fill="#b93556"/>
<path d="M187 371.75L190.25 375L187 378.25L183.75 375Z" fill="#d84c3e"/>
<path d="M183 370.75L186.25 374L183 377.25L179.75 374Z" fill="#ef6c23"/>
<path d="M183 383.75L186.25 387L183 390.25L179.75 387Z" fill="#d84c3e"/>
<path d="M182 377.75L185.25 381L182 384.25L178.75 381Z" fill="#d84c3e"/>
<path d="M176 367.75L179.25 371L176 374.25L172.75 371Z" fill="#fbbe23"/>
<path d="M188 379.75L191.25 383L188 386.25L184.75 383Z" fill="#b93556"/>
<path d="M181 368.75L184.25 372L181 375.25L177.75 372Z" fill="#fa9207"/>
<path d="M178 387.75L181.25 391L178 394.25L174.75 391Z" fill="#b93556"/>
<path d="M190 377.75L193.25 381L190 384.25L186.75 381Z" fill="#d84c3e"/>
<path d="M179 367.75L182.25 371L179 374.25L175.75 371Z" fill="#ef6c23"/>
<path d="M183 382.75L186.25 386L183 389.25L179.75 386Z" fill="#972766"/>
<path d="M179 367.75L182.25 371L179 374.25L175.75 371Z" fill="#fa9207"/>
<path d="M176 373.75L179.25 377L176 380.25L172.75 377Z" fill="#ef6c23"/>
<path d="M185 388.75L188.25 392L185 395.25L181.75 392Z" fill="#721a6e"/>
<path d="M183 366.75L186.25 370L183 373.25L179.75 370Z" fill="#ef6c23"/>
<path d="M175 373.75L178.25 377L175 380.25L171.75 377Z" fill="#d84c3e"/>
<path d="M181 385.75L184.25 389L181 392.25L177.75 389Z" fill="#721a6e"/>
<path d="M176 370.75L179.25 374L176 377.25L172.75 374Z" fill="#ef6c23"/>
<path d="M187 390.75L190.25 394L187 397.25L183.75 394Z" fill="#972766"/>
<path d="M176 370.75L179.25 374L176 377.25L172.75 374Z" fill="#d84c3e"/>
<path d="M183 387.75L186.25 391L183 394.25L179.75 391Z" fill="#721a6e"/>
<path d="M173 383.75L176.25 387L173 390.25L169.75 387Z" fill="#d84c3e"/>
<path d="M179 379.75L182.25 383L179 386.25L175.75 383Z" fill="#ef6c23"/>
<path d="M178 380.75L181.25 384L178 387.25L174.75 384Z" fill="#4d0d6c"/>
<path d="M179 369.75L182.25 373L179 376.25L175.75 373Z" fill="#ef6c23"/>
<path d="M182 387.75L185.25 391L182 394.25L178.75 391Z" fill="#972766"/>
<path d="M176 375.75L179.25 379L176 382.25L172.75 379Z" fill="#ef6c23"/>
<path d="M179 389.75L182.25 393L179 396.25L175.75 393Z" fill="#721a6e"/>
<path d="M174 383.75L177.25 387L174 390.25L170.75 387Z" fill="#d84c3e"/>
<path d="M177 367.75L180.25 371L177 374.25L173.75 371Z" fill="#fbbe23"/>
<path d="M185 372.75L188.25 376L185 379.25L181.75 376Z" fill="#ef6c23"/>
<path d="M180 388.75L183.25 392L180 395.25L176.75 392Z" fill="#4d0d6c"/>
<path d="M179 375.75L182.25 379L179 382.25L175.75 379Z" fill="#d84c3e"/>
<path d="M186 370.75L189.25 374L186 377.25L182.75 374Z" fill="#b93556"/>
<path d="M178 382.75L181.25 386L178 389.25L174.75 386Z" fill="#721a6e"/>
<path d="M173 380.75L176.25 384L173 387.25L169.75 384Z" fill="#d84c3e"/>
<path d="M185 370.75L188.25 374L185 377.25L181.75 374Z" fill="#fa9207"/>
<path d="M179 371.75L182.25 375L179 378.25L175.75 375Z" fill="#d84c3e"/>
<path d="M184 373.75L187.25 377L184 380.25L180.75 377Z" fill="#fa9207"/>
<path d="M183 366.75L186.25 370L183 373.25L179.75 370Z" fill="#fbbe23"/>
<path d="M177 389.75L180.25 393L177 396.25L173.75 393Z" fill="#721a6e"/>
<path d="M176 387.75L179.25 391L176 394.25L172.75 391Z" fill="#721a6e"/>
<path d="M190 379.75L193.25 383L190 386.25L186.75 383Z" fill="#b93556"/>
<path d="M180 382.75L183.25 386L180 389.25L176.75 386Z" fill="#721a6e"/>
<path d="M184 368.75L187.25 372L184 375.25L180.75 372Z" fill="#ef6c23"/>
<path d="M174 381.75L177.25 385L174 388.25L170.75 385Z" fill="#b93556"/>
<path d="M187 385.75L190.25 389L187 392.25L183.75 389Z" fill="#721a6e"/>
<path d="M174 382.75L177.25 386L174 389.25L170.75 386Z" fill="#d84c3e"/>
<path d="M188 374.75L191.25 378L188 381.25L184.75 378Z" fill="#ef6c23"/>
<path d="M186 380.75L189.25 384L186 387.25L182.75 384Z" fill="#b93556"/>
<path d="M178 365.75L181.25 369L178 372.25L174.75 369Z" fill="#fa9207"/>
<path d="M188 374.75L191.25 378L188 381.25L184.75 378Z" fill="#b93556"/>
<path d="M173 382.75L176.25 386L173 389.25L169.75 386Z" fill="#d84c3e"/>
<path d="M185 381.75L188.25 385L185 388.25L181.75 385Z" fill="#b93556"/>
<path d="M183 375.75L186.25 379L183 382.25L179.75 379Z" fill="#b93556"/>
<path d="M177 373.75L180.25 377L177 380.25L173.75 377Z" fill="#ef6c23"/>
<path d="M175 375.75L178.25 379L175 382.25L171.75 379Z" fill="#ef6c23"/>
<path d="M183 370.75L186.25 374L183 377.25L179.75 374Z" fill="#ef6c23"/>
<path d="M180 371.75L183.25 375L180 378.25L176.75 375Z" fill="#fbbe23"/>
<path d="M178 368.75L181.25 372L178 375.25L174.75 372Z" fill="#d84c3e"/>
<path d="M176 374.75L179.25 378L176 381.25L172.75 378Z" fill="#d84c3e"/>
<path d="M175 379.75L178.25 383L175 386.25L171.75 383Z" fill="#d84c3e"/>
<path d="M177 368.75L180.25 372L177 375.25L173.75 372Z" fill="#fa9207"/>
<path d="M177 375.75L180.25 379L177 382.25L173.75 379Z" fill="#d84c3e"/>
<path d="M180 389.75L183.25 393L180 396.25L176.75 393Z" fill="#721a6e"/>
<path d="M183 376.75L186.25 380L183 383.25L179.75 380Z" fill="#b93556"/>
<path d="M186 377.75L189.25 381L186 384.25L182.75 381Z" fill="#d84c3e"/>
<path d="M189 386.75L192.25 390L189 393.25L185.75 390Z" fill="#721a6e"/>
<path d="M174 375.75L177.25 379L174 382.25L170.75 379Z" fill="#b93556"/>
<path d="M178 371.75L181.25 375L178 378.25L174.75 375Z" fill="#b93556"/>
<path d="M176 390.75L179.25 394L176 397.25L172.75 394Z" fill="#721a6e"/>
<path d="M183 380.75L186.25 384L183 387.25L179.75 384Z" fill="#b93556"/>
<path d="M181 385.75L184.25 389L181 392.25L177.75 389Z" fill="#972766"/>
<path d="M180 370.75L183.25 374L180 377.25L176.75 374Z" fill="#d84c3e"/>
<path d="M187 384.75L190.25 388L187 391.25L183.75 388Z" fill="#d84c3e"/>
<path d="M175 386.75L178.25 390L175 393.25L171.75 390Z" fill="#b93556"/>
<path d="M186 381.75L189.25 385L186 388.25L182.75 385Z" fill="#b93556"/>
<path d="M183 390.75L186.25 394L183 397.25L179.75 394Z" fill="#972766"/>
<path d="M188 381.75L191.25 385L188 388.25L184.75 385Z" fill="#972766"/>
<path d="M177 384.75L180.25 388L177 391.25L173.75 388Z" fill="#721a6e"/>
<path d="M177 377.75L180.25 381L177 384.25L173.75 381Z" fill="#972766"/>
<path d="M176 375.75L179.25 379L176 382.25L172.75 379Z" fill="#ef6c23"/>
<path d="M181 387.75L184.25 391L181 394.25L177.75 391Z" fill="#972766"/>
<path d="M178 381.75L181.25 385L178 388.25L174.75 385Z" fill="#972766"/>
<path d="M183 389.75L186.25 393L183 396.25L179.75 393Z" fill="#4d0d6c"/>
<path d="M186 388.75L189.25 392L186 395.25L182.75 392Z" fill="#4d0d6c"/>
<path d="M183 366.75L186.25 370L183 373.25L179.75 370Z" fill="#fa9207"/>
<path d="M184 383.75L187.25 387L184 390.25L180.75 387Z" fill="#b93556"/>
<path d="M187 372.75L190.25 376L187 379.25L183.75 376Z" fill="#fa9207"/>
<path d="M186 371.75L189.25 375L186 378.25L182.75 375Z" fill="#ef6c23"/>
<path d="M173 375.75L176.25 379L173 382.25L169.75 379Z" fill="#d84c3e"/>
<path d="M177 387.75L180.25 391L177 394.25L173.75 391Z" fill="#4d0d6c"/>
<path d="M180 371.75L183.25 375L180 378.25L176.75 375Z" fill="#d84c3e"/>
<path d="M187 370.75L190.25 374L187 377.25L183.75 374Z" fill="#ef6c23"/>
<path d="M178 372.75L181.25 376L178 379.25L174.75 376Z" fill="#ef6c23"/>
<path d="M176 389.75L179.25 393L176 396.25L172.75 393Z" fill="#4d0d6c"/>
<path d="M187 379.75L190.25 383L187 386.25L183.75 383Z" fill="#972766"/>
<path d="M185 376.75L188.25 380L185 383.25L181.75 380Z" fill="#d84c3e"/>
<path d="M176 387.75L179.25 391L176 394.25L172.75 391Z" fill="#4d0d6c"/>
<path d="M173 376.75L176.25 380L173 383.25L169.75 380Z" fill="#972766"/>
<path d="M175 366.75L178.25 370L175 373.25L171.75 370Z" fill="#fbbe23"/>
<path d="M187 388.75L190.25 392L187 395.25L183.75 392Z" fill="#721a6e"/>
<path d="M186 374.75L189.25 378L186 381.25L182.75 378Z" fill="#b93556"/>
<path d="M181 376.75L184.25 380L181 383.25L177.75 380Z" fill="#b93556"/>
<path d="M178 371.75L181.25 375L178 378.25L174.75 375Z" fill="#d84c3e"/>
<path d="M181 370.75L184.25 374L181 377.25L177.75 374Z" fill="#d84c3e"/>
<path d="M184 371.75L187.25 375L184 378.25L180.75 375Z" fill="#d84c3e"/>
<path d="M182 387.75L185.25 391L182 394.25L178.75 391Z" fill="#721a6e"/>
<path d="M181 374.75L184.25 378L181 381.25L177.75 378Z" fill="#972766"/>
<path d="M182 370.75L185.25 374L182 377.25L178.75 374Z" fill="#fa9207"/>
<path d="M174 382.75L177.25 386L174 389.25L170.75 386Z" fill="#721a6e"/>
<path d="M184 387.75L187.25 391L184 394.25L180.75 391Z" fill="#972766"/>
<path d="M179 372.75L182.25 376L179 379.25L175.75 376Z" fill="#ef6c23"/>
<path d="M180 376.75L183.25 380L180 383.25L176.75 380Z" fill="#d84c3e"/>
<path d="M220 398.75L223.25 402L220 405.25L216.75 402Z" fill="#d84c3e"/>
<path d="M229 395.75L232.25 399L229 402.25L225.75 399Z" fill="#d84c3e"/>
<path d="M225 400.75L228.25 404L225 407.25L221.75 404Z" fill="#ef6c23"/>
<path d="M218 398.75L221.25 402L218 405.25L214.75 402Z" fill="#fa9207"/>
<path d="M234 389.75L237.25 393L234 396.25L230.75 393Z" fill="#ef6c23"/>
<path d="M217 394.75L220.25 398L217 401.25L213.75 398Z" fill="#d84c3e"/>
<path d="M234 390.75L237.25 394L234 397.25L230.75 394Z" fill="#ef6c23"/>
<path d="M233 395.75L236.25 399L233 402.25L229.75 399Z" fill="#ef6c23"/>
<path d="M228 399.75L231.25 403L228 406.25L224.75 403Z" fill="#d84c3e"/>
<path d="M226 387.75L229.25 391L226 394.25L222.75 391Z" fill="#ef6c23"/>
<path d="M227 387.75L230.25 391L227 394.25L223.75 391Z" fill="#972766"/>
<path d="M228 399.75L231.25 403L228 406.25L224.75 403Z" fill="#d84c3e"/>
<path d="M228 397.75L231.25 401L228 404.25L224.75 401Z" fill="#d84c3e"/>
<path d="M232 397.75L235.25 401L232 404.25L228.75 401Z" fill="#fbbe23"/>
<path d="M230 399.75L233.25 403L230 406.25L226.75 403Z" fill="#b93556"/>
<path d="M225 388.75L228.25 392L225 395.25L221.75 392Z" fill="#fa9207"/>
<path d="M219 394.75L222.25 398L219 401.25L215.75 398Z" fill="#fbbe23"/>
<path d="M228 396.75L231.25 400L228 403.25L224.75 400Z" fill="#b93556"/>
<path d="M222 398.75L225.25 402L222 405.25L218.75 402Z" fill="#ef6c23"/>
<path d="M230 392.75L233.25 396L230 399.25L226.75 396Z" fill="#fa9207"/>
<path d="M224 395.75L227.25 399L224 402.25L220.75 399Z" fill="#ef6c23"/>
<path d="M226 398.75L229.25 402L226 405.25L222.75 402Z" fill="#ef6c23"/>
<path d="M218 388.75L221.25 392L218 395.25L214.75 392Z" fill="#ef6c23"/>
<path d="M230 388.75L233.25 392L230 395.25L226.75 392Z" fill="#ef6c23"/>
<path d="M228 389.75L231.25 393L228 396.25L224.75 393Z" fill="#d84c3e"/>
<path d="M229 389.75L232.25 393L229 396.25L225.75 393Z" fill="#d84c3e"/>
<path d="M221 391.75L224.25 395L221 398.25L217.75 395Z" fill="#ef6c23"/>
<path d="M221 396.75L224.25 400L221 403.25L217.75 400Z" fill="#fa9207"/>
<path d="M228 396.75L231.25 400L228 403.25L224.75 400Z" fill="#fa9207"/>
<path d="M222 388.75L225.25 392L222 395.25L218.75 392Z" fill="#fbbe23"/>
<path d="M219 388.75L222.25 392L219 395.25L215.75 392Z" fill="#d84c3e"/>
<path d="M222 399.75L225.25 403L222 406.25L218.75 403Z" fill="#d84c3e"/>
<path d="M223 390.75L226.25 394L223 397.25L219.75 394Z" fill="#ef6c23"/>
<path d="M227 393.75L230.25 397L227 400.25L223.75 397Z" fill="#d84c3e"/>
<path d="M223 396.75L226.25 400L223 403.25L219.75 400Z" fill="#b93556"/>
<path d="M230 393.75L233.25 397L230 400.25L226.75 397Z" fill="#ef6c23"/>
<path d="M231 394.75L234.25 398L231 401.25L227.75 398Z" fill="#ef6c23"/>
<path d="M218 393.75L221.25 397L218 400.25L214.75 397Z" fill="#d84c3e"/>
<path d="M224 392.75L227.25 396L224 399.25L220.75 396Z" fill="#ef6c23"/>
<path d="M226 397.75L229.25 401L226 404.25L222.75 401Z" fill="#fbbe23"/>
<path d="M222 389.75L225.25 393L222 396.25L218.75 393Z" fill="#721a6e"/>
<path d="M223 389.75L226.25 393L223 396.25L219.75 393Z" fill="#d84c3e"/>
<path d="M223 394.75L226.25 398L223 401.25L219.75 398Z" fill="#fbbe23"/>
<path d="M223 396.75L226.25 400L223 403.25L219.75 400Z" fill="#ef6c23"/>
<path d="M221 399.75L224.25 403L221 406.25L217.75 403Z" fill="#972766"/>
<path d="M230 398.75L233.25 402L230 405.25L226.75 402Z" fill="#ef6c23"/>
<path d="M234 397.75L237.25 401L234 404.25L230.75 401Z" fill="#d84c3e"/>
<path d="M222 393.75L225.25 397L222 400.25L218.75 397Z" fill="#fbbe23"/>
<path d="M219 392.75L222.25 396L219 399.25L215.75 396Z" fill="#fa9207"/>
<path d="M228 392.75L231.25 396L228 399.25L224.75 396Z" fill="#d84c3e"/>
<path d="M226 391.75L229.25 395L226 398.25L222.75 395Z" fill="#ef6c23"/>
<path d="M229 400.75L232.25 404L229 407.25L225.75 404Z" fill="#721a6e"/>
<path d="M227 390.75L230.25 394L227 397.25L223.75 394Z" fill="#d84c3e"/>
<path d="M222 394.75L225.25 398L222 401.25L218.75 398Z" fill="#ef6c23"/>
<path d="M230 393.75L233.25 397L230 400.25L226.75 397Z" fill="#fa9207"/>
<path d="M232 395.75L235.25 399L232 402.25L228.75 399Z" fill="#972766"/>
<path d="M220 396.75L223.25 400L220 403.25L216.75 400Z" fill="#d84c3e"/>
<path d="M232 392.75L235.25 396L232 399.25L228.75 396Z" fill="#fa9207"/>
<path d="M223 392.75L226.25 396L223 399.25L219.75 396Z" fill="#fbbe23"/>
<path d="M235 390.75L238.25 394L235 397.25L231.75 394Z" fill="#ef6c23"/>
<path d="M234 394.75L237.25 398L234 401.25L230.75 398Z" fill="#fa9207"/>
<path d="M232 396.75L235.25 400L232 403.25L228.75 400Z" fill="#d84c3e"/>
<path d="M233 394.75L236.25 398L233 401.25L229.75 398Z" fill="#d84c3e"/>
<path d="M234 391.75L237.25 395L234 398.25L230.75 395Z" fill="#d84c3e"/>
<path d="M220 394.75L223.25 398L220 401.25L216.75 398Z" fill="#d84c3e"/>
<path d="M232 391.75L235.25 395L232 398.25L228.75 395Z" fill="#fa9207"/>
<path d="M231 400.75L234.25 404L231 407.25L227.75 404Z" fill="#d84c3e"/>
<path d="M227 393.75L230.25 397L227 400.25L223.75 397Z" fill="#fbbe23"/>
<path d="M232 388.75L235.25 392L232 395.25L228.75 392Z" fill="#ef6c23"/>
<path d="M223 393.75L226.25 397L223 400.25L219.75 397Z" fill="#d84c3e"/>
<path d="M226 399.75L229.25 403L226 406.25L222.75 403Z" fill="#972766"/>
<path d="M225 388.75L228.25 392L225 395.25L221.75 392Z" fill="#fa9207"/>
<path d="M220 395.75L223.25 399L220 402.25L216.75 399Z" fill="#d84c3e"/>
<path d="M221 392.75L224.25 396L221 399.25L217.75 396Z" fill="#fa9207"/>
<path d="M225 395.75L228.25 399L225 402.25L221.75 399Z" fill="#ef6c23"/>
<path d="M218 394.75L221.25 398L218 401.25L214.75 398Z" fill="#ef6c23"/>
<path d="M232 392.75L235.25 396L232 399.25L228.75 396Z" fill="#d84c3e"/>
<path d="M220 396.75L223.25 400L220 403.25L216.75 400Z" fill="#d84c3e"/>
<path d="M218 396.75L221.25 400L218 403.25L214.75 400Z" fill="#fa9207"/>
<path d="M226 387.75L229.25 391L226 394.25L222.75 391Z" fill="#d84c3e"/>
<path d="M218 389.75L221.25 393L218 396.25L214.75 393Z" fill="#b93556"/>
<path d="M228 387.75L231.25 391L228 394.25L224.75 391Z" fill="#b93556"/>
<path d="M219 391.75L222.25 395L219 398.25L215.75 395Z" fill="#fa9207"/>
<path d="M227 397.75L230.25 401L227 404.25L223.75 401Z" fill="#ef6c23"/>
<path d="M229 400.75L232.25 404L229 407.25L225.75 404Z" fill="#972766"/>
<path d="M229 393.75L232.25 397L229 400.25L225.75 397Z" fill="#d84c3e"/>
<path d="M227 387.75L230.25 391L227 394.25L223.75 391Z" fill="#d84c3e"/>
<path d="M227 390.75L230.25 394L227 397.25L223.75 394Z" fill="#d84c3e"/>
<path d="M234 396.75L237.25 400L234 403.25L230.75 400Z" fill="#ef6c23"/>
<path d="M231 388.75L234.25 392L231 395.25L227.75 392Z" fill="#972766"/>
<path d="M229 396.75L232.25 400L229 403.25L225.75 400Z" fill="#d84c3e"/>
<path d="M223 387.75L226.25 391L223 394.25L219.75 391Z" fill="#d84c3e"/>
<path d="M219 395.75L222.25 399L219 402.25L215.75 399Z" fill="#fbbe23"/>
<path d="M223 388.75L226.25 392L223 395.25L219.75 392Z" fill="#fa9207"/>
<path d="M228 389.75L231.25 393L228 396.25L224.75 393Z" fill="#d84c3e"/>
<path d="M225 398.75L228.25 402L225 405.25L221.75 402Z" fill="#fa9207"/>
<path d="M227 390.75L230.25 394L227 397.25L223.75 394Z" fill="#fbbe23"/>
<path d="M221 389.75L224.25 393L221 396.25L217.75 393Z" fill="#972766"/>
<path d="M222 399.75L225.25 403L222 406.25L218.75 403Z" fill="#d84c3e"/>
<path d="M229 400.75L232.25 404L229 407.25L225.75 404Z" fill="#972766"/>
<path d="M263 409.75L266.25 413L263 416.25L259.75 413Z" fill="#972766"/>
<path d="M265 412.75L268.25 416L265 419.25L261.75 416Z" fill="#b93556"/>
<path d="M262 417.75L265.25 421L262 424.25L258.75 421Z" fill="#b93556"/>
<path d="M276 403.75L279.25 407L276 410.25L272.75 407Z" fill="#4d0d6c"/>
<path d="M272 426.75L275.25 430L272 433.25L268.75 430Z" fill="#ef6c23"/>
<path d="M277 414.75L280.25 418L277 421.25L273.75 418Z" fill="#d84c3e"/>
<path d="M272 431.75L275.25 435L272 438.25L268.75 435Z" fill="#d84c3e"/>
<path d="M273 425.75L276.25 429L273 432.25L269.75 429Z" fill="#ef6c23"/>
<path d="M278 428.75L281.25 432L278 435.25L274.75 432Z" fill="#b93556"/>
<path d="M270 416.75L273.25 420L270 423.25L266.75 420Z" fill="#d84c3e"/>
<path d="M265 431.75L268.25 435L265 438.25L261.75 435Z" fill="#721a6e"/>
<path d="M263 419.75L266.25 423L263 426.25L259.75 423Z" fill="#d84c3e"/>
<path d="M275 401.75L278.25 405L275 408.25L271.75 405Z" fill="#d84c3e"/>
<path d="M265 420.75L268.25 424L265 427.25L261.75 424Z" fill="#b93556"/>
<path d="M274 423.75L277.25 427L274 430.25L270.75 427Z" fill="#972766"/>
<path d="M266 427.75L269.25 431L266 434.25L262.75 431Z" fill="#ef6c23"/>
<path d="M272 410.75L275.25 414L272 417.25L268.75 414Z" fill="#b93556"/>
<path d="M263 416.75L266.25 420L263 423.25L259.75 420Z" fill="#721a6e"/>
<path d="M271 400.75L274.25 404L271 407.25L267.75 404Z" fill="#b93556"/>
<path d="M271 405.75L274.25 409L271 412.25L267.75 409Z" fill="#4d0d6c"/>
<path d="M273 400.75L276.25 404L273 407.25L269.75 404Z" fill="#972766"/>
<path d="M275 421.75L278.25 425L275 428.25L271.75 425Z" fill="#d84c3e"/>
<path d="M276 415.75L279.25 419L276 422.25L272.75 419Z" fill="#972766"/>
<path d="M265 429.75L268.25 433L265 436.25L261.75 433Z" fill="#ef6c23"/>
<path d="M272 407.75L275.25 411L272 414.25L268.75 411Z" fill="#4d0d6c"/>
<path d="M268 399.75L271.25 403L268 406.25L264.75 403Z" fill="#721a6e"/>
<path d="M264 423.75L267.25 427L264 430.25L260.75 427Z" fill="#d84c3e"/>
<path d="M270 420.75L273.25 424L270 427.25L266.75 424Z" fill="#d84c3e"/>
<path d="M277 425.75L280.25 429L277 432.25L273.75 429Z" fill="#d84c3e"/>
<path d="M267 432.75L270.25 436L267 439.25L263.75 436Z" fill="#d84c3e"/>
<path d="M273 426.75L276.25 430L273 433.25L269.75 430Z" fill="#ef6c23"/>
<path d="M279 405.75L282.25 409L279 412.25L275.75 409Z" fill="#972766"/>
<path d="M263 425.75L266.25 429L263 432.25L259.75 429Z" fill="#ef6c23"/>
<path d="M269 408.75L272.25 412L269 415.25L265.75 412Z" fill="#4d0d6c"/>
<path d="M267 411.75L270.25 415L267 418.25L263.75 415Z" fill="#4d0d6c"/>
<path d="M268 428.75L271.25 432L268 435.25L264.75 432Z" fill="#fa9207"/>
<path d="M277 423.75L280.25 427L277 430.25L273.75 427Z" fill="#972766"/>
<path d="M275 420.75L278.25 424L275 427.25L271.75 424Z" fill="#d84c3e"/>
<path d="M274 427.75L277.25 431L274 434.25L270.75 431Z" fill="#ef6c23"/>
<path d="M270 408.75L273.25 412L270 415.25L266.75 412Z" fill="#721a6e"/>
<path d="M276 408.75L279.25 412L276 415.25L272.75 412Z" fill="#721a6e"/>
<path d="M279 422.75L282.25 426L279 429.25L275.75 426Z" fill="#b93556"/>
<path d="M274 414.75L277.25 418L274 421.25L270.75 418Z" fill="#721a6e"/>
<path d="M278 413.75L281.25 417L278 420.25L274.75 417Z" fill="#721a6e"/>
<path d="M270 414.75L273.25 418L270 421.25L266.75 418Z" fill="#d84c3e"/>
<path d="M268 432.75L271.25 436L268 439.25L264.75 436Z" fill="#fbbe23"/>
<path d="M276 405.75L279.25 409L276 412.25L272.75 409Z" fill="#721a6e"/>
<path d="M267 428.75L270.25 432L267 435.25L263.75 432Z" fill="#ef6c23"/>
<path d="M276 422.75L279.25 426L276 429.25L272.75 426Z" fill="#ef6c23"/>
<path d="M271 403.75L274.25 407L271 410.25L267.75 407Z" fill="#721a6e"/>
<path d="M274 414.75L277.25 418L274 421.25L270.75 418Z" fill="#b93556"/>
<path d="M270 418.75L273.25 422L270 425.25L266.75 422Z" fill="#972766"/>
<path d="M267 431.75L270.25 435L267 438.25L263.75 435Z" fill="#d84c3e"/>
<path d="M265 411.75L268.25 415L265 418.25L261.75 415Z" fill="#721a6e"/>
<path d="M271 415.75L274.25 419L271 422.25L267.75 419Z" fill="#d84c3e"/>
<path d="M275 432.75L278.25 436L275 439.25L271.75 436Z" fill="#ef6c23"/>
<path d="M278 414.75L281.25 418L278 421.25L274.75 418Z" fill="#ef6c23"/>
<path d="M269 414.75L272.25 418L269 421.25L265.75 418Z" fill="#972766"/>
<path d="M275 415.75L278.25 419L275 422.25L271.75 419Z" fill="#b93556"/>
<path d="M266 407.75L269.25 411L266 414.25L262.75 411Z" fill="#721a6e"/>
<path d="M270 421.75L273.25 425L270 428.25L266.75 425Z" fill="#d84c3e"/>
<path d="M279 421.75L282.25 425L279 428.25L275.75 425Z" fill="#d84c3e"/>
<path d="M271 424.75L274.25 428L271 431.25L267.75 428Z" fill="#d84c3e"/>
<path d="M274 413.75L277.25 417L274 420.25L270.75 417Z" fill="#b93556"/>
<path d="M275 432.75L278.25 436L275 439.25L271.75 436Z" fill="#fa9207"/>
<path d="M272 407.75L275.25 411L272 414.25L268.75 411Z" fill="#721a6e"/>
<path d="M266 423.75L269.25 427L266 430.25L262.75 427Z" fill="#d84c3e"/>
<path d="M274 408.75L277.25 412L274 415.25L270.75 412Z" fill="#972766"/>
<path d="M277 403.75L280.25 407L277 410.25L273.75 407Z" fill="#4d0d6c"/>
<path d="M273 408.75L276.25 412L273 415.25L269.75 412Z" fill="#972766"/>
<path d="M272 408.75L275.25 412L272 415.25L268.75 412Z" fill="#4d0d6c"/>
<path d="M273 400.75L276.25 404L273 407.25L269.75 404Z" fill="#972766"/>
<path d="M275 404.75L278.25 408L275 411.25L271.75 408Z" fill="#d84c3e"/>
<path d="M277 411.75L280.25 415L277 418.25L273.75 415Z" fill="#b93556"/>
<path d="M272 401.75L275.25 405L272 408.25L268.75 405Z" fill="#972766"/>
<path d="M267 422.75L270.25 426L267 429.25L263.75 426Z" fill="#ef6c23"/>
<path d="M268 421.75L271.25 425L268 428.25L264.75 425Z" fill="#fbbe23"/>
<path d="M266 401.75L269.25 405L266 408.25L262.75 405Z" fill="#721a6e"/>
<path d="M278 424.75L281.25 428L278 431.25L274.75 428Z" fill="#d84c3e"/>
<path d="M266 425.75L269.25 429L266 432.25L262.75 429Z" fill="#d84c3e"/>
<path d="M270 405.75L273.25 409L270 412.25L266.75 409Z" fill="#721a6e"/>
<path d="M270 415.75L273.25 419L270 422.25L266.75 419Z" fill="#d84c3e"/>
<path d="M270 431.75L273.25 435L270 438.25L266.75 435Z" fill="#ef6c23"/>
<path d="M270 409.75L273.25 413L270 416.25L266.75 413Z" fill="#972766"/>
<path d="M279 417.75L282.25 421L279 424.25L275.75 421Z" fill="#d84c3e"/>
<path d="M264 420.75L267.25 424L264 427.25L260.75 424Z" fill="#d84c3e"/>
<path d="M271 420.75L274.25 424L271 427.25L267.75 424Z" fill="#972766"/>
<path d="M263 408.75L266.25 412L263 415.25L259.75 412Z" fill="#972766"/>
<path d="M274 428.75L277.25 432L274 435.25L270.75 432Z" fill="#ef6c23"/>
<path d="M276 426.75L279.25 430L276 433.25L272.75 430Z" fill="#d84c3e"/>
<path d="M272 426.75L275.25 430L272 433.25L268.75 430Z" fill="#ef6c23"/>
<path d="M276 413.75L279.25 417L276 420.25L272.75 417Z" fill="#4d0d6c"/>
<path d="M266 417.75L269.25 421L266 424.25L262.75 421Z" fill="#d84c3e"/>
<path d="M275 408.75L278.25 412L275 415.25L271.75 412Z" fill="#4d0d6c"/>
<path d="M269 432.75L272.25 436L269 439.25L265.75 436Z" fill="#fa9207"/>
<path d="M274 431.75L277.25 435L274 438.25L270.75 435Z" fill="#d84c3e"/>
<path d="M274 427.75L277.25 431L274 434.25L270.75 431Z" fill="#ef6c23"/>
<path d="M266 407.75L269.25 411L266 414.25L262.75 411Z" fill="#972766"/>
<path d="M263 428.75L266.25 432L263 435.25L259.75 432Z" fill="#ef6c23"/>
<path d="M276 406.75L279.25 410L276 413.25L272.75 410Z" fill="#4d0d6c"/>
<path d="M275 417.75L278.25 421L275 424.25L271.75 421Z" fill="#721a6e"/>
<path d="M269 419.75L272.25 423L269 426.25L265.75 423Z" fill="#972766"/>
<path d="M270 413.75L273.25 417L270 420.25L266.75 417Z" fill="#b93556"/>
<path d="M263 411.75L266.25 415L263 418.25L259.75 415Z" fill="#972766"/>
<path d="M266 422.75L269.25 426L266 429.25L262.75 426Z" fill="#ef6c23"/>
<path d="M269 424.75L272.25 428L269 431.25L265.75 428Z" fill="#d84c3e"/>
<path d="M267 400.75L270.25 404L267 407.25L263.75 404Z" fill="#972766"/>
<path d="M277 427.75L280.25 431L277 434.25L273.75 431Z" fill="#d84c3e"/>
<path d="M276 403.75L279.25 407L276 410.25L272.75 407Z" fill="#721a6e"/>
<path d="M278 413.75L281.25 417L278 420.25L274.75 417Z" fill="#721a6e"/>
<path d="M266 407.75L269.25 411L266 414.25L262.75 411Z" fill="#4d0d6c"/>
<path d="M263 416.75L266.25 420L263 423.25L259.75 420Z" fill="#972766"/>
<path d="M264 414.75L267.25 418L264 421.25L260.75 418Z" fill="#721a6e"/>
<path d="M267 410.75L270.25 414L267 417.25L263.75 414Z" fill="#b93556"/>
<path d="M278 428.75L281.25 432L278 435.25L274.75 432Z" fill="#b93556"/>
<path d="M275 427.75L278.25 431L275 434.25L271.75 431Z" fill="#ef6c23"/>
<path d="M274 402.75L277.25 406L274 409.25L270.75 406Z" fill="#972766"/>
<path d="M266 406.75L269.25 410L266 413.25L262.75 410Z" fill="#972766"/>
<path d="M269 403.75L272.25 407L269 410.25L265.75 407Z" fill="#972766"/>
<path d="M279 406.75L282.25 410L279 413.25L275.75 410Z" fill="#4d0d6c"/>
<path d="M268 415.75L271.25 419L268 422.25L264.75 419Z" fill="#b93556"/>
<path d="M274 415.75L277.25 419L274 422.25L270.75 419Z" fill="#721a6e"/>
<path d="M266 400.75L269.25 404L266 407.25L262.75 404Z" fill="#972766"/>
<path d="M275 414.75L278.25 418L275 421.25L271.75 418Z" fill="#b93556"/>
<path d="M268 427.75L271.25 431L268 434.25L264.75 431Z" fill="#d84c3e"/>
<path d="M268 410.75L271.25 414L268 417.25L264.75 414Z" fill="#972766"/>
<path d="M267 410.75L270.25 414L267 417.25L263.75 414Z" fill="#972766"/>
<path d="M266 422.75L269.25 426L266 429.25L262.75 426Z" fill="#b93556"/>
<path d="M266 422.75L269.25 426L266 429.25L262.75 426Z" fill="#d84c3e"/>
<path d="M270 407.75L273.25 411L270 414.25L266.75 411Z" fill="#972766"/>
<path d="M274 407.75L277.25 411L274 414.25L270.75 411Z" fill="#b93556"/>
<path d="M267 426.75L270.25 430L267 433.25L263.75 430Z" fill="#fbbe23"/>
<path d="M268 417.75L271.25 421L268 424.25L264.75 421Z" fill="#b93556"/>
<path d="M266 412.75L269.25 416L266 419.25L262.75 416Z" fill="#721a6e"/>
<path d="M272 400.75L275.25 404L272 407.25L268.75 404Z" fill="#4d0d6c"/>
<path d="M266 403.75L269.25 407L266 410.25L262.75 407Z" fill="#721a6e"/>
<path d="M266 421.75L269.25 425L266 428.25L262.75 425Z" fill="#972766"/>
<path d="M276 428.75L279.25 432L276 435.25L272.75 432Z" fill="#fa9207"/>
<path d="M264 401.75L267.25 405L264 408.25L260.75 405Z" fill="#972766"/>
<path d="M264 403.75L267.25 407L264 410.25L260.75 407Z" fill="#972766"/>
<path d="M273 426.75L276.25 430L273 433.25L269.75 430Z" fill="#d84c3e"/>
<path d="M268 412.75L271.25 416L268 419.25L264.75 416Z" fill="#b93556"/>
<path d="M273 414.75L276.25 418L273 421.25L269.75 418Z" fill="#972766"/>
<path d="M268 407.75L271.25 411L268 414.25L264.75 411Z" fill="#b93556"/>
<path d="M265 417.75L268.25 421L265 424.25L261.75 421Z" fill="#b93556"/>
<path d="M271 414.75L274.25 418L271 421.25L267.75 418Z" fill="#972766"/>
<path d="M264 409.75L267.25 413L264 416.25L260.75 413Z" fill="#721a6e"/>
<path d="M268 411.75L271.25 415L268 418.25L264.75 415Z" fill="#b93556"/>
<path d="M276 423.75L279.25 427L276 430.25L272.75 427Z" fill="#972766"/>
<path d="M263 410.75L266.25 414L263 417.25L259.75 414Z" fill="#721a6e"/>
<path d="M273 413.75L276.25 417L273 420.25L269.75 417Z" fill="#b93556"/>
<path d="M276 418.75L279.25 422L276 425.25L272.75 422Z" fill="#ef6c23"/>
<path d="M278 428.75L281.25 432L278 435.25L274.75 432Z" fill="#ef6c23"/>
<path d="M275 401.75L278.25 405L275 408.25L271.75 405Z" fill="#d84c3e"/>
<path d="M272 430.75L275.25 434L272 437.25L268.75 434Z" fill="#d84c3e"/>
<path d="M262 416.75L265.25 420L262 423.25L258.75 420Z" fill="#4d0d6c"/>
<path d="M264 421.75L267.25 425L264 428.25L260.75 425Z" fill="#972766"/>
<path d="M269 430.75L272.25 434L269 437.25L265.75 434Z" fill="#d84c3e"/>
<path d="M268 422.75L271.25 426L268 429.25L264.75 426Z" fill="#b93556"/>
<path d="M272 405.75L275.25 409L272 412.25L268.75 409Z" fill="#721a6e"/>
<path d="M265 401.75L268.25 405L265 408.25L261.75 405Z" fill="#721a6e"/>
<path d="M276 422.75L279.25 426L276 429.25L272.75 426Z" fill="#d84c3e"/>
<path d="M278 423.75L281.25 427L278 430.25L274.75 427Z" fill="#d84c3e"/>
<path d="M264 403.75L267.25 407L264 410.25L260.75 407Z" fill="#721a6e"/>
<path d="M268 418.75L271.25 422L268 425.25L264.75 422Z" fill="#972766"/>
<path d="M275 413.75L278.25 417L275 420.25L271.75 417Z" fill="#4d0d6c"/>
<path d="M269 409.75L272.25 413L269 416.25L265.75 413Z" fill="#972766"/>
<path d="M263 428.75L266.25 432L263 435.25L259.75 432Z" fill="#972766"/>
<path d="M277 410.75L280.25 414L277 417.25L273.75 414Z" fill="#721a6e"/>
<path d="M263 423.75L266.25 427L263 430.25L259.75 427Z" fill="#fa9207"/>
<path d="M323 434.75L326.25 438L323 441.25L319.75 438Z" fill="#4d0d6c"/>
<path d="M313 444.75L316.25 448L313 451.25L309.75 448Z" fill="#d84c3e"/>
<path d="M312 427.75L315.25 431L312 434.25L308.75 431Z" fill="#972766"/>
<path d="M316 435.75L319.25 439L316 442.25L312.75 439Z" fill="#972766"/>
<path d="M319 449.75L322.25 453L319 456.25L315.75 453Z" fill="#b93556"/>
<path d="M322 448.75L325.25 452L322 455.25L318.75 452Z" fill="#b93556"/>
<path d="M321 452.75L324.25 456L321 459.25L317.75 456Z" fill="#b93556"/>
<path d="M314 439.75L317.25 443L314 446.25L310.75 443Z" fill="#b93556"/>
<path d="M312 441.75L315.25 445L312 448.25L308.75 445Z" fill="#b93556"/>
<path d="M311 431.75L314.25 435L311 438.25L307.75 435Z" fill="#721a6e"/>
<path d="M312 431.75L315.25 435L312 438.25L308.75 435Z" fill="#b93556"/>
<path d="M309 434.75L312.25 438L309 441.25L305.75 438Z" fill="#972766"/>
<path d="M314 441.75L317.25 445L314 448.25L310.75 445Z" fill="#b93556"/>
<path d="M321 446.75L324.25 450L321 453.25L317.75 450Z" fill="#d84c3e"/>
<path d="M314 440.75L317.25 444L314 447.25L310.75 444Z" fill="#b93556"/>
<path d="M310 441.75L313.25 445L310 448.25L306.75 445Z" fill="#972766"/>
<path d="M314 427.75L317.25 431L314 434.25L310.75 431Z" fill="#972766"/>
<path d="M314 435.75L317.25 439L314 442.25L310.75 439Z" fill="#721a6e"/>
<path d="M316 453.75L319.25 457L316 460.25L312.75 457Z" fill="#ef6c23"/>
<path d="M309 447.75L312.25 451L309 454.25L305.75 451Z" fill="#b93556"/>
<path d="M309 445.75L312.25 449L309 452.25L305.75 449Z" fill="#b93556"/>
<path d="M318 428.75L321.25 432L318 435.25L314.75 432Z" fill="#721a6e"/>
<path d="M319 441.75L322.25 445L319 448.25L315.75 445Z" fill="#b93556"/>
<path d="M318 445.75L321.25 449L318 452.25L314.75 449Z" fill="#b93556"/>
<path d="M319 428.75L322.25 432L319 435.25L315.75 432Z" fill="#b93556"/>
<path d="M310 427.75L313.25 431L310 434.25L306.75 431Z" fill="#721a6e"/>
<path d="M321 450.75L324.25 454L321 457.25L317.75 454Z" fill="#b93556"/>
<path d="M314 445.75L317.25 449L314 452.25L310.75 449Z" fill="#d84c3e"/>
<path d="M319 426.75L322.25 430L319 433.25L315.75 430Z" fill="#721a6e"/>
<path d="M317 442.75L320.25 446L317 449.25L313.75 446Z" fill="#b93556"/>
<path d="M312 449.75L315.25 453L312 456.25L308.75 453Z" fill="#b93556"/>
<path d="M312 429.75L315.25 433L312 436.25L308.75 433Z" fill="#972766"/>
<path d="M323 448.75L326.25 452L323 455.25L319.75 452Z" fill="#d84c3e"/>
<path d="M310 443.75L313.25 447L310 450.25L306.75 447Z" fill="#972766"/>
<path d="M321 427.75L324.25 431L321 434.25L317.75 431Z" fill="#972766"/>
<path d="M312 433.75L315.25 437L312 440.25L308.75 437Z" fill="#4d0d6c"/>
<path d="M316 451.75L319.25 455L316 458.25L312.75 455Z" fill="#b93556"/>
<path d="M316 444.75L319.25 448L316 451.25L312.75 448Z" fill="#d84c3e"/>
<path d="M314 447.75L317.25 451L314 454.25L310.75 451Z" fill="#b93556"/>
<path d="M322 431.75L325.25 435L322 438.25L318.75 435Z" fill="#972766"/>
<path d="M315 449.75L318.25 453L315 456.25L311.75 453Z" fill="#d84c3e"/>
<path d="M312 446.75L315.25 450L312 453.25L308.75 450Z" fill="#d84c3e"/>
<path d="M321 427.75L324.25 431L321 434.25L317.75 431Z" fill="#972766"/>
<path d="M314 448.75L317.25 452L314 455.25L310.75 452Z" fill="#d84c3e"/>
<path d="M323 451.75L326.25 455L323 458.25L319.75 455Z" fill="#b93556"/>
<path d="M318 441.75L321.25 445L318 448.25L314.75 445Z" fill="#972766"/>
<path d="M313 440.75L316.25 444L313 447.25L309.75 444Z" fill="#972766"/>
<path d="M317 439.75L320.25 443L317 446.25L313.75 443Z" fill="#b93556"/>
<path d="M309 448.75L312.25 452L309 455.25L305.75 452Z" fill="#972766"/>
<path d="M321 430.75L324.25 434L321 437.25L317.75 434Z" fill="#b93556"/>
<path d="M318 446.75L321.25 450L318 453.25L314.75 450Z" fill="#d84c3e"/>
<path d="M315 454.75L318.25 458L315 461.25L311.75 458Z" fill="#d84c3e"/>
<path d="M324 439.75L327.25 443L324 446.25L320.75 443Z" fill="#b93556"/>
<path d="M314 447.75L317.25 451L314 454.25L310.75 451Z" fill="#ef6c23"/>
<path d="M320 447.75L323.25 451L320 454.25L316.75 451Z" fill="#b93556"/>
<path d="M320 433.75L323.25 437L320 440.25L316.75 437Z" fill="#721a6e"/>
<path d="M321 427.75L324.25 431L321 434.25L317.75 431Z" fill="#721a6e"/>
<path d="M310 436.75L313.25 440L310 443.25L306.75 440Z" fill="#972766"/>
<path d="M311 446.75L314.25 450L311 453.25L307.75 450Z" fill="#b93556"/>
<path d="M315 442.75L318.25 446L315 449.25L311.75 446Z" fill="#d84c3e"/>
<path d="M313 428.75L316.25 432L313 435.25L309.75 432Z" fill="#721a6e"/>
<path d="M311 448.75L314.25 452L311 455.25L307.75 452Z" fill="#b93556"/>
<path d="M319 428.75L322.25 432L319 435.25L315.75 432Z" fill="#721a6e"/>
<path d="M321 428.75L324.25 432L321 435.25L317.75 432Z" fill="#721a6e"/>
<path d="M310 441.75L313.25 445L310 448.25L306.75 445Z" fill="#972766"/>
<path d="M317 430.75L320.25 434L317 437.25L313.75 434Z" fill="#721a6e"/>
<path d="M314 446.75L317.25 450L314 453.25L310.75 450Z" fill="#d84c3e"/>
<path d="M317 440.75L320.25 444L317 447.25L313.75 444Z" fill="#972766"/>
<path d="M310 438.75L313.25 442L310 445.25L306.75 442Z" fill="#b93556"/>
<path d="M310 432.75L313.25 436L310 439.25L306.75 436Z" fill="#972766"/>
<path d="M310 437.75L313.25 441L310 444.25L306.75 441Z" fill="#972766"/>
<path d="M320 433.75L323.25 437L320 440.25L316.75 437Z" fill="#972766"/>
<path d="M319 437.75L322.25 441L319 444.25L315.75 441Z" fill="#721a6e"/>
<path d="M314 450.75L317.25 454L314 457.25L310.75 454Z" fill="#b93556"/>
<path d="M310 428.75L313.25 432L310 435.25L306.75 432Z" fill="#972766"/>
<path d="M313 438.75L316.25 442L313 445.25L309.75 442Z" fill="#972766"/>
<path d="M313 447.75L316.25 451L313 454.25L309.75 451Z" fill="#972766"/>
<path d="M309 442.75L312.25 446L309 449.25L305.75 446Z" fill="#b93556"/>
<path d="M319 431.75L322.25 435L319 438.25L315.75 435Z" fill="#972766"/>
<path d="M322 448.75L325.25 452L322 455.25L318.75 452Z" fill="#b93556"/>
<path d="M316 435.75L319.25 439L316 442.25L312.75 439Z" fill="#b93556"/>
<path d="M312 450.75L315.25 454L312 457.25L308.75 454Z" fill="#b93556"/>
<path d="M318 430.75L321.25 434L318 437.25L314.75 434Z" fill="#972766"/>
<path d="M308 438.75L311.25 442L308 445.25L304.75 442Z" fill="#b93556"/>
<path d="M311 428.75L314.25 432L311 435.25L307.75 432Z" fill="#b93556"/>
<path d="M312 433.75L315.25 437L312 440.25L308.75 437Z" fill="#d84c3e"/>
<path d="M316 427.75L319.25 431L316 434.25L312.75 431Z" fill="#972766"/>
<path d="M323 431.75L326.25 435L323 438.25L319.75 435Z" fill="#972766"/>
<path d="M320 441.75L323.25 445L320 448.25L316.75 445Z" fill="#972766"/>
<path d="M317 431.75L320.25 435L317 438.25L313.75 435Z" fill="#972766"/>
<path d="M310 441.75L313.25 445L310 448.25L306.75 445Z" fill="#d84c3e"/>
<path d="M315 439.75L318.25 443L315 446.25L311.75 443Z" fill="#972766"/>
<path d="M313 439.75L316.25 443L313 446.25L309.75 443Z" fill="#b93556"/>
<path d="M310 442.75L313.25 446L310 449.25L306.75 446Z" fill="#721a6e"/>
<path d="M317 440.75L320.25 444L317 447.25L313.75 444Z" fill="#972766"/>
<path d="M312 454.75L315.25 458L312 461.25L308.75 458Z" fill="#d84c3e"/>
<path d="M312 433.75L315.25 437L312 440.25L308.75 437Z" fill="#721a6e"/>
<path d="M324 438.75L327.25 442L324 445.25L320.75 442Z" fill="#d84c3e"/>
<path d="M321 431.75L324.25 435L321 438.25L317.75 435Z" fill="#972766"/>
<path d="M309 449.75L312.25 453L309 456.25L305.75 453Z" fill="#d84c3e"/>
<path d="M321 443.75L324.25 447L321 450.25L317.75 447Z" fill="#972766"/>
<path d="M312 448.75L315.25 452L312 455.25L308.75 452Z" fill="#b93556"/>
<path d="M310 434.75L313.25 438L310 441.25L306.75 438Z" fill="#721a6e"/>
<path d="M320 427.75L323.25 431L320 434.25L316.75 431Z" fill="#972766"/>
<path d="M311 451.75L314.25 455L311 458.25L307.75 455Z" fill="#d84c3e"/>
<path d="M317 439.75L320.25 443L317 446.25L313.75 443Z" fill="#b93556"/>
<path d="M320 439.75L323.25 443L320 446.25L316.75 443Z" fill="#972766"/>
<path d="M321 432.75L324.25 436L321 439.25L317.75 436Z" fill="#721a6e"/>
<path d="M312 447.75L315.25 451L312 454.25L308.75 451Z" fill="#972766"/>
<path d="M318 426.75L321.25 430L318 433.25L314.75 430Z" fill="#4d0d6c"/>
<path d="M322 436.75L325.25 440L322 443.25L318.75 440Z" fill="#b93556"/>
<path d="M310 441.75L313.25 445L310 448.25L306.75 445Z" fill="#b93556"/>
<path d="M320 429.75L323.25 433L320 436.25L316.75 433Z" fill="#972766"/>
<path d="M319 449.75L322.25 453L319 456.25L315.75 453Z" fill="#b93556"/>
<path d="M316 434.75L319.25 438L316 441.25L312.75 438Z" fill="#972766"/>
<path d="M317 437.75L320.25 441L317 444.25L313.75 441Z" fill="#b93556"/>
<path d="M318 434.75L321.25 438L318 441.25L314.75 438Z" fill="#b93556"/>
<path d="M314 448.75L317.25 452L314 455.25L310.75 452Z" fill="#d84c3e"/>
<path d="M310 435.75L313.25 439L310 442.25L306.75 439Z" fill="#721a6e"/>
<path d="M323 438.75L326.25 442L323 445.25L319.75 442Z" fill="#b93556"/>
<path d="M318 448.75L321.25 452L318 455.25L314.75 452Z" fill="#d84c3e"/>
<path d="M314 449.75L317.25 453L314 456.25L310.75 453Z" fill="#d84c3e"/>
<path d="M323 448.75L326.25 452L323 455.25L319.75 452Z" fill="#d84c3e"/>
<path d="M319 433.75L322.25 437L319 440.25L315.75 437Z" fill="#972766"/>
<path d="M318 442.75L321.25 446L318 449.25L314.75 446Z" fill="#ef6c23"/>
<path d="M312 432.75L315.25 436L312 439.25L308.75 436Z" fill="#721a6e"/>
<path d="M316 439.75L319.25 443L316 446.25L312.75 443Z" fill="#b93556"/>
<path d="M323 429.75L326.25 433L323 436.25L319.75 433Z" fill="#721a6e"/>
<path d="M316 434.75L319.25 438L316 441.25L312.75 438Z" fill="#972766"/>
<path d="M323 434.75L326.25 438L323 441.25L319.75 438Z" fill="#972766"/>
<path d="M323 448.75L326.25 452L323 455.25L319.75 452Z" fill="#d84c3e"/>
<path d="M322 440.75L325.25 444L322 447.25L318.75 444Z" fill="#d84c3e"/>
<path d="M314 447.75L317.25 451L314 454.25L310.75 451Z" fill="#d84c3e"/>
<path d="M318 430.75L321.25 434L318 437.25L314.75 434Z" fill="#972766"/>
<path d="M311 435.75L314.25 439L311 442.25L307.75 439Z" fill="#972766"/>
<path d="M311 438.75L314.25 442L311 445.25L307.75 442Z" fill="#972766"/>
<path d="M318 427.75L321.25 431L318 434.25L314.75 431Z" fill="#721a6e"/>
<path d="M320 426.75L323.25 430L320 433.25L316.75 430Z" fill="#721a6e"/>
<path d="M309 431.75L312.25 435L309 438.25L305.75 435Z" fill="#972766"/>
<path d="M313 426.75L316.25 430L313 433.25L309.75 430Z" fill="#972766"/>
<path d="M317 441.75L320.25 445L317 448.25L313.75 445Z" fill="#721a6e"/>
<path d="M318 431.75L321.25 435L318 438.25L314.75 435Z" fill="#972766"/>
<path d="M314 425.75L317.25 429L314 432.25L310.75 429Z" fill="#972766"/>
<path d="M321 428.75L324.25 432L321 435.25L317.75 432Z" fill="#4d0d6c"/>
<path d="M318 450.75L321.25 454L318 457.25L314.75 454Z" fill="#b93556"/>
<path d="M319 447.75L322.25 451L319 454.25L315.75 451Z" fill="#972766"/>
<path d="M311 452.75L314.25 456L311 459.25L307.75 456Z" fill="#b93556"/>
<path d="M312 450.75L315.25 454L312 457.25L308.75 454Z" fill="#b93556"/>
<path d="M314 447.75L317.25 451L314 454.25L310.75 451Z" fill="#972766"/>
<path d="M319 451.75L322.25 455L319 458.25L315.75 455Z" fill="#d84c3e"/>
<path d="M309 412.75L312.25 416L309 419.25L305.75 416Z" fill="#721a6e"/>
<path d="M312 419.75L315.25 423L312 426.25L308.75 423Z" fill="#b93556"/>
<path d="M312 423.75L315.25 427L312 430.25L308.75 427Z" fill="#b93556"/>
<path d="M313 458.75L316.25 462L313 465.25L309.75 462Z" fill="#fa9207"/>
<path d="M313 462.75L316.25 466L313 469.25L309.75 466Z" fill="#fa9207"/>
<path d="M364 485.75L367.25 489L364 492.25L360.75 489Z" fill="#b93556"/>
<path d="M368 472.75L371.25 476L368 479.25L364.75 476Z" fill="#b93556"/>
<path d="M358 461.75L361.25 465L358 468.25L354.75 465Z" fill="#b93556"/>
<path d="M354 483.75L357.25 487L354 490.25L350.75 487Z" fill="#d84c3e"/>
<path d="M359 480.75L362.25 484L359 487.25L355.75 484Z" fill="#d84c3e"/>
<path d="M363 475.75L366.25 479L363 482.25L359.75 479Z" fill="#b93556"/>
<path d="M367 473.75L370.25 477L367 480.25L363.75 477Z" fill="#721a6e"/>
<path d="M359 469.75L362.25 473L359 476.25L355.75 473Z" fill="#b93556"/>
<path d="M364 476.75L367.25 480L364 483.25L360.75 480Z" fill="#d84c3e"/>
<path d="M355 471.75L358.25 475L355 478.25L351.75 475Z" fill="#972766"/>
<path d="M363 486.75L366.25 490L363 493.25L359.75 490Z" fill="#d84c3e"/>
<path d="M361 462.75L364.25 466L361 469.25L357.75 466Z" fill="#b93556"/>
<path d="M365 482.75L368.25 486L365 489.25L361.75 486Z" fill="#b93556"/>
<path d="M363 483.75L366.25 487L363 490.25L359.75 487Z" fill="#b93556"/>
<path d="M360 471.75L363.25 475L360 478.25L356.75 475Z" fill="#d84c3e"/>
<path d="M357 462.75L360.25 466L357 469.25L353.75 466Z" fill="#b93556"/>
<path d="M356 484.75L359.25 488L356 491.25L352.75 488Z" fill="#d84c3e"/>
<path d="M362 476.75L365.25 480L362 483.25L358.75 480Z" fill="#b93556"/>
<path d="M357 472.75L360.25 476L357 479.25L353.75 476Z" fill="#b93556"/>
<path d="M364 476.75L367.25 480L364 483.25L360.75 480Z" fill="#b93556"/>
<path d="M365 475.75L368.25 479L365 482.25L361.75 479Z" fill="#b93556"/>
<path d="M360 470.75L363.25 474L360 477.25L356.75 474Z" fill="#d84c3e"/>
<path d="M356 479.75L359.25 483L356 486.25L352.75 483Z" fill="#972766"/>
<path d="M354 478.75L357.25 482L354 485.25L350.75 482Z" fill="#b93556"/>
<path d="M367 466.75L370.25 470L367 473.25L363.75 470Z" fill="#b93556"/>
<path d="M361 487.75L364.25 491L361 494.25L357.75 491Z" fill="#ef6c23"/>
<path d="M358 484.75L361.25 488L358 491.25L354.75 488Z" fill="#d84c3e"/>
<path d="M362 480.75L365.25 484L362 487.25L358.75 484Z" fill="#b93556"/>
<path d="M360 466.75L363.25 470L360 473.25L356.75 470Z" fill="#b93556"/>
<path d="M363 474.75L366.25 478L363 481.25L359.75 478Z" fill="#b93556"/>
<path d="M355 473.75L358.25 477L355 480.25L351.75 477Z" fill="#b93556"/>
<path d="M356 463.75L359.25 467L356 470.25L352.75 467Z" fill="#972766"/>
<path d="M357 475.75L360.25 479L357 482.25L353.75 479Z" fill="#d84c3e"/>
<path d="M356 473.75L359.25 477L356 480.25L352.75 477Z" fill="#972766"/>
<path d="M357 462.75L360.25 466L357 469.25L353.75 466Z" fill="#d84c3e"/>
<path d="M355 474.75L358.25 478L355 481.25L351.75 478Z" fill="#d84c3e"/>
<path d="M363 479.75L366.25 483L363 486.25L359.75 483Z" fill="#d84c3e"/>
<path d="M366 478.75L369.25 482L366 485.25L362.75 482Z" fill="#972766"/>
<path d="M353 469.75L356.25 473L353 476.25L349.75 473Z" fill="#b93556"/>
<path d="M358 470.75L361.25 474L358 477.25L354.75 474Z" fill="#972766"/>
<path d="M364 465.75L367.25 469L364 472.25L360.75 469Z" fill="#b93556"/>
<path d="M361 465.75L364.25 469L361 472.25L357.75 469Z" fill="#d84c3e"/>
<path d="M355 475.75L358.25 479L355 482.25L351.75 479Z" fill="#b93556"/>
<path d="M357 466.75L360.25 470L357 473.25L353.75 470Z" fill="#b93556"/>
<path d="M353 475.75L356.25 479L353 482.25L349.75 479Z" fill="#ef6c23"/>
<path d="M352 449.75L355.25 453L352 456.25L348.75 453Z" fill="#721a6e"/>
<path d="M359 445.75L362.25 449L359 452.25L355.75 449Z" fill="#721a6e"/>
<path d="M364 449.75L367.25 453L364 456.25L360.75 453Z" fill="#721a6e"/>
<path d="M366 453.75L369.25 457L366 460.25L362.75 457Z" fill="#721a6e"/>
<path d="M362 457.75L365.25 461L362 464.25L358.75 461Z" fill="#721a6e"/>
<path d="M357 454.75L360.25 458L357 461.25L353.75 458Z" fill="#721a6e"/>
<path d="M352 452.75L355.25 456L352 459.25L348.75 456Z" fill="#721a6e"/>
<path d="M354 454.75L357.25 458L354 461.25L350.75 458Z" fill="#972766"/>
<path d="M353 461.75L356.25 465L353 468.25L349.75 465Z" fill="#972766"/>
<path d="M357 460.75L360.25 464L357 467.25L353.75 464Z" fill="#721a6e"/>
<path d="M361 464.75L364.25 468L361 471.25L357.75 468Z" fill="#972766"/>
<path d="M364 462.75L367.25 466L364 469.25L360.75 466Z" fill="#b93556"/>
<path d="M361 466.75L364.25 470L361 473.25L357.75 470Z" fill="#721a6e"/>
<path d="M355 470.75L358.25 474L355 477.25L351.75 474Z" fill="#b93556"/>
<path d="M351 474.75L354.25 478L351 481.25L347.75 478Z" fill="#972766"/>
<path d="M367 473.75L370.25 477L367 480.25L363.75 477Z" fill="#b93556"/>
<path d="M357 475.75L360.25 479L357 482.25L353.75 479Z" fill="#d84c3e"/>
<path d="M362 477.75L365.25 481L362 484.25L358.75 481Z" fill="#b93556"/>
<path d="M354 480.75L357.25 484L354 487.25L350.75 484Z" fill="#972766"/>
<path d="M358 481.75L361.25 485L358 488.25L354.75 485Z" fill="#b93556"/>
<path d="M356 484.75L359.25 488L356 491.25L352.75 488Z" fill="#d84c3e"/>
<path d="M361 483.75L364.25 487L361 490.25L357.75 487Z" fill="#d84c3e"/>
<path d="M367 484.75L370.25 488L367 491.25L363.75 488Z" fill="#b93556"/>
<path d="M354 485.75L357.25 489L354 492.25L350.75 489Z" fill="#b93556"/>
<path d="M364 487.75L367.25 491L364 494.25L360.75 491Z" fill="#b93556"/>
<path d="M353 492.75L356.25 496L353 499.25L349.75 496Z" fill="#ef6c23"/>
<path d="M351 495.75L354.25 499L351 502.25L347.75 499Z" fill="#ef6c23"/>
<path d="M366 492.75L369.25 496L366 499.25L362.75 496Z" fill="#ef6c23"/>
<path d="M368 496.75L371.25 500L368 503.25L364.75 500Z" fill="#ef6c23"/>
<path d="M358 471.75L361.25 475L358 478.25L354.75 475Z" fill="#b93556"/>
<path d="M364 469.75L367.25 473L364 476.25L360.75 473Z" fill="#972766"/>
<path d="M350 467.75L353.25 471L350 474.25L346.75 471Z" fill="#972766"/>
<path d="M359 486.75L362.25 490L359 493.25L355.75 490Z" fill="#b93556"/>
<path d="M557 338.75L560.25 342L557 345.25L553.75 342Z" fill="#71196e"/>
<path d="M563 400.75L566.25 404L563 407.25L559.75 404Z" fill="#71196e"/>
<path d="M557 408.75L560.25 412L557 415.25L553.75 412Z" fill="#c33b4f"/>
<path d="M565 409.75L568.25 413L565 416.25L561.75 413Z" fill="#7a1d6d"/>
<path d="M550 420.75L553.25 424L550 427.25L546.75 424Z" fill="#a82e5f"/>
<path d="M560 422.75L563.25 426L560 429.25L556.75 426Z" fill="#cb4149"/>
<path d="M561 434.75L564.25 438L561 441.25L557.75 438Z" fill="#f8850f"/>
<path d="M553 441.75L556.25 445L553 448.25L549.75 445Z" fill="#a02a63"/>
<path d="M561 443.75L564.25 447L561 450.25L557.75 447Z" fill="#fa9008"/>
<path d="M554 449.75L557.25 453L554 456.25L550.75 453Z" fill="#c33b4f"/>
<path d="M549 453.75L552.25 457L549 460.25L545.75 457Z" fill="#fa9008"/>
<path d="M565 451.75L568.25 455L565 458.25L561.75 455Z" fill="#e75e2e"/>
<path d="M556 456.75L559.25 460L556 463.25L552.75 460Z" fill="#ba3655"/>
<path d="M569 455.75L572.25 459L569 462.25L565.75 459Z" fill="#d34743"/>
<path d="M548 465.75L551.25 469L548 472.25L544.75 469Z" fill="#e15635"/>
<path d="M556 466.75L559.25 470L556 473.25L552.75 470Z" fill="#c33b4f"/>
<path d="M563 467.75L566.25 471L563 474.25L559.75 471Z" fill="#f8850f"/>
<path d="M569 465.75L572.25 469L569 472.25L565.75 469Z" fill="#e75e2e"/>
<path d="M557 474.75L560.25 478L557 481.25L553.75 478Z" fill="#8d2369"/>
<path d="M547 478.75L550.25 482L547 485.25L543.75 482Z" fill="#cb4149"/>
<path d="M568 496.75L571.25 500L568 503.25L564.75 500Z" fill="#e15635"/>
<path d="M555 470.75L558.25 474L555 477.25L551.75 474Z" fill="#da4e3c"/>
<path d="M618 441.75L621.25 445L618 448.25L614.75 445Z" fill="#9a2865"/>
<path d="M620 424.75L623.25 428L620 431.25L616.75 428Z" fill="#a22b62"/>
<path d="M621 406.75L624.25 410L621 413.25L617.75 410Z" fill="#f1711f"/>
<path d="M614 411.75L617.25 415L614 418.25L610.75 415Z" fill="#d04545"/>
<path d="M633 422.75L636.25 426L633 429.25L629.75 426Z" fill="#ed6925"/>
<path d="M618 435.75L621.25 439L618 442.25L614.75 439Z" fill="#82206c"/>
<path d="M611 431.75L614.25 435L611 438.25L607.75 435Z" fill="#781c6d"/>
<path d="M625 404.75L628.25 408L625 411.25L621.75 408Z" fill="#6f196e"/>
<path d="M613 411.75L616.25 415L613 418.25L609.75 415Z" fill="#e75e2e"/>
<path d="M624 433.75L627.25 437L624 440.25L620.75 437Z" fill="#dd513a"/>
<path d="M628 428.75L631.25 432L628 435.25L624.75 432Z" fill="#e75e2e"/>
<path d="M625 432.75L628.25 436L625 439.25L621.75 436Z" fill="#da4e3c"/>
<path d="M617 437.75L620.25 441L617 444.25L613.75 441Z" fill="#ce4347"/>
<path d="M630 419.75L633.25 423L630 426.25L626.75 423Z" fill="#7a1d6d"/>
<path d="M624 418.75L627.25 422L624 425.25L620.75 422Z" fill="#e15635"/>
<path d="M628 426.75L631.25 430L628 433.25L624.75 430Z" fill="#c43c4e"/>
<path d="M615 432.75L618.25 436L615 439.25L611.75 436Z" fill="#ab2f5e"/>
<path d="M626 417.75L629.25 421L626 424.25L622.75 421Z" fill="#ec6726"/>
<path d="M616 426.75L619.25 430L616 433.25L612.75 430Z" fill="#e65d2f"/>
<path d="M615 432.75L618.25 436L615 439.25L611.75 436Z" fill="#6d186e"/>
<path d="M617 415.75L620.25 419L617 422.25L613.75 419Z" fill="#d04545"/>
<path d="M619 412.75L622.25 416L619 419.25L615.75 416Z" fill="#b3325a"/>
<path d="M632 419.75L635.25 423L632 426.25L628.75 423Z" fill="#a52c60"/>
<path d="M627 429.75L630.25 433L627 436.25L623.75 433Z" fill="#e8602d"/>
<path d="M623 424.75L626.25 428L623 431.25L619.75 428Z" fill="#b43359"/>
<path d="M619 428.75L622.25 432L619 435.25L615.75 432Z" fill="#c63d4d"/>
<path d="M624 417.75L627.25 421L624 424.25L620.75 421Z" fill="#df5337"/>
<path d="M633 420.75L636.25 424L633 427.25L629.75 424Z" fill="#c03a51"/>
<path d="M612 430.75L615.25 434L612 437.25L608.75 434Z" fill="#c03a51"/>
<path d="M621 435.75L624.25 439L621 442.25L617.75 439Z" fill="#db503b"/>
<path d="M613 414.75L616.25 418L613 421.25L609.75 418Z" fill="#e35933"/>
<path d="M611 427.75L614.25 431L611 434.25L607.75 431Z" fill="#85216b"/>
<path d="M630 427.75L633.25 431L630 434.25L626.75 431Z" fill="#e65d2f"/>
<path d="M618 419.75L621.25 423L618 426.25L614.75 423Z" fill="#c63d4d"/>
<path d="M628 409.75L631.25 413L628 416.25L624.75 413Z" fill="#fbbe23"/>
<path d="M613 419.75L616.25 423L613 426.25L609.75 423Z" fill="#cc4248"/>
<path d="M618 419.75L621.25 423L618 426.25L614.75 423Z" fill="#a52c60"/>
<path d="M613 422.75L616.25 426L613 429.25L609.75 426Z" fill="#b43359"/>
<path d="M617 435.75L620.25 439L617 442.25L613.75 439Z" fill="#540f6d"/>
<path d="M612 430.75L615.25 434L612 437.25L608.75 434Z" fill="#d84c3e"/>
<path d="M624 439.75L627.25 443L624 446.25L620.75 443Z" fill="#d34743"/>
<path d="M632 422.75L635.25 426L632 429.25L628.75 426Z" fill="#e8602d"/>
<path d="M629 437.75L632.25 441L629 444.25L625.75 441Z" fill="#b93556"/>
<path d="M629 416.75L632.25 420L629 423.25L625.75 420Z" fill="#f57d15"/>
<path d="M619 409.75L622.25 413L619 416.25L615.75 413Z" fill="#f1731d"/>
<path d="M625 406.75L628.25 410L625 413.25L621.75 410Z" fill="#f98b0b"/>
<path d="M617 405.75L620.25 409L617 412.25L613.75 409Z" fill="#fca50a"/>
<path d="M617 432.75L620.25 436L617 439.25L613.75 436Z" fill="#84206b"/>
<path d="M616 418.75L619.25 422L616 425.25L612.75 422Z" fill="#ea632a"/>
<path d="M620 439.75L623.25 443L620 446.25L616.75 443Z" fill="#ca404a"/>
<path d="M626 415.75L629.25 419L626 422.25L622.75 419Z" fill="#d94d3d"/>
<path d="M618 426.75L621.25 430L618 433.25L614.75 430Z" fill="#df5337"/>
<path d="M623 421.75L626.25 425L623 428.25L619.75 425Z" fill="#da4e3c"/>
<path d="M616 440.75L619.25 444L616 447.25L612.75 444Z" fill="#87216b"/>
<path d="M631 434.75L634.25 438L631 441.25L627.75 438Z" fill="#cc4248"/>
<path d="M632 416.75L635.25 420L632 423.25L628.75 420Z" fill="#a62d60"/>
<path d="M622 440.75L625.25 444L622 447.25L618.75 444Z" fill="#c13a50"/>
<path d="M616 439.75L619.25 443L616 446.25L612.75 443Z" fill="#ea632a"/>
<path d="M630 429.75L633.25 433L630 436.25L626.75 433Z" fill="#a92e5e"/>
<path d="M614 420.75L617.25 424L614 427.25L610.75 424Z" fill="#eb6429"/>
<path d="M624 432.75L627.25 436L624 439.25L620.75 436Z" fill="#bf3952"/>
<path d="M627 418.75L630.25 422L627 425.25L623.75 422Z" fill="#e65d2f"/>
<path d="M615 436.75L618.25 440L615 443.25L611.75 440Z" fill="#540f6d"/>
<path d="M625 437.75L628.25 441L625 444.25L621.75 441Z" fill="#922568"/>
<path d="M631 417.75L634.25 421L631 424.25L627.75 421Z" fill="#eb6628"/>
<path d="M616 405.75L619.25 409L616 412.25L612.75 409Z" fill="#a52c60"/>
<path d="M620 416.75L623.25 420L620 423.25L616.75 420Z" fill="#e8602d"/>
<path d="M628 417.75L631.25 421L628 424.25L624.75 421Z" fill="#d34743"/>
<path d="M616 435.75L619.25 439L616 442.25L612.75 439Z" fill="#88226a"/>
<path d="M624 441.75L627.25 445L624 448.25L620.75 445Z" fill="#df5337"/>
<path d="M614 420.75L617.25 424L614 427.25L610.75 424Z" fill="#8c2369"/>
<path d="M631 432.75L634.25 436L631 439.25L627.75 436Z" fill="#d54a41"/>
<path d="M611 423.75L614.25 427L611 430.25L607.75 427Z" fill="#e55c30"/>
<path d="M623 418.75L626.25 422L623 425.25L619.75 422Z" fill="#d04545"/>
<path d="M627 409.75L630.25 413L627 416.25L623.75 413Z" fill="#d84c3e"/>
<path d="M624 440.75L627.25 444L624 447.25L620.75 444Z" fill="#c83f4b"/>
<path d="M619 415.75L622.25 419L619 422.25L615.75 419Z" fill="#f98b0b"/>
<path d="M633 425.75L636.25 429L633 432.25L629.75 429Z" fill="#85216b"/>
<path d="M624 427.75L627.25 431L624 434.25L620.75 431Z" fill="#9d2964"/>
<path d="M620 436.75L623.25 440L620 443.25L616.75 440Z" fill="#ef6c23"/>
<path d="M627 437.75L630.25 441L627 444.25L623.75 441Z" fill="#741a6e"/>
<path d="M632 431.75L635.25 435L632 438.25L628.75 435Z" fill="#d24644"/>
<path d="M622 425.75L625.25 429L622 432.25L618.75 429Z" fill="#f1731d"/>
<path d="M621 412.75L624.25 416L621 419.25L617.75 416Z" fill="#e45a31"/>
<path d="M613 415.75L616.25 419L613 422.25L609.75 419Z" fill="#e9612b"/>
<path d="M615 420.75L618.25 424L615 427.25L611.75 424Z" fill="#c63d4d"/>
<path d="M618 414.75L621.25 418L618 421.25L614.75 418Z" fill="#d54a41"/>
<path d="M623 426.75L626.25 430L623 433.25L619.75 430Z" fill="#d34743"/>
<path d="M618 413.75L621.25 417L618 420.25L614.75 417Z" fill="#8a226a"/>
<path d="M610 422.75L613.25 426L610 429.25L606.75 426Z" fill="#f37819"/>
<path d="M614 407.75L617.25 411L614 414.25L610.75 411Z" fill="#6c186e"/>
<path d="M624 433.75L627.25 437L624 440.25L620.75 437Z" fill="#a02a63"/>
<path d="M626 421.75L629.25 425L626 428.25L622.75 425Z" fill="#f1711f"/>
<path d="M627 423.75L630.25 427L627 430.25L623.75 427Z" fill="#61136e"/>
<path d="M613 409.75L616.25 413L613 416.25L609.75 413Z" fill="#e45a31"/>
<path d="M620 430.75L623.25 434L620 437.25L616.75 434Z" fill="#f3761b"/>
<path d="M625 413.75L628.25 417L625 420.25L621.75 417Z" fill="#f06f20"/>
<path d="M614 433.75L617.25 437L614 440.25L610.75 437Z" fill="#ef6c23"/>
<path d="M627 410.75L630.25 414L627 417.25L623.75 414Z" fill="#f1711f"/>
<path d="M614 411.75L617.25 415L614 418.25L610.75 415Z" fill="#d74b3f"/>
<path d="M623 410.75L626.25 414L623 417.25L619.75 414Z" fill="#ea632a"/>
<path d="M630 423.75L633.25 427L630 430.25L626.75 427Z" fill="#eb6429"/>
<path d="M618 433.75L621.25 437L618 440.25L614.75 437Z" fill="#c33b4f"/>
<path d="M627 419.75L630.25 423L627 426.25L623.75 423Z" fill="#e8602d"/>
<path d="M631 416.75L634.25 420L631 423.25L627.75 420Z" fill="#d74b3f"/>
<path d="M629 418.75L632.25 422L629 425.25L625.75 422Z" fill="#dd513a"/>
<path d="M612 418.75L615.25 422L612 425.25L608.75 422Z" fill="#df5337"/>
<path d="M622 435.75L625.25 439L622 442.25L618.75 439Z" fill="#4d0d6c"/>
<path d="M629 412.75L632.25 416L629 419.25L625.75 416Z" fill="#f78212"/>
<path d="M624 413.75L627.25 417L624 420.25L620.75 417Z" fill="#a62d60"/>
<path d="M623 416.75L626.25 420L623 423.25L619.75 420Z" fill="#6d186e"/>
<path d="M622 405.75L625.25 409L622 412.25L618.75 409Z" fill="#f98c0a"/>
<path d="M620 406.75L623.25 410L620 413.25L616.75 410Z" fill="#de5238"/>
<path d="M622 438.75L625.25 442L622 445.25L618.75 442Z" fill="#df5337"/>
<path d="M630 418.75L633.25 422L630 425.25L626.75 422Z" fill="#da4e3c"/>
<path d="M622 414.75L625.25 418L622 421.25L618.75 418Z" fill="#b93556"/>
<path d="M613 422.75L616.25 426L613 429.25L609.75 426Z" fill="#ae305c"/>
<path d="M614 408.75L617.25 412L614 415.25L610.75 412Z" fill="#a32c61"/>
<path d="M610 430.75L613.25 434L610 437.25L606.75 434Z" fill="#5d126e"/>
<path d="M626 425.75L629.25 429L626 432.25L622.75 429Z" fill="#d54a41"/>
<path d="M611 386.75L614.25 390L611 393.25L607.75 390Z" fill="#a82e5f"/>
<path d="M624 392.75L627.25 396L624 399.25L620.75 396Z" fill="#fa9008"/>
<path d="M626 397.75L629.25 401L626 404.25L622.75 401Z" fill="#fa9008"/>
<path d="M631 397.75L634.25 401L631 404.25L627.75 401Z" fill="#a82e5f"/>
<path d="M633 406.75L636.25 410L633 413.25L629.75 410Z" fill="#fa9008"/>
<path d="M612 448.75L615.25 452L612 455.25L608.75 452Z" fill="#cb4149"/>
<path d="M619 448.75L622.25 452L619 455.25L615.75 452Z" fill="#67166e"/>
<path d="M614 463.75L617.25 467L614 470.25L610.75 467Z" fill="#cb4149"/>
<path d="M690 381.75L693.25 385L690 388.25L686.75 385Z" fill="#e65d2f"/>
<path d="M685 395.75L688.25 399L685 402.25L681.75 399Z" fill="#e35933"/>
<path d="M681 374.75L684.25 378L681 381.25L677.75 378Z" fill="#eb6429"/>
<path d="M678 396.75L681.25 400L678 403.25L674.75 400Z" fill="#de5238"/>
<path d="M686 396.75L689.25 400L686 403.25L682.75 400Z" fill="#ba3655"/>
<path d="M683 398.75L686.25 402L683 405.25L679.75 402Z" fill="#c33b4f"/>
<path d="M691 372.75L694.25 376L691 379.25L687.75 376Z" fill="#f57d15"/>
<path d="M685 386.75L688.25 390L685 393.25L681.75 390Z" fill="#e05536"/>
<path d="M693 399.75L696.25 403L693 406.25L689.75 403Z" fill="#b1325a"/>
<path d="M693 375.75L696.25 379L693 382.25L689.75 379Z" fill="#f47918"/>
<path d="M694 377.75L697.25 381L694 384.25L690.75 381Z" fill="#f06f20"/>
<path d="M679 375.75L682.25 379L679 382.25L675.75 379Z" fill="#e9612b"/>
<path d="M691 402.75L694.25 406L691 409.25L687.75 406Z" fill="#a22b62"/>
<path d="M676 372.75L679.25 376L676 379.25L672.75 376Z" fill="#fa9008"/>
<path d="M683 399.75L686.25 403L683 406.25L679.75 403Z" fill="#a22b62"/>
<path d="M672 381.75L675.25 385L672 388.25L668.75 385Z" fill="#f1711f"/>
<path d="M695 379.75L698.25 383L695 386.25L691.75 383Z" fill="#eb6429"/>
<path d="M676 376.75L679.25 380L676 383.25L672.75 380Z" fill="#eb6429"/>
<path d="M685 389.75L688.25 393L685 396.25L681.75 393Z" fill="#e75e2e"/>
<path d="M692 399.75L695.25 403L692 406.25L688.75 403Z" fill="#e15635"/>
<path d="M685 381.75L688.25 385L685 388.25L681.75 385Z" fill="#f37819"/>
<path d="M694 389.75L697.25 393L694 396.25L690.75 393Z" fill="#ea632a"/>
<path d="M682 378.75L685.25 382L682 385.25L678.75 382Z" fill="#e55c30"/>
<path d="M678 386.75L681.25 390L678 393.25L674.75 390Z" fill="#ef6c23"/>
<path d="M674 401.75L677.25 405L674 408.25L670.75 405Z" fill="#ba3655"/>
<path d="M694 400.75L697.25 404L694 407.25L690.75 404Z" fill="#cf4446"/>
<path d="M685 394.75L688.25 398L685 401.25L681.75 398Z" fill="#d54a41"/>
<path d="M689 374.75L692.25 378L689 381.25L685.75 378Z" fill="#fb9d07"/>
<path d="M688 374.75L691.25 378L688 381.25L684.75 378Z" fill="#f37819"/>
<path d="M681 397.75L684.25 401L681 404.25L677.75 401Z" fill="#de5238"/>
<path d="M675 394.75L678.25 398L675 401.25L671.75 398Z" fill="#e8602d"/>
<path d="M678 375.75L681.25 379L678 382.25L674.75 379Z" fill="#e75e2e"/>
<path d="M691 388.75L694.25 392L691 395.25L687.75 392Z" fill="#e65d2f"/>
<path d="M679 380.75L682.25 384L679 387.25L675.75 384Z" fill="#f1731d"/>
<path d="M694 398.75L697.25 402L694 405.25L690.75 402Z" fill="#b93556"/>
<path d="M689 385.75L692.25 389L689 392.25L685.75 389Z" fill="#e55c30"/>
<path d="M673 391.75L676.25 395L673 398.25L669.75 395Z" fill="#e15635"/>
<path d="M692 381.75L695.25 385L692 388.25L688.75 385Z" fill="#e05536"/>
<path d="M689 394.75L692.25 398L689 401.25L685.75 398Z" fill="#a82e5f"/>
<path d="M677 387.75L680.25 391L677 394.25L673.75 391Z" fill="#de5238"/>
<path d="M674 389.75L677.25 393L674 396.25L670.75 393Z" fill="#d84c3e"/>
<path d="M693 393.75L696.25 397L693 400.25L689.75 397Z" fill="#d74b3f"/>
<path d="M683 379.75L686.25 383L683 386.25L679.75 383Z" fill="#de5238"/>
<path d="M688 401.75L691.25 405L688 408.25L684.75 405Z" fill="#cc4248"/>
<path d="M694 379.75L697.25 383L694 386.25L690.75 383Z" fill="#d54a41"/>
<path d="M685 381.75L688.25 385L685 388.25L681.75 385Z" fill="#eb6628"/>
<path d="M691 395.75L694.25 399L691 402.25L687.75 399Z" fill="#cb4149"/>
<path d="M685 370.75L688.25 374L685 377.25L681.75 374Z" fill="#f57b17"/>
<path d="M685 392.75L688.25 396L685 399.25L681.75 396Z" fill="#d24644"/>
<path d="M688 382.75L691.25 386L688 389.25L684.75 386Z" fill="#dd513a"/>
<path d="M695 389.75L698.25 393L695 396.25L691.75 393Z" fill="#ef6e21"/>
<path d="M675 396.75L678.25 400L675 403.25L671.75 400Z" fill="#de5238"/>
<path d="M675 399.75L678.25 403L675 406.25L671.75 403Z" fill="#bd3853"/>
<path d="M682 375.75L685.25 379L682 382.25L678.75 379Z" fill="#fa9407"/>
<path d="M678 382.75L681.25 386L678 389.25L674.75 386Z" fill="#dd513a"/>
<path d="M694 399.75L697.25 403L694 406.25L690.75 403Z" fill="#9d2964"/>
<path d="M680 385.75L683.25 389L680 392.25L676.75 389Z" fill="#ef6e21"/>
<path d="M694 374.75L697.25 378L694 381.25L690.75 378Z" fill="#ef6e21"/>
<path d="M677 380.75L680.25 384L677 387.25L673.75 384Z" fill="#f1711f"/>
<path d="M688 396.75L691.25 400L688 403.25L684.75 400Z" fill="#c63d4d"/>
<path d="M691 380.75L694.25 384L691 387.25L687.75 384Z" fill="#f57b17"/>
<path d="M680 374.75L683.25 378L680 381.25L676.75 378Z" fill="#ee6a24"/>
<path d="M694 384.75L697.25 388L694 391.25L690.75 388Z" fill="#d54a41"/>
<path d="M679 403.75L682.25 407L679 410.25L675.75 407Z" fill="#9a2865"/>
<path d="M689 370.75L692.25 374L689 377.25L685.75 374Z" fill="#f68013"/>
<path d="M691 391.75L694.25 395L691 398.25L687.75 395Z" fill="#df5337"/>
<path d="M673 387.75L676.25 391L673 394.25L669.75 391Z" fill="#e45a31"/>
<path d="M674 383.75L677.25 387L674 390.25L670.75 387Z" fill="#ef6c23"/>
<path d="M676 376.75L679.25 380L676 383.25L672.75 380Z" fill="#f68013"/>
<path d="M695 396.75L698.25 400L695 403.25L691.75 400Z" fill="#d54a41"/>
<path d="M685 398.75L688.25 402L685 405.25L681.75 402Z" fill="#ba3655"/>
<path d="M685 377.75L688.25 381L685 384.25L681.75 381Z" fill="#e35933"/>
<path d="M676 394.75L679.25 398L676 401.25L672.75 398Z" fill="#d44842"/>
<path d="M676 390.75L679.25 394L676 397.25L672.75 394Z" fill="#e45a31"/>
<path d="M681 383.75L684.25 387L681 390.25L677.75 387Z" fill="#e05536"/>
<path d="M689 401.75L692.25 405L689 408.25L685.75 405Z" fill="#8c2369"/>
<path d="M674 396.75L677.25 400L674 403.25L670.75 400Z" fill="#d34743"/>
<path d="M694 385.75L697.25 389L694 392.25L690.75 389Z" fill="#d04545"/>
<path d="M686 401.75L689.25 405L686 408.25L682.75 405Z" fill="#ab2f5e"/>
<path d="M685 390.75L688.25 394L685 397.25L681.75 394Z" fill="#ee6a24"/>
<path d="M689 402.75L692.25 406L689 409.25L685.75 406Z" fill="#8f2469"/>
<path d="M683 396.75L686.25 400L683 403.25L679.75 400Z" fill="#e55c30"/>
<path d="M691 395.75L694.25 399L691 402.25L687.75 399Z" fill="#ce4347"/>
<path d="M674 396.75L677.25 400L674 403.25L670.75 400Z" fill="#cb4149"/>
<path d="M677 392.75L680.25 396L677 399.25L673.75 396Z" fill="#d54a41"/>
<path d="M685 402.75L688.25 406L685 409.25L681.75 406Z" fill="#b0315b"/>
<path d="M683 382.75L686.25 386L683 389.25L679.75 386Z" fill="#f98b0b"/>
<path d="M682 386.75L685.25 390L682 393.25L678.75 390Z" fill="#e8602d"/>
<path d="M686 379.75L689.25 383L686 386.25L682.75 383Z" fill="#f78410"/>
<path d="M682 404.75L685.25 408L682 411.25L678.75 408Z" fill="#6c186e"/>
<path d="M687 376.75L690.25 380L687 383.25L683.75 380Z" fill="#ec6726"/>
<path d="M681 388.75L684.25 392L681 395.25L677.75 392Z" fill="#e25734"/>
<path d="M693 390.75L696.25 394L693 397.25L689.75 394Z" fill="#e15635"/>
<path d="M686 389.75L689.25 393L686 396.25L682.75 393Z" fill="#e05536"/>
<path d="M677 398.75L680.25 402L677 405.25L673.75 402Z" fill="#d24644"/>
<path d="M673 377.75L676.25 381L673 384.25L669.75 381Z" fill="#e75e2e"/>
<path d="M674 372.75L677.25 376L674 379.25L670.75 376Z" fill="#ef6e21"/>
<path d="M695 378.75L698.25 382L695 385.25L691.75 382Z" fill="#f68013"/>
<path d="M676 383.75L679.25 387L676 390.25L672.75 387Z" fill="#fa9207"/>
<path d="M681 400.75L684.25 404L681 407.25L677.75 404Z" fill="#ae305c"/>
<path d="M686 398.75L689.25 402L686 405.25L682.75 402Z" fill="#b93556"/>
<path d="M674 389.75L677.25 393L674 396.25L670.75 393Z" fill="#db503b"/>
<path d="M679 374.75L682.25 378L679 381.25L675.75 378Z" fill="#f57b17"/>
<path d="M687 397.75L690.25 401L687 404.25L683.75 401Z" fill="#c63d4d"/>
<path d="M674 402.75L677.25 406L674 409.25L670.75 406Z" fill="#84206b"/>
<path d="M693 399.75L696.25 403L693 406.25L689.75 403Z" fill="#c03a51"/>
<path d="M695 391.75L698.25 395L695 398.25L691.75 395Z" fill="#df5337"/>
<path d="M689 399.75L692.25 403L689 406.25L685.75 403Z" fill="#b3325a"/>
<path d="M692 401.75L695.25 405L692 408.25L688.75 405Z" fill="#ad305d"/>
<path d="M689 392.75L692.25 396L689 399.25L685.75 396Z" fill="#d54a41"/>
<path d="M686 375.75L689.25 379L686 382.25L682.75 379Z" fill="#de5238"/>
<path d="M687 373.75L690.25 377L687 380.25L683.75 377Z" fill="#ed6925"/>
<path d="M677 385.75L680.25 389L677 392.25L673.75 389Z" fill="#e65d2f"/>
<path d="M672 396.75L675.25 400L672 403.25L668.75 400Z" fill="#cc4248"/>
<path d="M674 373.75L677.25 377L674 380.25L670.75 377Z" fill="#f78212"/>
<path d="M682 379.75L685.25 383L682 386.25L678.75 383Z" fill="#eb6628"/>
<path d="M685 372.75L688.25 376L685 379.25L681.75 376Z" fill="#e9612b"/>
<path d="M692 388.75L695.25 392L692 395.25L688.75 392Z" fill="#d54a41"/>
<path d="M680 374.75L683.25 378L680 381.25L676.75 378Z" fill="#ec6726"/>
<path d="M688 394.75L691.25 398L688 401.25L684.75 398Z" fill="#ea632a"/>
<path d="M681 395.75L684.25 399L681 402.25L677.75 399Z" fill="#c33b4f"/>
<path d="M684 374.75L687.25 378L684 381.25L680.75 378Z" fill="#eb6429"/>
<path d="M689 380.75L692.25 384L689 387.25L685.75 384Z" fill="#eb6429"/>
<path d="M687 399.75L690.25 403L687 406.25L683.75 403Z" fill="#a52c60"/>
<path d="M683 371.75L686.25 375L683 378.25L679.75 375Z" fill="#f68013"/>
<path d="M683 394.75L686.25 398L683 401.25L679.75 398Z" fill="#d54a41"/>
<path d="M687 375.75L690.25 379L687 382.25L683.75 379Z" fill="#f8890c"/>
<path d="M691 381.75L694.25 385L691 388.25L687.75 385Z" fill="#d44842"/>
<path d="M683 393.75L686.25 397L683 400.25L679.75 397Z" fill="#ce4347"/>
<path d="M687 400.75L690.25 404L687 407.25L683.75 404Z" fill="#bc3754"/>
<path d="M691 376.75L694.25 380L691 383.25L687.75 380Z" fill="#f68013"/>
<path d="M692 394.75L695.25 398L692 401.25L688.75 398Z" fill="#de5238"/>
<path d="M692 381.75L695.25 385L692 388.25L688.75 385Z" fill="#e8602d"/>
<path d="M695 383.75L698.25 387L695 390.25L691.75 387Z" fill="#e9612b"/>
<path d="M692 392.75L695.25 396L692 399.25L688.75 396Z" fill="#ea632a"/>
<path d="M691 371.75L694.25 375L691 378.25L687.75 375Z" fill="#f67e14"/>
<path d="M679 383.75L682.25 387L679 390.25L675.75 387Z" fill="#ef6e21"/>
<path d="M678 370.75L681.25 374L678 377.25L674.75 374Z" fill="#f78212"/>
<path d="M673 378.75L676.25 382L673 385.25L669.75 382Z" fill="#df5337"/>
<path d="M689 397.75L692.25 401L689 404.25L685.75 401Z" fill="#a22b62"/>
<path d="M676 399.75L679.25 403L676 406.25L672.75 403Z" fill="#c63d4d"/>
<path d="M676 402.75L679.25 406L676 409.25L672.75 406Z" fill="#7a1d6d"/>
<path d="M672 389.75L675.25 393L672 396.25L668.75 393Z" fill="#e35933"/>
<path d="M677 395.75L680.25 399L677 402.25L673.75 399Z" fill="#e25734"/>
<path d="M681 379.75L684.25 383L681 386.25L677.75 383Z" fill="#ec6726"/>
<path d="M683 401.75L686.25 405L683 408.25L679.75 405Z" fill="#7f1e6c"/>
<path d="M686 373.75L689.25 377L686 380.25L682.75 377Z" fill="#ef6c23"/>
<path d="M678 394.75L681.25 398L678 401.25L674.75 398Z" fill="#b73557"/>
<path d="M678 399.75L681.25 403L678 406.25L674.75 403Z" fill="#d44842"/>
<path d="M682 372.75L685.25 376L682 379.25L678.75 376Z" fill="#e75e2e"/>
<path d="M694 375.75L697.25 379L694 382.25L690.75 379Z" fill="#db503b"/>
<path d="M673 395.75L676.25 399L673 402.25L669.75 399Z" fill="#f1711f"/>
<path d="M690 392.75L693.25 396L690 399.25L686.75 396Z" fill="#bf3952"/>
<path d="M676 395.75L679.25 399L676 402.25L672.75 399Z" fill="#e25734"/>
<path d="M673 388.75L676.25 392L673 395.25L669.75 392Z" fill="#e8602d"/>
<path d="M692 381.75L695.25 385L692 388.25L688.75 385Z" fill="#f3761b"/>
<path d="M679 397.75L682.25 401L679 404.25L675.75 401Z" fill="#b63458"/>
<path d="M676 397.75L679.25 401L676 404.25L672.75 401Z" fill="#c13a50"/>
<path d="M687 399.75L690.25 403L687 406.25L683.75 403Z" fill="#cf4446"/>
<path d="M674 395.75L677.25 399L674 402.25L670.75 399Z" fill="#b3325a"/>
<path d="M687 401.75L690.25 405L687 408.25L683.75 405Z" fill="#982766"/>
<path d="M684 373.75L687.25 377L684 380.25L680.75 377Z" fill="#f78410"/>
<path d="M677 373.75L680.25 377L677 380.25L673.75 377Z" fill="#f57d15"/>
<path d="M684 393.75L687.25 397L684 400.25L680.75 397Z" fill="#db503b"/>
<path d="M690 404.75L693.25 408L690 411.25L686.75 408Z" fill="#87216b"/>
<path d="M693 375.75L696.25 379L693 382.25L689.75 379Z" fill="#e75e2e"/>
<path d="M693 384.75L696.25 388L693 391.25L689.75 388Z" fill="#eb6429"/>
<path d="M692 395.75L695.25 399L692 402.25L688.75 399Z" fill="#c13a50"/>
<path d="M688 389.75L691.25 393L688 396.25L684.75 393Z" fill="#c83f4b"/>
<path d="M673 380.75L676.25 384L673 387.25L669.75 384Z" fill="#ec6726"/>
<path d="M686 380.75L689.25 384L686 387.25L682.75 384Z" fill="#e15635"/>
<path d="M694 378.75L697.25 382L694 385.25L690.75 382Z" fill="#ed6925"/>
<path d="M674 394.75L677.25 398L674 401.25L670.75 398Z" fill="#db503b"/>
<path d="M681 398.75L684.25 402L681 405.25L677.75 402Z" fill="#cf4446"/>
<path d="M688 381.75L691.25 385L688 388.25L684.75 385Z" fill="#e75e2e"/>
<path d="M676 380.75L679.25 384L676 387.25L672.75 384Z" fill="#b93556"/>
<path d="M692 401.75L695.25 405L692 408.25L688.75 405Z" fill="#a52c60"/>
<path d="M695 394.75L698.25 398L695 401.25L691.75 398Z" fill="#c43c4e"/>
<path d="M680 400.75L683.25 404L680 407.25L676.75 404Z" fill="#c13a50"/>
<path d="M679 395.75L682.25 399L679 402.25L675.75 399Z" fill="#db503b"/>
<path d="M694 393.75L697.25 397L694 400.25L690.75 397Z" fill="#cb4149"/>
<path d="M676 398.75L679.25 402L676 405.25L672.75 402Z" fill="#b63458"/>
<path d="M690 372.75L693.25 376L690 379.25L686.75 376Z" fill="#ed6925"/>
<path d="M689 394.75L692.25 398L689 401.25L685.75 398Z" fill="#cf4446"/>
<path d="M690 392.75L693.25 396L690 399.25L686.75 396Z" fill="#e8602d"/>
<path d="M687 379.75L690.25 383L687 386.25L683.75 383Z" fill="#e35933"/>
<path d="M681 382.75L684.25 386L681 389.25L677.75 386Z" fill="#cf4446"/>
<path d="M688 371.75L691.25 375L688 378.25L684.75 375Z" fill="#f67e14"/>
<path d="M673 395.75L676.25 399L673 402.25L669.75 399Z" fill="#d94d3d"/>
<path d="M686 390.75L689.25 394L686 397.25L682.75 394Z" fill="#e65d2f"/>
<path d="M689 401.75L692.25 405L689 408.25L685.75 405Z" fill="#8c2369"/>
<path d="M675 389.75L678.25 393L675 396.25L671.75 393Z" fill="#cf4446"/>
<path d="M681 369.75L684.25 373L681 376.25L677.75 373Z" fill="#f78410"/>
<path d="M678 389.75L681.25 393L678 396.25L674.75 393Z" fill="#de5238"/>
<path d="M688 385.75L691.25 389L688 392.25L684.75 389Z" fill="#e65d2f"/>
<path d="M680 375.75L683.25 379L680 382.25L676.75 379Z" fill="#eb6628"/>
<path d="M681 385.75L684.25 389L681 392.25L677.75 389Z" fill="#eb6429"/>
<path d="M689 402.75L692.25 406L689 409.25L685.75 406Z" fill="#a22b62"/>
<path d="M676 386.75L679.25 390L676 393.25L672.75 390Z" fill="#d94d3d"/>
<path d="M675 401.75L678.25 405L675 408.25L671.75 405Z" fill="#88226a"/>
<path d="M682 381.75L685.25 385L682 388.25L678.75 385Z" fill="#d94d3d"/>
<path d="M695 387.75L698.25 391L695 394.25L691.75 391Z" fill="#e8602d"/>
<path d="M693 397.75L696.25 401L693 404.25L689.75 401Z" fill="#d94d3d"/>
<path d="M672 396.75L675.25 400L672 403.25L668.75 400Z" fill="#c43c4e"/>
<path d="M683 393.75L686.25 397L683 400.25L679.75 397Z" fill="#d34743"/>
<path d="M685 403.75L688.25 407L685 410.25L681.75 407Z" fill="#7d1e6d"/>
<path d="M694 397.75L697.25 401L694 404.25L690.75 401Z" fill="#d54a41"/>
<path d="M682 391.75L685.25 395L682 398.25L678.75 395Z" fill="#ce4347"/>
<path d="M677 371.75L680.25 375L677 378.25L673.75 375Z" fill="#f57b17"/>
<path d="M688 399.75L691.25 403L688 406.25L684.75 403Z" fill="#b63458"/>
<path d="M692 382.75L695.25 386L692 389.25L688.75 386Z" fill="#eb6628"/>
<path d="M689 397.75L692.25 401L689 404.25L685.75 401Z" fill="#ec6726"/>
<path d="M685 399.75L688.25 403L685 406.25L681.75 403Z" fill="#c13a50"/>
<path d="M681 375.75L684.25 379L681 382.25L677.75 379Z" fill="#fa9407"/>
<path d="M690 393.75L693.25 397L690 400.25L686.75 397Z" fill="#e25734"/>
<path d="M679 392.75L682.25 396L679 399.25L675.75 396Z" fill="#eb6429"/>
<path d="M682 385.75L685.25 389L682 392.25L678.75 389Z" fill="#de5238"/>
<path d="M676 381.75L679.25 385L676 388.25L672.75 385Z" fill="#eb6429"/>
<path d="M690 402.75L693.25 406L690 409.25L686.75 406Z" fill="#7f1e6c"/>
<path d="M694 387.75L697.25 391L694 394.25L690.75 391Z" fill="#e65d2f"/>
<path d="M687 410.75L690.25 414L687 417.25L683.75 414Z" fill="#6d186e"/>
<path d="M687 420.75L690.25 424L687 427.25L683.75 424Z" fill="#82206c"/>
<path d="M681 409.75L684.25 413L681 416.25L677.75 413Z" fill="#7a1d6d"/>
<path d="M680 406.75L683.25 410L680 413.25L676.75 410Z" fill="#c13a50"/>
<path d="M685 402.75L688.25 406L685 409.25L681.75 406Z" fill="#71196e"/>
<path d="M686 401.75L689.25 405L686 408.25L682.75 405Z" fill="#7f1e6c"/>
<path d="M689 420.75L692.25 424L689 427.25L685.75 424Z" fill="#902568"/>
<path d="M683 401.75L686.25 405L683 408.25L679.75 405Z" fill="#9d2964"/>
<path d="M692 410.75L695.25 414L692 417.25L688.75 414Z" fill="#7a1d6d"/>
<path d="M677 405.75L680.25 409L677 412.25L673.75 409Z" fill="#972766"/>
<path d="M683 423.75L686.25 427L683 430.25L679.75 427Z" fill="#b73557"/>
<path d="M677 421.75L680.25 425L677 428.25L673.75 425Z" fill="#82206c"/>
<path d="M682 408.75L685.25 412L682 415.25L678.75 412Z" fill="#751b6e"/>
<path d="M686 416.75L689.25 420L686 423.25L682.75 420Z" fill="#84206b"/>
<path d="M680 423.75L683.25 427L680 430.25L676.75 427Z" fill="#751b6e"/>
<path d="M694 406.75L697.25 410L694 413.25L690.75 410Z" fill="#781c6d"/>
<path d="M689 419.75L692.25 423L689 426.25L685.75 423Z" fill="#c33b4f"/>
<path d="M692 409.75L695.25 413L692 416.25L688.75 413Z" fill="#7d1e6d"/>
<path d="M678 419.75L681.25 423L678 426.25L674.75 423Z" fill="#741a6e"/>
<path d="M685 423.75L688.25 427L685 430.25L681.75 427Z" fill="#67166e"/>
<path d="M689 413.75L692.25 417L689 420.25L685.75 417Z" fill="#8c2369"/>
<path d="M676 402.75L679.25 406L676 409.25L672.75 406Z" fill="#6f196e"/>
<path d="M674 406.75L677.25 410L674 413.25L670.75 410Z" fill="#922568"/>
<path d="M693 416.75L696.25 420L693 423.25L689.75 420Z" fill="#6a176e"/>
<path d="M673 419.75L676.25 423L673 426.25L669.75 423Z" fill="#69166e"/>
<path d="M688 423.75L691.25 427L688 430.25L684.75 427Z" fill="#7d1e6d"/>
<path d="M679 419.75L682.25 423L679 426.25L675.75 423Z" fill="#ae305c"/>
<path d="M672 410.75L675.25 414L672 417.25L668.75 414Z" fill="#84206b"/>
<path d="M681 408.75L684.25 412L681 415.25L677.75 412Z" fill="#7f1e6c"/>
<path d="M678 413.75L681.25 417L678 420.25L674.75 417Z" fill="#801f6c"/>
<path d="M689 403.75L692.25 407L689 410.25L685.75 407Z" fill="#7d1e6d"/>
<path d="M679 412.75L682.25 416L679 419.25L675.75 416Z" fill="#902568"/>
<path d="M675 418.75L678.25 422L675 425.25L671.75 422Z" fill="#7f1e6c"/>
<path d="M695 415.75L698.25 419L695 422.25L691.75 419Z" fill="#7a1d6d"/>
<path d="M682 413.75L685.25 417L682 420.25L678.75 417Z" fill="#6d186e"/>
<path d="M682 407.75L685.25 411L682 414.25L678.75 411Z" fill="#85216b"/>
<path d="M673 412.75L676.25 416L673 419.25L669.75 416Z" fill="#6f196e"/>
<path d="M678 421.75L681.25 425L678 428.25L674.75 425Z" fill="#741a6e"/>
<path d="M677 411.75L680.25 415L677 418.25L673.75 415Z" fill="#7f1e6c"/>
<path d="M683 402.75L686.25 406L683 409.25L679.75 406Z" fill="#7f1e6c"/>
<path d="M682 416.75L685.25 420L682 423.25L678.75 420Z" fill="#902568"/>
<path d="M682 421.75L685.25 425L682 428.25L678.75 425Z" fill="#b0315b"/>
<path d="M689 412.75L692.25 416L689 419.25L685.75 416Z" fill="#932667"/>
<path d="M683 418.75L686.25 422L683 425.25L679.75 422Z" fill="#c03a51"/>
<path d="M694 415.75L697.25 419L694 422.25L690.75 419Z" fill="#71196e"/>
<path d="M688 421.75L691.25 425L688 428.25L684.75 425Z" fill="#6a176e"/>
<path d="M682 413.75L685.25 417L682 420.25L678.75 417Z" fill="#84206b"/>
<path d="M675 406.75L678.25 410L675 413.25L671.75 410Z" fill="#7f1e6c"/>
<path d="M688 420.75L691.25 424L688 427.25L684.75 424Z" fill="#c03a51"/>
<path d="M686 401.75L689.25 405L686 408.25L682.75 405Z" fill="#902568"/>
<path d="M694 408.75L697.25 412L694 415.25L690.75 412Z" fill="#932667"/>
<path d="M688 405.75L691.25 409L688 412.25L684.75 409Z" fill="#902568"/>
<path d="M681 422.75L684.25 426L681 429.25L677.75 426Z" fill="#7d1e6d"/>
<path d="M678 415.75L681.25 419L678 422.25L674.75 419Z" fill="#85216b"/>
<path d="M680 414.75L683.25 418L680 421.25L676.75 418Z" fill="#751b6e"/>
<path d="M682 425.75L685.25 429L682 432.25L678.75 429Z" fill="#a92e5e"/>
<path d="M681 423.75L684.25 427L681 430.25L677.75 427Z" fill="#751b6e"/>
<path d="M686 404.75L689.25 408L686 411.25L682.75 408Z" fill="#87216b"/>
<path d="M678 403.75L681.25 407L678 410.25L674.75 407Z" fill="#952667"/>
<path d="M689 405.75L692.25 409L689 412.25L685.75 409Z" fill="#57106e"/>
<path d="M687 418.75L690.25 422L687 425.25L683.75 422Z" fill="#721a6e"/>
<path d="M681 419.75L684.25 423L681 426.25L677.75 423Z" fill="#6d186e"/>
<path d="M683 418.75L686.25 422L683 425.25L679.75 422Z" fill="#751b6e"/>
<path d="M681 421.75L684.25 425L681 428.25L677.75 425Z" fill="#771c6d"/>
<path d="M684 402.75L687.25 406L684 409.25L680.75 406Z" fill="#85216b"/>
<path d="M672 414.75L675.25 418L672 421.25L668.75 418Z" fill="#85216b"/>
<path d="M674 411.75L677.25 415L674 418.25L670.75 415Z" fill="#65156e"/>
<path d="M680 409.75L683.25 413L680 416.25L676.75 413Z" fill="#8d2369"/>
<path d="M680 400.75L683.25 404L680 407.25L676.75 404Z" fill="#ca404a"/>
<path d="M672 407.75L675.25 411L672 414.25L668.75 411Z" fill="#6a176e"/>
<path d="M689 401.75L692.25 405L689 408.25L685.75 405Z" fill="#87216b"/>
<path d="M674 412.75L677.25 416L674 419.25L670.75 416Z" fill="#59106e"/>
<path d="M691 419.75L694.25 423L691 426.25L687.75 423Z" fill="#6a176e"/>
<path d="M684 399.75L687.25 403L684 406.25L680.75 403Z" fill="#bc3754"/>
<path d="M682 407.75L685.25 411L682 414.25L678.75 411Z" fill="#88226a"/>
<path d="M690 424.75L693.25 428L690 431.25L686.75 428Z" fill="#771c6d"/>
<path d="M675 411.75L678.25 415L675 418.25L671.75 415Z" fill="#62146e"/>
<path d="M688 406.75L691.25 410L688 413.25L684.75 410Z" fill="#84206b"/>
<path d="M673 407.75L676.25 411L673 414.25L669.75 411Z" fill="#b43359"/>
<path d="M690 408.75L693.25 412L690 415.25L686.75 412Z" fill="#c63d4d"/>
<path d="M693 418.75L696.25 422L693 425.25L689.75 422Z" fill="#6d186e"/>
<path d="M678 413.75L681.25 417L678 420.25L674.75 417Z" fill="#741a6e"/>
<path d="M685 402.75L688.25 406L685 409.25L681.75 406Z" fill="#ca404a"/>
<path d="M678 403.75L681.25 407L678 410.25L674.75 407Z" fill="#8d2369"/>
<path d="M674 405.75L677.25 409L674 412.25L670.75 409Z" fill="#6c186e"/>
<path d="M695 410.75L698.25 414L695 417.25L691.75 414Z" fill="#751b6e"/>
<path d="M688 409.75L691.25 413L688 416.25L684.75 413Z" fill="#7d1e6d"/>
<path d="M692 408.75L695.25 412L692 415.25L688.75 412Z" fill="#87216b"/>
<path d="M679 412.75L682.25 416L679 419.25L675.75 416Z" fill="#7c1d6d"/>
<path d="M675 415.75L678.25 419L675 422.25L671.75 419Z" fill="#781c6d"/>
<path d="M676 356.75L679.25 360L676 363.25L672.75 360Z" fill="#fcb216"/>
<path d="M687 364.75L690.25 368L687 371.25L683.75 368Z" fill="#fca60c"/>
<path d="M695 361.75L698.25 365L695 368.25L691.75 365Z" fill="#fcac11"/>
<path d="M695 367.75L698.25 371L695 374.25L691.75 371Z" fill="#fcac11"/>
<path d="M680 367.75L683.25 371L680 374.25L676.75 371Z" fill="#fb9b06"/>
<path d="M673 370.75L676.25 374L673 377.25L669.75 374Z" fill="#fa9008"/>
<path d="M683 372.75L686.25 376L683 379.25L679.75 376Z" fill="#fb9b06"/>
<path d="M690 371.75L693.25 375L690 378.25L686.75 375Z" fill="#fa9008"/>
<path d="M671 422.75L674.25 426L671 429.25L667.75 426Z" fill="#71196e"/>
<path d="M685 432.75L688.25 436L685 439.25L681.75 436Z" fill="#67166e"/>
<path d="M692 428.75L695.25 432L692 435.25L688.75 432Z" fill="#71196e"/>
<path d="M754 367.75L757.25 371L754 374.25L750.75 371Z" fill="#e35933"/>
<path d="M746 360.75L749.25 364L746 367.25L742.75 364Z" fill="#f1731d"/>
<path d="M748 387.75L751.25 391L748 394.25L744.75 391Z" fill="#cf4446"/>
<path d="M748 349.75L751.25 353L748 356.25L744.75 353Z" fill="#6d186e"/>
<path d="M745 352.75L748.25 356L745 359.25L741.75 356Z" fill="#8a226a"/>
<path d="M743 348.75L746.25 352L743 355.25L739.75 352Z" fill="#741a6e"/>
<path d="M755 379.75L758.25 383L755 386.25L751.75 383Z" fill="#dd513a"/>
<path d="M757 354.75L760.25 358L757 361.25L753.75 358Z" fill="#bf3952"/>
<path d="M758 359.75L761.25 363L758 366.25L754.75 363Z" fill="#c13a50"/>
<path d="M749 347.75L752.25 351L749 354.25L745.75 351Z" fill="#6f196e"/>
<path d="M750 390.75L753.25 394L750 397.25L746.75 394Z" fill="#972766"/>
<path d="M757 356.75L760.25 360L757 363.25L753.75 360Z" fill="#db503b"/>
<path d="M747 334.75L750.25 338L747 341.25L743.75 338Z" fill="#69166e"/>
<path d="M751 351.75L754.25 355L751 358.25L747.75 355Z" fill="#932667"/>
<path d="M738 366.75L741.25 370L738 373.25L734.75 370Z" fill="#c13a50"/>
<path d="M753 363.75L756.25 367L753 370.25L749.75 367Z" fill="#eb6429"/>
<path d="M735 379.75L738.25 383L735 386.25L731.75 383Z" fill="#cb4149"/>
<path d="M756 368.75L759.25 372L756 375.25L752.75 372Z" fill="#ef6e21"/>
<path d="M754 341.75L757.25 345L754 348.25L750.75 345Z" fill="#9a2865"/>
<path d="M744 379.75L747.25 383L744 386.25L740.75 383Z" fill="#d34743"/>
<path d="M750 367.75L753.25 371L750 374.25L746.75 371Z" fill="#e65d2f"/>
<path d="M752 389.75L755.25 393L752 396.25L748.75 393Z" fill="#c33b4f"/>
<path d="M757 379.75L760.25 383L757 386.25L753.75 383Z" fill="#d94d3d"/>
<path d="M752 372.75L755.25 376L752 379.25L748.75 376Z" fill="#d44842"/>
<path d="M756 376.75L759.25 380L756 383.25L752.75 380Z" fill="#d74b3f"/>
<path d="M734 348.75L737.25 352L734 355.25L730.75 352Z" fill="#902568"/>
<path d="M749 393.75L752.25 397L749 400.25L745.75 397Z" fill="#d04545"/>
<path d="M749 360.75L752.25 364L749 367.25L745.75 364Z" fill="#f3761b"/>
<path d="M744 340.75L747.25 344L744 347.25L740.75 344Z" fill="#85216b"/>
<path d="M753 336.75L756.25 340L753 343.25L749.75 340Z" fill="#932667"/>
<path d="M736 382.75L739.25 386L736 389.25L732.75 386Z" fill="#d84c3e"/>
<path d="M735 355.75L738.25 359L735 362.25L731.75 359Z" fill="#de5238"/>
<path d="M747 372.75L750.25 376L747 379.25L743.75 376Z" fill="#e05536"/>
<path d="M744 352.75L747.25 356L744 359.25L740.75 356Z" fill="#7d1e6d"/>
<path d="M753 349.75L756.25 353L753 356.25L749.75 353Z" fill="#8c2369"/>
<path d="M737 383.75L740.25 387L737 390.25L733.75 387Z" fill="#d84c3e"/>
<path d="M745 393.75L748.25 397L745 400.25L741.75 397Z" fill="#b1325a"/>
<path d="M738 358.75L741.25 362L738 365.25L734.75 362Z" fill="#f57b17"/>
<path d="M745 343.75L748.25 347L745 350.25L741.75 347Z" fill="#85216b"/>
<path d="M753 349.75L756.25 353L753 356.25L749.75 353Z" fill="#801f6c"/>
<path d="M751 358.75L754.25 362L751 365.25L747.75 362Z" fill="#f3761b"/>
<path d="M756 344.75L759.25 348L756 351.25L752.75 348Z" fill="#69166e"/>
<path d="M757 355.75L760.25 359L757 362.25L753.75 359Z" fill="#c13a50"/>
<path d="M740 385.75L743.25 389L740 392.25L736.75 389Z" fill="#ae305c"/>
<path d="M752 383.75L755.25 387L752 390.25L748.75 387Z" fill="#c43c4e"/>
<path d="M755 337.75L758.25 341L755 344.25L751.75 341Z" fill="#7d1e6d"/>
<path d="M745 362.75L748.25 366L745 369.25L741.75 366Z" fill="#f67e14"/>
<path d="M750 392.75L753.25 396L750 399.25L746.75 396Z" fill="#952667"/>
<path d="M752 367.75L755.25 371L752 374.25L748.75 371Z" fill="#db503b"/>
<path d="M751 370.75L754.25 374L751 377.25L747.75 374Z" fill="#e75e2e"/>
<path d="M754 379.75L757.25 383L754 386.25L750.75 383Z" fill="#eb6429"/>
<path d="M745 376.75L748.25 380L745 383.25L741.75 380Z" fill="#e45a31"/>
<path d="M734 358.75L737.25 362L734 365.25L730.75 362Z" fill="#eb6429"/>
<path d="M737 337.75L740.25 341L737 344.25L733.75 341Z" fill="#7f1e6c"/>
<path d="M745 360.75L748.25 364L745 367.25L741.75 364Z" fill="#f06f20"/>
<path d="M748 379.75L751.25 383L748 386.25L744.75 383Z" fill="#c33b4f"/>
<path d="M740 365.75L743.25 369L740 372.25L736.75 369Z" fill="#d94d3d"/>
<path d="M736 345.75L739.25 349L736 352.25L732.75 349Z" fill="#8d2369"/>
<path d="M739 347.75L742.25 351L739 354.25L735.75 351Z" fill="#84206b"/>
<path d="M751 380.75L754.25 384L751 387.25L747.75 384Z" fill="#a92e5e"/>
<path d="M754 349.75L757.25 353L754 356.25L750.75 353Z" fill="#4d0d6c"/>
<path d="M750 360.75L753.25 364L750 367.25L746.75 364Z" fill="#e9612b"/>
<path d="M738 389.75L741.25 393L738 396.25L734.75 393Z" fill="#b0315b"/>
<path d="M746 392.75L749.25 396L746 399.25L742.75 396Z" fill="#c03a51"/>
<path d="M735 382.75L738.25 386L735 389.25L731.75 386Z" fill="#d54a41"/>
<path d="M746 354.75L749.25 358L746 361.25L742.75 358Z" fill="#b1325a"/>
<path d="M749 351.75L752.25 355L749 358.25L745.75 355Z" fill="#6f196e"/>
<path d="M737 374.75L740.25 378L737 381.25L733.75 378Z" fill="#c13a50"/>
<path d="M753 335.75L756.25 339L753 342.25L749.75 339Z" fill="#801f6c"/>
<path d="M739 346.75L742.25 350L739 353.25L735.75 350Z" fill="#781c6d"/>
<path d="M735 350.75L738.25 354L735 357.25L731.75 354Z" fill="#82206c"/>
<path d="M749 356.75L752.25 360L749 363.25L745.75 360Z" fill="#e25734"/>
<path d="M745 354.75L748.25 358L745 361.25L741.75 358Z" fill="#a22b62"/>
<path d="M754 376.75L757.25 380L754 383.25L750.75 380Z" fill="#db503b"/>
<path d="M751 393.75L754.25 397L751 400.25L747.75 397Z" fill="#db503b"/>
<path d="M750 335.75L753.25 339L750 342.25L746.75 339Z" fill="#7f1e6c"/>
<path d="M755 339.75L758.25 343L755 346.25L751.75 343Z" fill="#721a6e"/>
<path d="M748 343.75L751.25 347L748 350.25L744.75 347Z" fill="#5a116e"/>
<path d="M738 381.75L741.25 385L738 388.25L734.75 385Z" fill="#c63d4d"/>
<path d="M739 364.75L742.25 368L739 371.25L735.75 368Z" fill="#e35933"/>
<path d="M740 393.75L743.25 397L740 400.25L736.75 397Z" fill="#b3325a"/>
<path d="M752 339.75L755.25 343L752 346.25L748.75 343Z" fill="#65156e"/>
<path d="M743 341.75L746.25 345L743 348.25L739.75 345Z" fill="#741a6e"/>
<path d="M752 387.75L755.25 391L752 394.25L748.75 391Z" fill="#ce4347"/>
<path d="M747 377.75L750.25 381L747 384.25L743.75 381Z" fill="#c73e4c"/>
<path d="M753 360.75L756.25 364L753 367.25L749.75 364Z" fill="#eb6628"/>
<path d="M737 366.75L740.25 370L737 373.25L733.75 370Z" fill="#d94d3d"/>
<path d="M756 390.75L759.25 394L756 397.25L752.75 394Z" fill="#d04545"/>
<path d="M752 357.75L755.25 361L752 364.25L748.75 361Z" fill="#f57d15"/>
<path d="M755 359.75L758.25 363L755 366.25L751.75 363Z" fill="#ec6726"/>
<path d="M752 358.75L755.25 362L752 365.25L748.75 362Z" fill="#fb9606"/>
<path d="M736 349.75L739.25 353L736 356.25L732.75 353Z" fill="#82206c"/>
<path d="M740 361.75L743.25 365L740 368.25L736.75 365Z" fill="#e55c30"/>
<path d="M742 393.75L745.25 397L742 400.25L738.75 397Z" fill="#d54a41"/>
<path d="M745 378.75L748.25 382L745 385.25L741.75 382Z" fill="#e15635"/>
<path d="M743 347.75L746.25 351L743 354.25L739.75 351Z" fill="#4d0d6c"/>
<path d="M743 365.75L746.25 369L743 372.25L739.75 369Z" fill="#d24644"/>
<path d="M737 369.75L740.25 373L737 376.25L733.75 373Z" fill="#ea632a"/>
<path d="M747 351.75L750.25 355L747 358.25L743.75 355Z" fill="#7d1e6d"/>
<path d="M735 366.75L738.25 370L735 373.25L731.75 370Z" fill="#f67e14"/>
<path d="M739 347.75L742.25 351L739 354.25L735.75 351Z" fill="#4d0d6c"/>
<path d="M754 393.75L757.25 397L754 400.25L750.75 397Z" fill="#e35933"/>
<path d="M739 347.75L742.25 351L739 354.25L735.75 351Z" fill="#82206c"/>
<path d="M755 384.75L758.25 388L755 391.25L751.75 388Z" fill="#cc4248"/>
<path d="M749 393.75L752.25 397L749 400.25L745.75 397Z" fill="#b73557"/>
<path d="M745 390.75L748.25 394L745 397.25L741.75 394Z" fill="#d94d3d"/>
<path d="M745 340.75L748.25 344L745 347.25L741.75 344Z" fill="#741a6e"/>
<path d="M741 362.75L744.25 366L741 369.25L737.75 366Z" fill="#f68013"/>
<path d="M751 385.75L754.25 389L751 392.25L747.75 389Z" fill="#d04545"/>
<path d="M738 384.75L741.25 388L738 391.25L734.75 388Z" fill="#ca404a"/>
<path d="M737 354.75L740.25 358L737 361.25L733.75 358Z" fill="#c13a50"/>
<path d="M754 374.75L757.25 378L754 381.25L750.75 378Z" fill="#d34743"/>
<path d="M741 337.75L744.25 341L741 344.25L737.75 341Z" fill="#62146e"/>
<path d="M740 347.75L743.25 351L740 354.25L736.75 351Z" fill="#8d2369"/>
<path d="M737 344.75L740.25 348L737 351.25L733.75 348Z" fill="#4d0d6c"/>
<path d="M737 374.75L740.25 378L737 381.25L733.75 378Z" fill="#f2741c"/>
<path d="M742 366.75L745.25 370L742 373.25L738.75 370Z" fill="#f78410"/>
<path d="M751 343.75L754.25 347L751 350.25L747.75 347Z" fill="#741a6e"/>
<path d="M750 381.75L753.25 385L750 388.25L746.75 385Z" fill="#d34743"/>
<path d="M745 382.75L748.25 386L745 389.25L741.75 386Z" fill="#db503b"/>
<path d="M747 357.75L750.25 361L747 364.25L743.75 361Z" fill="#de5238"/>
<path d="M752 386.75L755.25 390L752 393.25L748.75 390Z" fill="#b0315b"/>
<path d="M750 335.75L753.25 339L750 342.25L746.75 339Z" fill="#6a176e"/>
<path d="M746 341.75L749.25 345L746 348.25L742.75 345Z" fill="#8f2469"/>
<path d="M748 370.75L751.25 374L748 377.25L744.75 374Z" fill="#de5238"/>
<path d="M745 375.75L748.25 379L745 382.25L741.75 379Z" fill="#e25734"/>
<path d="M743 341.75L746.25 345L743 348.25L739.75 345Z" fill="#67166e"/>
<path d="M747 359.75L750.25 363L747 366.25L743.75 363Z" fill="#ef6e21"/>
<path d="M747 340.75L750.25 344L747 347.25L743.75 344Z" fill="#8a226a"/>
<path d="M740 354.75L743.25 358L740 361.25L736.75 358Z" fill="#b43359"/>
<path d="M737 371.75L740.25 375L737 378.25L733.75 375Z" fill="#dd513a"/>
<path d="M737 362.75L740.25 366L737 369.25L733.75 366Z" fill="#e25734"/>
<path d="M742 394.75L745.25 398L742 401.25L738.75 398Z" fill="#d54a41"/>
<path d="M755 368.75L758.25 372L755 375.25L751.75 372Z" fill="#cb4149"/>
<path d="M737 346.75L740.25 350L737 353.25L733.75 350Z" fill="#88226a"/>
<path d="M736 361.75L739.25 365L736 368.25L732.75 365Z" fill="#ec6726"/>
<path d="M751 335.75L754.25 339L751 342.25L747.75 339Z" fill="#741a6e"/>
<path d="M755 358.75L758.25 362L755 365.25L751.75 362Z" fill="#ea632a"/>
<path d="M745 338.75L748.25 342L745 345.25L741.75 342Z" fill="#8d2369"/>
<path d="M739 383.75L742.25 387L739 390.25L735.75 387Z" fill="#d24644"/>
<path d="M755 360.75L758.25 364L755 367.25L751.75 364Z" fill="#f98c0a"/>
<path d="M750 352.75L753.25 356L750 359.25L746.75 356Z" fill="#751b6e"/>
<path d="M749 339.75L752.25 343L749 346.25L745.75 343Z" fill="#721a6e"/>
<path d="M750 381.75L753.25 385L750 388.25L746.75 385Z" fill="#c33b4f"/>
<path d="M744 375.75L747.25 379L744 382.25L740.75 379Z" fill="#b93556"/>
<path d="M742 342.75L745.25 346L742 349.25L738.75 346Z" fill="#721a6e"/>
<path d="M736 360.75L739.25 364L736 367.25L732.75 364Z" fill="#e9612b"/>
<path d="M750 394.75L753.25 398L750 401.25L746.75 398Z" fill="#bf3952"/>
<path d="M756 388.75L759.25 392L756 395.25L752.75 392Z" fill="#eb6429"/>
<path d="M737 391.75L740.25 395L737 398.25L733.75 395Z" fill="#ba3655"/>
<path d="M745 357.75L748.25 361L745 364.25L741.75 361Z" fill="#e15635"/>
<path d="M734 357.75L737.25 361L734 364.25L730.75 361Z" fill="#db503b"/>
<path d="M754 386.75L757.25 390L754 393.25L750.75 390Z" fill="#cf4446"/>
<path d="M749 344.75L752.25 348L749 351.25L745.75 348Z" fill="#5c126e"/>
<path d="M744 389.75L747.25 393L744 396.25L740.75 393Z" fill="#da4e3c"/>
<path d="M736 354.75L739.25 358L736 361.25L732.75 358Z" fill="#bd3853"/>
<path d="M744 375.75L747.25 379L744 382.25L740.75 379Z" fill="#eb6628"/>
<path d="M745 335.75L748.25 339L745 342.25L741.75 339Z" fill="#4d0d6c"/>
<path d="M755 379.75L758.25 383L755 386.25L751.75 383Z" fill="#e25734"/>
<path d="M736 341.75L739.25 345L736 348.25L732.75 345Z" fill="#902568"/>
<path d="M745 338.75L748.25 342L745 345.25L741.75 342Z" fill="#65156e"/>
<path d="M736 358.75L739.25 362L736 365.25L732.75 362Z" fill="#d04545"/>
<path d="M755 386.75L758.25 390L755 393.25L751.75 390Z" fill="#de5238"/>
<path d="M740 344.75L743.25 348L740 351.25L736.75 348Z" fill="#6c186e"/>
<path d="M739 367.75L742.25 371L739 374.25L735.75 371Z" fill="#ec6726"/>
<path d="M750 384.75L753.25 388L750 391.25L746.75 388Z" fill="#ab2f5e"/>
<path d="M740 392.75L743.25 396L740 399.25L736.75 396Z" fill="#902568"/>
<path d="M754 339.75L757.25 343L754 346.25L750.75 343Z" fill="#7a1d6d"/>
<path d="M741 349.75L744.25 353L741 356.25L737.75 353Z" fill="#932667"/>
<path d="M756 350.75L759.25 354L756 357.25L752.75 354Z" fill="#721a6e"/>
<path d="M750 376.75L753.25 380L750 383.25L746.75 380Z" fill="#de5238"/>
<path d="M758 377.75L761.25 381L758 384.25L754.75 381Z" fill="#c83f4b"/>
<path d="M751 375.75L754.25 379L751 382.25L747.75 379Z" fill="#e45a31"/>
<path d="M746 358.75L749.25 362L746 365.25L742.75 362Z" fill="#ec6726"/>
<path d="M737 387.75L740.25 391L737 394.25L733.75 391Z" fill="#ad305d"/>
<path d="M741 377.75L744.25 381L741 384.25L737.75 381Z" fill="#e65d2f"/>
<path d="M751 370.75L754.25 374L751 377.25L747.75 374Z" fill="#f06f20"/>
<path d="M756 388.75L759.25 392L756 395.25L752.75 392Z" fill="#d44842"/>
<path d="M749 361.75L752.25 365L749 368.25L745.75 365Z" fill="#e45a31"/>
<path d="M748 342.75L751.25 346L748 349.25L744.75 346Z" fill="#7a1d6d"/>
<path d="M754 351.75L757.25 355L754 358.25L750.75 355Z" fill="#7a1d6d"/>
<path d="M742 348.75L745.25 352L742 355.25L738.75 352Z" fill="#5f136e"/>
<path d="M750 342.75L753.25 346L750 349.25L746.75 346Z" fill="#801f6c"/>
<path d="M745 395.75L748.25 399L745 402.25L741.75 399Z" fill="#c63d4d"/>
<path d="M755 356.75L758.25 360L755 363.25L751.75 360Z" fill="#d54a41"/>
<path d="M750 338.75L753.25 342L750 345.25L746.75 342Z" fill="#87216b"/>
<path d="M747 360.75L750.25 364L747 367.25L743.75 364Z" fill="#e15635"/>
<path d="M747 335.75L750.25 339L747 342.25L743.75 339Z" fill="#88226a"/>
<path d="M753 384.75L756.25 388L753 391.25L749.75 388Z" fill="#922568"/>
<path d="M756 359.75L759.25 363L756 366.25L752.75 363Z" fill="#f2741c"/>
<path d="M745 368.75L748.25 372L745 375.25L741.75 372Z" fill="#d34743"/>
<path d="M737 388.75L740.25 392L737 395.25L733.75 392Z" fill="#d54a41"/>
<path d="M741 381.75L744.25 385L741 388.25L737.75 385Z" fill="#dd513a"/>
<path d="M744 340.75L747.25 344L744 347.25L740.75 344Z" fill="#6d186e"/>
<path d="M752 345.75L755.25 349L752 352.25L748.75 349Z" fill="#5d126e"/>
<path d="M736 375.75L739.25 379L736 382.25L732.75 379Z" fill="#d34743"/>
<path d="M756 360.75L759.25 364L756 367.25L752.75 364Z" fill="#d34743"/>
<path d="M750 335.75L753.25 339L750 342.25L746.75 339Z" fill="#57106e"/>
<path d="M735 374.75L738.25 378L735 381.25L731.75 378Z" fill="#d84c3e"/>
<path d="M752 334.75L755.25 338L752 341.25L748.75 338Z" fill="#6f196e"/>
<path d="M749 343.75L752.25 347L749 350.25L745.75 347Z" fill="#4d0d6c"/>
<path d="M752 362.75L755.25 366L752 369.25L748.75 366Z" fill="#f06f20"/>
<path d="M758 373.75L761.25 377L758 380.25L754.75 377Z" fill="#ee6a24"/>
<path d="M751 375.75L754.25 379L751 382.25L747.75 379Z" fill="#e55c30"/>
<path d="M734 375.75L737.25 379L734 382.25L730.75 379Z" fill="#ea632a"/>
<path d="M755 366.75L758.25 370L755 373.25L751.75 370Z" fill="#f2741c"/>
<path d="M754 338.75L757.25 342L754 345.25L750.75 342Z" fill="#6f196e"/>
<path d="M738 340.75L741.25 344L738 347.25L734.75 344Z" fill="#721a6e"/>
<path d="M736 385.75L739.25 389L736 392.25L732.75 389Z" fill="#c13a50"/>
<path d="M752 384.75L755.25 388L752 391.25L748.75 388Z" fill="#bf3952"/>
<path d="M736 380.75L739.25 384L736 387.25L732.75 384Z" fill="#a32c61"/>
<path d="M749 374.75L752.25 378L749 381.25L745.75 378Z" fill="#b73557"/>
<path d="M741 354.75L744.25 358L741 361.25L737.75 358Z" fill="#c63d4d"/>
<path d="M740 364.75L743.25 368L740 371.25L736.75 368Z" fill="#d94d3d"/>
<path d="M753 379.75L756.25 383L753 386.25L749.75 383Z" fill="#cb4149"/>
<path d="M737 344.75L740.25 348L737 351.25L733.75 348Z" fill="#71196e"/>
<path d="M758 370.75L761.25 374L758 377.25L754.75 374Z" fill="#e35933"/>
<path d="M742 348.75L745.25 352L742 355.25L738.75 352Z" fill="#a82e5f"/>
<path d="M745 348.75L748.25 352L745 355.25L741.75 352Z" fill="#64156e"/>
<path d="M754 390.75L757.25 394L754 397.25L750.75 394Z" fill="#d74b3f"/>
<path d="M736 351.75L739.25 355L736 358.25L732.75 355Z" fill="#71196e"/>
<path d="M753 386.75L756.25 390L753 393.25L749.75 390Z" fill="#c63d4d"/>
<path d="M735 380.75L738.25 384L735 387.25L731.75 384Z" fill="#cf4446"/>
<path d="M749 391.75L752.25 395L749 398.25L745.75 395Z" fill="#932667"/>
<path d="M757 376.75L760.25 380L757 383.25L753.75 380Z" fill="#df5337"/>
<path d="M753 372.75L756.25 376L753 379.25L749.75 376Z" fill="#e8602d"/>
<path d="M748 337.75L751.25 341L748 344.25L744.75 341Z" fill="#87216b"/>
<path d="M754 347.75L757.25 351L754 354.25L750.75 351Z" fill="#8d2369"/>
<path d="M736 338.75L739.25 342L736 345.25L732.75 342Z" fill="#7d1e6d"/>
<path d="M750 337.75L753.25 341L750 344.25L746.75 341Z" fill="#781c6d"/>
<path d="M740 382.75L743.25 386L740 389.25L736.75 386Z" fill="#e25734"/>
<path d="M740 347.75L743.25 351L740 354.25L736.75 351Z" fill="#8a226a"/>
<path d="M752 384.75L755.25 388L752 391.25L748.75 388Z" fill="#e05536"/>
<path d="M738 391.75L741.25 395L738 398.25L734.75 395Z" fill="#e15635"/>
<path d="M756 345.75L759.25 349L756 352.25L752.75 349Z" fill="#721a6e"/>
<path d="M745 394.75L748.25 398L745 401.25L741.75 398Z" fill="#b93556"/>
<path d="M756 357.75L759.25 361L756 364.25L752.75 361Z" fill="#e8602d"/>
<path d="M746 339.75L749.25 343L746 346.25L742.75 343Z" fill="#7d1e6d"/>
<path d="M746 344.75L749.25 348L746 351.25L742.75 348Z" fill="#7c1d6d"/>
<path d="M750 377.75L753.25 381L750 384.25L746.75 381Z" fill="#e15635"/>
<path d="M752 355.75L755.25 359L752 362.25L748.75 359Z" fill="#b73557"/>
<path d="M758 382.75L761.25 386L758 389.25L754.75 386Z" fill="#b93556"/>
<path d="M748 354.75L751.25 358L748 361.25L744.75 358Z" fill="#a52c60"/>
<path d="M745 386.75L748.25 390L745 393.25L741.75 390Z" fill="#ce4347"/>
<path d="M749 372.75L752.25 376L749 379.25L745.75 376Z" fill="#e15635"/>
<path d="M738 387.75L741.25 391L738 394.25L734.75 391Z" fill="#d84c3e"/>
<path d="M748 349.75L751.25 353L748 356.25L744.75 353Z" fill="#5f136e"/>
<path d="M741 370.75L744.25 374L741 377.25L737.75 374Z" fill="#e75e2e"/>
<path d="M758 350.75L761.25 354L758 357.25L754.75 354Z" fill="#6d186e"/>
<path d="M739 359.75L742.25 363L739 366.25L735.75 363Z" fill="#f78410"/>
<path d="M751 352.75L754.25 356L751 359.25L747.75 356Z" fill="#5c126e"/>
<path d="M754 363.75L757.25 367L754 370.25L750.75 367Z" fill="#e9612b"/>
<path d="M743 351.75L746.25 355L743 358.25L739.75 355Z" fill="#5f136e"/>
<path d="M748 336.75L751.25 340L748 343.25L744.75 340Z" fill="#7c1d6d"/>
<path d="M751 348.75L754.25 352L751 355.25L747.75 352Z" fill="#510e6c"/>
<path d="M743 344.75L746.25 348L743 351.25L739.75 348Z" fill="#5f136e"/>
<path d="M752 390.75L755.25 394L752 397.25L748.75 394Z" fill="#c03a51"/>
<path d="M744 376.75L747.25 380L744 383.25L740.75 380Z" fill="#db503b"/>
<path d="M749 367.75L752.25 371L749 374.25L745.75 371Z" fill="#db503b"/>
<path d="M755 340.75L758.25 344L755 347.25L751.75 344Z" fill="#82206c"/>
<path d="M744 393.75L747.25 397L744 400.25L740.75 397Z" fill="#b63458"/>
<path d="M740 341.75L743.25 345L740 348.25L736.75 345Z" fill="#85216b"/>
<path d="M743 394.75L746.25 398L743 401.25L739.75 398Z" fill="#d44842"/>
<path d="M757 365.75L760.25 369L757 372.25L753.75 369Z" fill="#e9612b"/>
<path d="M747 380.75L750.25 384L747 387.25L743.75 384Z" fill="#b1325a"/>
<path d="M748 382.75L751.25 386L748 389.25L744.75 386Z" fill="#d34743"/>
<path d="M738 353.75L741.25 357L738 360.25L734.75 357Z" fill="#781c6d"/>
<path d="M754 345.75L757.25 349L754 352.25L750.75 349Z" fill="#8a226a"/>
<path d="M753 389.75L756.25 393L753 396.25L749.75 393Z" fill="#de5238"/>
<path d="M739 384.75L742.25 388L739 391.25L735.75 388Z" fill="#d34743"/>
<path d="M754 356.75L757.25 360L754 363.25L750.75 360Z" fill="#ea632a"/>
<path d="M743 375.75L746.25 379L743 382.25L739.75 379Z" fill="#d94d3d"/>
<path d="M753 363.75L756.25 367L753 370.25L749.75 367Z" fill="#ca404a"/>
<path d="M738 383.75L741.25 387L738 390.25L734.75 387Z" fill="#ce4347"/>
<path d="M737 387.75L740.25 391L737 394.25L733.75 391Z" fill="#c03a51"/>
<path d="M757 360.75L760.25 364L757 367.25L753.75 364Z" fill="#ef6e21"/>
<path d="M750 364.75L753.25 368L750 371.25L746.75 368Z" fill="#db503b"/>
<path d="M741 381.75L744.25 385L741 388.25L737.75 385Z" fill="#cf4446"/>
<path d="M747 368.75L750.25 372L747 375.25L743.75 372Z" fill="#ca404a"/>
<path d="M742 379.75L745.25 383L742 386.25L738.75 383Z" fill="#df5337"/>
<path d="M743 392.75L746.25 396L743 399.25L739.75 396Z" fill="#b3325a"/>
<path d="M758 367.75L761.25 371L758 374.25L754.75 371Z" fill="#e8602d"/>
<path d="M748 391.75L751.25 395L748 398.25L744.75 395Z" fill="#ab2f5e"/>
<path d="M739 343.75L742.25 347L739 350.25L735.75 347Z" fill="#922568"/>
<path d="M740 359.75L743.25 363L740 366.25L736.75 363Z" fill="#ef6c23"/>
<path d="M752 382.75L755.25 386L752 389.25L748.75 386Z" fill="#de5238"/>
<path d="M737 337.75L740.25 341L737 344.25L733.75 341Z" fill="#9a2865"/>
<path d="M747 351.75L750.25 355L747 358.25L743.75 355Z" fill="#550f6d"/>
<path d="M749 384.75L752.25 388L749 391.25L745.75 388Z" fill="#cb4149"/>
<path d="M754 353.75L757.25 357L754 360.25L750.75 357Z" fill="#781c6d"/>
<path d="M757 379.75L760.25 383L757 386.25L753.75 383Z" fill="#da4e3c"/>
<path d="M752 358.75L755.25 362L752 365.25L748.75 362Z" fill="#ef6c23"/>
<path d="M734 364.75L737.25 368L734 371.25L730.75 368Z" fill="#f2741c"/>
<path d="M742 377.75L745.25 381L742 384.25L738.75 381Z" fill="#e05536"/>
<path d="M748 356.75L751.25 360L748 363.25L744.75 360Z" fill="#d84c3e"/>
<path d="M752 348.75L755.25 352L752 355.25L748.75 352Z" fill="#771c6d"/>
<path d="M754 349.75L757.25 353L754 356.25L750.75 353Z" fill="#7c1d6d"/>
<path d="M737 387.75L740.25 391L737 394.25L733.75 391Z" fill="#ec6726"/>
<path d="M740 362.75L743.25 366L740 369.25L736.75 366Z" fill="#ea632a"/>
<path d="M746 335.75L749.25 339L746 342.25L742.75 339Z" fill="#7a1d6d"/>
<path d="M741 353.75L744.25 357L741 360.25L737.75 357Z" fill="#8c2369"/>
<path d="M751 384.75L754.25 388L751 391.25L747.75 388Z" fill="#d34743"/>
<path d="M747 393.75L750.25 397L747 400.25L743.75 397Z" fill="#85216b"/>
<path d="M755 355.75L758.25 359L755 362.25L751.75 359Z" fill="#ce4347"/>
<path d="M736 372.75L739.25 376L736 379.25L732.75 376Z" fill="#e15635"/>
<path d="M750 334.75L753.25 338L750 341.25L746.75 338Z" fill="#84206b"/>
<path d="M737 383.75L740.25 387L737 390.25L733.75 387Z" fill="#b43359"/>
<path d="M758 351.75L761.25 355L758 358.25L754.75 355Z" fill="#6c186e"/>
<path d="M736 350.75L739.25 354L736 357.25L732.75 354Z" fill="#6d186e"/>
<path d="M756 381.75L759.25 385L756 388.25L752.75 385Z" fill="#df5337"/>
<path d="M747 382.75L750.25 386L747 389.25L743.75 386Z" fill="#d84c3e"/>
<path d="M743 379.75L746.25 383L743 386.25L739.75 383Z" fill="#e9612b"/>
<path d="M752 340.75L755.25 344L752 347.25L748.75 344Z" fill="#82206c"/>
<path d="M736 360.75L739.25 364L736 367.25L732.75 364Z" fill="#c73e4c"/>
<path d="M737 340.75L740.25 344L737 347.25L733.75 344Z" fill="#922568"/>
<path d="M754 383.75L757.25 387L754 390.25L750.75 387Z" fill="#cb4149"/>
<path d="M743 380.75L746.25 384L743 387.25L739.75 384Z" fill="#db503b"/>
<path d="M752 392.75L755.25 396L752 399.25L748.75 396Z" fill="#ba3655"/>
<path d="M749 357.75L752.25 361L749 364.25L745.75 361Z" fill="#e8602d"/>
<path d="M756 375.75L759.25 379L756 382.25L752.75 379Z" fill="#cb4149"/>
<path d="M738 392.75L741.25 396L738 399.25L734.75 396Z" fill="#c33b4f"/>
<path d="M743 350.75L746.25 354L743 357.25L739.75 354Z" fill="#801f6c"/>
<path d="M748 358.75L751.25 362L748 365.25L744.75 362Z" fill="#d34743"/>
<path d="M746 351.75L749.25 355L746 358.25L742.75 355Z" fill="#952667"/>
<path d="M745 384.75L748.25 388L745 391.25L741.75 388Z" fill="#d04545"/>
<path d="M748 341.75L751.25 345L748 348.25L744.75 345Z" fill="#5a116e"/>
<path d="M758 373.75L761.25 377L758 380.25L754.75 377Z" fill="#d44842"/>
<path d="M740 389.75L743.25 393L740 396.25L736.75 393Z" fill="#dd513a"/>
<path d="M756 354.75L759.25 358L756 361.25L752.75 358Z" fill="#ce4347"/>
<path d="M736 353.75L739.25 357L736 360.25L732.75 357Z" fill="#87216b"/>
<path d="M758 377.75L761.25 381L758 384.25L754.75 381Z" fill="#da4e3c"/>
<path d="M744 367.75L747.25 371L744 374.25L740.75 371Z" fill="#ec6726"/>
<path d="M746 387.75L749.25 391L746 394.25L742.75 391Z" fill="#bd3853"/>
<path d="M749 377.75L752.25 381L749 384.25L745.75 381Z" fill="#eb6429"/>
<path d="M751 341.75L754.25 345L751 348.25L747.75 345Z" fill="#65156e"/>
<path d="M744 383.75L747.25 387L744 390.25L740.75 387Z" fill="#e25734"/>
<path d="M746 382.75L749.25 386L746 389.25L742.75 386Z" fill="#e05536"/>
<path d="M740 365.75L743.25 369L740 372.25L736.75 369Z" fill="#f3761b"/>
<path d="M748 366.75L751.25 370L748 373.25L744.75 370Z" fill="#c73e4c"/>
<path d="M743 391.75L746.25 395L743 398.25L739.75 395Z" fill="#9f2a63"/>
<path d="M754 393.75L757.25 397L754 400.25L750.75 397Z" fill="#c83f4b"/>
<path d="M754 339.75L757.25 343L754 346.25L750.75 343Z" fill="#550f6d"/>
<path d="M741 375.75L744.25 379L741 382.25L737.75 379Z" fill="#d54a41"/>
<path d="M737 349.75L740.25 353L737 356.25L733.75 353Z" fill="#7c1d6d"/>
<path d="M757 347.75L760.25 351L757 354.25L753.75 351Z" fill="#801f6c"/>
<path d="M749 390.75L752.25 394L749 397.25L745.75 394Z" fill="#b93556"/>
<path d="M740 367.75L743.25 371L740 374.25L736.75 371Z" fill="#eb6429"/>
<path d="M745 365.75L748.25 369L745 372.25L741.75 369Z" fill="#e15635"/>
<path d="M742 349.75L745.25 353L742 356.25L738.75 353Z" fill="#932667"/>
<path d="M756 341.75L759.25 345L756 348.25L752.75 345Z" fill="#5f136e"/>
<path d="M741 343.75L744.25 347L741 350.25L737.75 347Z" fill="#71196e"/>
<path d="M756 375.75L759.25 379L756 382.25L752.75 379Z" fill="#e9612b"/>
<path d="M738 346.75L741.25 350L738 353.25L734.75 350Z" fill="#8d2369"/>
<path d="M746 343.75L749.25 347L746 350.25L742.75 347Z" fill="#982766"/>
<path d="M747 378.75L750.25 382L747 385.25L743.75 382Z" fill="#ce4347"/>
<path d="M743 382.75L746.25 386L743 389.25L739.75 386Z" fill="#e55c30"/>
<path d="M738 352.75L741.25 356L738 359.25L734.75 356Z" fill="#6c186e"/>
<path d="M758 354.75L761.25 358L758 361.25L754.75 358Z" fill="#ab2f5e"/>
<path d="M736 387.75L739.25 391L736 394.25L732.75 391Z" fill="#87216b"/>
<path d="M749 345.75L752.25 349L749 352.25L745.75 349Z" fill="#85216b"/>
<path d="M748 380.75L751.25 384L748 387.25L744.75 384Z" fill="#d94d3d"/>
<path d="M752 353.75L755.25 357L752 360.25L748.75 357Z" fill="#972766"/>
<path d="M750 394.75L753.25 398L750 401.25L746.75 398Z" fill="#c03a51"/>
<path d="M737 370.75L740.25 374L737 377.25L733.75 374Z" fill="#b43359"/>
<path d="M742 341.75L745.25 345L742 348.25L738.75 345Z" fill="#781c6d"/>
<path d="M754 378.75L757.25 382L754 385.25L750.75 382Z" fill="#d94d3d"/>
<path d="M753 374.75L756.25 378L753 381.25L749.75 378Z" fill="#de5238"/>
<path d="M758 353.75L761.25 357L758 360.25L754.75 357Z" fill="#9b2964"/>
<path d="M738 378.75L741.25 382L738 385.25L734.75 382Z" fill="#c03a51"/>
<path d="M741 382.75L744.25 386L741 389.25L737.75 386Z" fill="#d24644"/>
<path d="M756 388.75L759.25 392L756 395.25L752.75 392Z" fill="#8d2369"/>
<path d="M741 394.75L744.25 398L741 401.25L737.75 398Z" fill="#a22b62"/>
<path d="M751 349.75L754.25 353L751 356.25L747.75 353Z" fill="#801f6c"/>
<path d="M751 393.75L754.25 397L751 400.25L747.75 397Z" fill="#ca404a"/>
<path d="M746 336.75L749.25 340L746 343.25L742.75 340Z" fill="#771c6d"/>
<path d="M748 369.75L751.25 373L748 376.25L744.75 373Z" fill="#c43c4e"/>
<path d="M738 390.75L741.25 394L738 397.25L734.75 394Z" fill="#ca404a"/>
<path d="M737 369.75L740.25 373L737 376.25L733.75 373Z" fill="#d94d3d"/>
<path d="M745 379.75L748.25 383L745 386.25L741.75 383Z" fill="#e9612b"/>
<path d="M742 385.75L745.25 389L742 392.25L738.75 389Z" fill="#db503b"/>
<path d="M746 330.75L749.25 334L746 337.25L742.75 334Z" fill="#71196e"/>
<path d="M819 355.75L822.25 359L819 362.25L815.75 359Z" fill="#d04545"/>
<path d="M816 332.75L819.25 336L816 339.25L812.75 336Z" fill="#d94d3d"/>
<path d="M819 334.75L822.25 338L819 341.25L815.75 338Z" fill="#cc4248"/>
<path d="M802 354.75L805.25 358L802 361.25L798.75 358Z" fill="#cc4248"/>
<path d="M809 334.75L812.25 338L809 341.25L805.75 338Z" fill="#f1711f"/>
<path d="M798 357.75L801.25 361L798 364.25L794.75 361Z" fill="#7a1d6d"/>
<path d="M809 339.75L812.25 343L809 346.25L805.75 343Z" fill="#e65d2f"/>
<path d="M817 354.75L820.25 358L817 361.25L813.75 358Z" fill="#ea632a"/>
<path d="M797 341.75L800.25 345L797 348.25L793.75 345Z" fill="#972766"/>
<path d="M815 340.75L818.25 344L815 347.25L811.75 344Z" fill="#771c6d"/>
<path d="M805 328.75L808.25 332L805 335.25L801.75 332Z" fill="#d94d3d"/>
<path d="M808 355.75L811.25 359L808 362.25L804.75 359Z" fill="#8d2369"/>
<path d="M806 345.75L809.25 349L806 352.25L802.75 349Z" fill="#f67e14"/>
<path d="M800 328.75L803.25 332L800 335.25L796.75 332Z" fill="#fa9207"/>
<path d="M804 335.75L807.25 339L804 342.25L800.75 339Z" fill="#f78410"/>
<path d="M816 334.75L819.25 338L816 341.25L812.75 338Z" fill="#d84c3e"/>
<path d="M800 341.75L803.25 345L800 348.25L796.75 345Z" fill="#952667"/>
<path d="M814 329.75L817.25 333L814 336.25L810.75 333Z" fill="#e35933"/>
<path d="M819 349.75L822.25 353L819 356.25L815.75 353Z" fill="#ed6925"/>
<path d="M812 331.75L815.25 335L812 338.25L808.75 335Z" fill="#d74b3f"/>
<path d="M799 345.75L802.25 349L799 352.25L795.75 349Z" fill="#751b6e"/>
<path d="M809 350.75L812.25 354L809 357.25L805.75 354Z" fill="#cb4149"/>
<path d="M812 350.75L815.25 354L812 357.25L808.75 354Z" fill="#ea632a"/>
<path d="M803 357.75L806.25 361L803 364.25L799.75 361Z" fill="#b73557"/>
<path d="M804 356.75L807.25 360L804 363.25L800.75 360Z" fill="#751b6e"/>
<path d="M810 355.75L813.25 359L810 362.25L806.75 359Z" fill="#972766"/>
<path d="M799 358.75L802.25 362L799 365.25L795.75 362Z" fill="#ea632a"/>
<path d="M819 351.75L822.25 355L819 358.25L815.75 355Z" fill="#ce4347"/>
<path d="M817 349.75L820.25 353L817 356.25L813.75 353Z" fill="#b0315b"/>
<path d="M797 339.75L800.25 343L797 346.25L793.75 343Z" fill="#972766"/>
<path d="M811 332.75L814.25 336L811 339.25L807.75 336Z" fill="#ec6726"/>
<path d="M805 356.75L808.25 360L805 363.25L801.75 360Z" fill="#7d1e6d"/>
<path d="M799 328.75L802.25 332L799 335.25L795.75 332Z" fill="#9d2964"/>
<path d="M808 335.75L811.25 339L808 342.25L804.75 339Z" fill="#84206b"/>
<path d="M816 342.75L819.25 346L816 349.25L812.75 346Z" fill="#8a226a"/>
<path d="M802 354.75L805.25 358L802 361.25L798.75 358Z" fill="#e65d2f"/>
<path d="M802 339.75L805.25 343L802 346.25L798.75 343Z" fill="#de5238"/>
<path d="M803 342.75L806.25 346L803 349.25L799.75 346Z" fill="#972766"/>
<path d="M796 339.75L799.25 343L796 346.25L792.75 343Z" fill="#7f1e6c"/>
<path d="M798 356.75L801.25 360L798 363.25L794.75 360Z" fill="#9a2865"/>
<path d="M795 337.75L798.25 341L795 344.25L791.75 341Z" fill="#f57d15"/>
<path d="M802 344.75L805.25 348L802 351.25L798.75 348Z" fill="#db503b"/>
<path d="M817 354.75L820.25 358L817 361.25L813.75 358Z" fill="#5d126e"/>
<path d="M803 341.75L806.25 345L803 348.25L799.75 345Z" fill="#db503b"/>
<path d="M804 357.75L807.25 361L804 364.25L800.75 361Z" fill="#71196e"/>
<path d="M807 345.75L810.25 349L807 352.25L803.75 349Z" fill="#88226a"/>
<path d="M816 357.75L819.25 361L816 364.25L812.75 361Z" fill="#e9612b"/>
<path d="M801 329.75L804.25 333L801 336.25L797.75 333Z" fill="#c33b4f"/>
<path d="M804 350.75L807.25 354L804 357.25L800.75 354Z" fill="#bc3754"/>
<path d="M800 353.75L803.25 357L800 360.25L796.75 357Z" fill="#cb4149"/>
<path d="M798 333.75L801.25 337L798 340.25L794.75 337Z" fill="#ee6a24"/>
<path d="M814 355.75L817.25 359L814 362.25L810.75 359Z" fill="#ae305c"/>
<path d="M815 356.75L818.25 360L815 363.25L811.75 360Z" fill="#8a226a"/>
<path d="M817 340.75L820.25 344L817 347.25L813.75 344Z" fill="#751b6e"/>
<path d="M807 352.75L810.25 356L807 359.25L803.75 356Z" fill="#7c1d6d"/>
<path d="M805 331.75L808.25 335L805 338.25L801.75 335Z" fill="#f3761b"/>
<path d="M809 350.75L812.25 354L809 357.25L805.75 354Z" fill="#d04545"/>
<path d="M811 356.75L814.25 360L811 363.25L807.75 360Z" fill="#d44842"/>
<path d="M802 337.75L805.25 341L802 344.25L798.75 341Z" fill="#ce4347"/>
<path d="M805 348.75L808.25 352L805 355.25L801.75 352Z" fill="#ee6a24"/>
<path d="M802 335.75L805.25 339L802 342.25L798.75 339Z" fill="#f47918"/>
<path d="M819 337.75L822.25 341L819 344.25L815.75 341Z" fill="#71196e"/>
<path d="M814 336.75L817.25 340L814 343.25L810.75 340Z" fill="#e25734"/>
<path d="M811 330.75L814.25 334L811 337.25L807.75 334Z" fill="#ab2f5e"/>
<path d="M813 353.75L816.25 357L813 360.25L809.75 357Z" fill="#8c2369"/>
<path d="M802 335.75L805.25 339L802 342.25L798.75 339Z" fill="#eb6628"/>
<path d="M802 329.75L805.25 333L802 336.25L798.75 333Z" fill="#d84c3e"/>
<path d="M814 339.75L817.25 343L814 346.25L810.75 343Z" fill="#9f2a63"/>
<path d="M814 355.75L817.25 359L814 362.25L810.75 359Z" fill="#b43359"/>
<path d="M814 359.75L817.25 363L814 366.25L810.75 363Z" fill="#932667"/>
<path d="M813 338.75L816.25 342L813 345.25L809.75 342Z" fill="#ef6c23"/>
<path d="M801 336.75L804.25 340L801 343.25L797.75 340Z" fill="#e15635"/>
<path d="M804 353.75L807.25 357L804 360.25L800.75 357Z" fill="#f57d15"/>
<path d="M813 352.75L816.25 356L813 359.25L809.75 356Z" fill="#bf3952"/>
<path d="M813 360.75L816.25 364L813 367.25L809.75 364Z" fill="#c33b4f"/>
<path d="M805 333.75L808.25 337L805 340.25L801.75 337Z" fill="#d24644"/>
<path d="M803 327.75L806.25 331L803 334.25L799.75 331Z" fill="#982766"/>
<path d="M807 333.75L810.25 337L807 340.25L803.75 337Z" fill="#cf4446"/>
<path d="M802 357.75L805.25 361L802 364.25L798.75 361Z" fill="#8f2469"/>
<path d="M801 355.75L804.25 359L801 362.25L797.75 359Z" fill="#cc4248"/>
<path d="M800 334.75L803.25 338L800 341.25L796.75 338Z" fill="#e8602d"/>
<path d="M816 348.75L819.25 352L816 355.25L812.75 352Z" fill="#de5238"/>
<path d="M803 347.75L806.25 351L803 354.25L799.75 351Z" fill="#d94d3d"/>
<path d="M809 341.75L812.25 345L809 348.25L805.75 345Z" fill="#ea632a"/>
<path d="M801 353.75L804.25 357L801 360.25L797.75 357Z" fill="#6a176e"/>
<path d="M801 330.75L804.25 334L801 337.25L797.75 334Z" fill="#922568"/>
<path d="M807 339.75L810.25 343L807 346.25L803.75 343Z" fill="#ed6925"/>
<path d="M809 357.75L812.25 361L809 364.25L805.75 361Z" fill="#741a6e"/>
<path d="M808 342.75L811.25 346L808 349.25L804.75 346Z" fill="#bf3952"/>
<path d="M807 333.75L810.25 337L807 340.25L803.75 337Z" fill="#eb6429"/>
<path d="M808 346.75L811.25 350L808 353.25L804.75 350Z" fill="#cf4446"/>
<path d="M810 340.75L813.25 344L810 347.25L806.75 344Z" fill="#cb4149"/>
<path d="M811 357.75L814.25 361L811 364.25L807.75 361Z" fill="#902568"/>
<path d="M819 349.75L822.25 353L819 356.25L815.75 353Z" fill="#de5238"/>
<path d="M811 351.75L814.25 355L811 358.25L807.75 355Z" fill="#eb6628"/>
<path d="M812 334.75L815.25 338L812 341.25L808.75 338Z" fill="#da4e3c"/>
<path d="M815 344.75L818.25 348L815 351.25L811.75 348Z" fill="#ef6e21"/>
<path d="M810 350.75L813.25 354L810 357.25L806.75 354Z" fill="#d94d3d"/>
<path d="M806 334.75L809.25 338L806 341.25L802.75 338Z" fill="#5d126e"/>
<path d="M816 347.75L819.25 351L816 354.25L812.75 351Z" fill="#d84c3e"/>
<path d="M801 347.75L804.25 351L801 354.25L797.75 351Z" fill="#d74b3f"/>
<path d="M807 345.75L810.25 349L807 352.25L803.75 349Z" fill="#b0315b"/>
<path d="M812 343.75L815.25 347L812 350.25L808.75 347Z" fill="#e05536"/>
<path d="M808 347.75L811.25 351L808 354.25L804.75 351Z" fill="#a62d60"/>
<path d="M813 351.75L816.25 355L813 358.25L809.75 355Z" fill="#b0315b"/>
<path d="M808 352.75L811.25 356L808 359.25L804.75 356Z" fill="#eb6628"/>
<path d="M808 360.75L811.25 364L808 367.25L804.75 364Z" fill="#d34743"/>
<path d="M799 333.75L802.25 337L799 340.25L795.75 337Z" fill="#751b6e"/>
<path d="M796 333.75L799.25 337L796 340.25L792.75 337Z" fill="#c43c4e"/>
<path d="M818 347.75L821.25 351L818 354.25L814.75 351Z" fill="#ef6e21"/>
<path d="M819 352.75L822.25 356L819 359.25L815.75 356Z" fill="#71196e"/>
<path d="M811 339.75L814.25 343L811 346.25L807.75 343Z" fill="#c73e4c"/>
<path d="M802 336.75L805.25 340L802 343.25L798.75 340Z" fill="#e05536"/>
<path d="M812 351.75L815.25 355L812 358.25L808.75 355Z" fill="#7d1e6d"/>
<path d="M803 357.75L806.25 361L803 364.25L799.75 361Z" fill="#ba3655"/>
<path d="M807 342.75L810.25 346L807 349.25L803.75 346Z" fill="#b73557"/>
<path d="M818 351.75L821.25 355L818 358.25L814.75 355Z" fill="#65156e"/>
<path d="M813 356.75L816.25 360L813 363.25L809.75 360Z" fill="#de5238"/>
<path d="M812 334.75L815.25 338L812 341.25L808.75 338Z" fill="#cb4149"/>
<path d="M797 356.75L800.25 360L797 363.25L793.75 360Z" fill="#922568"/>
<path d="M804 337.75L807.25 341L804 344.25L800.75 341Z" fill="#ea632a"/>
<path d="M804 328.75L807.25 332L804 335.25L800.75 332Z" fill="#c73e4c"/>
<path d="M802 353.75L805.25 357L802 360.25L798.75 357Z" fill="#d54a41"/>
<path d="M807 337.75L810.25 341L807 344.25L803.75 341Z" fill="#87216b"/>
<path d="M809 331.75L812.25 335L809 338.25L805.75 335Z" fill="#e05536"/>
<path d="M809 338.75L812.25 342L809 345.25L805.75 342Z" fill="#62146e"/>
<path d="M818 344.75L821.25 348L818 351.25L814.75 348Z" fill="#88226a"/>
<path d="M810 334.75L813.25 338L810 341.25L806.75 338Z" fill="#e05536"/>
<path d="M797 345.75L800.25 349L797 352.25L793.75 349Z" fill="#71196e"/>
<path d="M809 330.75L812.25 334L809 337.25L805.75 334Z" fill="#c73e4c"/>
<path d="M807 327.75L810.25 331L807 334.25L803.75 331Z" fill="#ae305c"/>
<path d="M804 342.75L807.25 346L804 349.25L800.75 346Z" fill="#82206c"/>
<path d="M816 339.75L819.25 343L816 346.25L812.75 343Z" fill="#c63d4d"/>
<path d="M797 348.75L800.25 352L797 355.25L793.75 352Z" fill="#f67e14"/>
<path d="M804 341.75L807.25 345L804 348.25L800.75 345Z" fill="#cf4446"/>
<path d="M814 334.75L817.25 338L814 341.25L810.75 338Z" fill="#ca404a"/>
<path d="M816 337.75L819.25 341L816 344.25L812.75 341Z" fill="#ef6c23"/>
<path d="M816 342.75L819.25 346L816 349.25L812.75 346Z" fill="#751b6e"/>
<path d="M802 354.75L805.25 358L802 361.25L798.75 358Z" fill="#c63d4d"/>
<path d="M795 349.75L798.25 353L795 356.25L791.75 353Z" fill="#a92e5e"/>
<path d="M800 355.75L803.25 359L800 362.25L796.75 359Z" fill="#ee6a24"/>
<path d="M800 338.75L803.25 342L800 345.25L796.75 342Z" fill="#9d2964"/>
<path d="M800 332.75L803.25 336L800 339.25L796.75 336Z" fill="#c83f4b"/>
<path d="M798 350.75L801.25 354L798 357.25L794.75 354Z" fill="#de5238"/>
<path d="M805 337.75L808.25 341L805 344.25L801.75 341Z" fill="#cf4446"/>
<path d="M811 346.75L814.25 350L811 353.25L807.75 350Z" fill="#e55c30"/>
<path d="M799 330.75L802.25 334L799 337.25L795.75 334Z" fill="#c43c4e"/>
<path d="M814 332.75L817.25 336L814 339.25L810.75 336Z" fill="#e15635"/>
<path d="M812 336.75L815.25 340L812 343.25L808.75 340Z" fill="#922568"/>
<path d="M809 330.75L812.25 334L809 337.25L805.75 334Z" fill="#ae305c"/>
<path d="M797 351.75L800.25 355L797 358.25L793.75 355Z" fill="#8d2369"/>
<path d="M816 349.75L819.25 353L816 356.25L812.75 353Z" fill="#922568"/>
<path d="M815 351.75L818.25 355L815 358.25L811.75 355Z" fill="#e45a31"/>
<path d="M800 348.75L803.25 352L800 355.25L796.75 352Z" fill="#ef6c23"/>
<path d="M799 354.75L802.25 358L799 361.25L795.75 358Z" fill="#bf3952"/>
<path d="M799 350.75L802.25 354L799 357.25L795.75 354Z" fill="#8f2469"/>
<path d="M802 331.75L805.25 335L802 338.25L798.75 335Z" fill="#de5238"/>
<path d="M799 334.75L802.25 338L799 341.25L795.75 338Z" fill="#e65d2f"/>
<path d="M800 343.75L803.25 347L800 350.25L796.75 347Z" fill="#b63458"/>
<path d="M804 352.75L807.25 356L804 359.25L800.75 356Z" fill="#da4e3c"/>
<path d="M801 331.75L804.25 335L801 338.25L797.75 335Z" fill="#550f6d"/>
<path d="M797 337.75L800.25 341L797 344.25L793.75 341Z" fill="#f8850f"/>
<path d="M801 356.75L804.25 360L801 363.25L797.75 360Z" fill="#69166e"/>
<path d="M808 360.75L811.25 364L808 367.25L804.75 364Z" fill="#df5337"/>
<path d="M813 341.75L816.25 345L813 348.25L809.75 345Z" fill="#f57b17"/>
<path d="M802 346.75L805.25 350L802 353.25L798.75 350Z" fill="#6d186e"/>
<path d="M819 340.75L822.25 344L819 347.25L815.75 344Z" fill="#e9612b"/>
<path d="M812 342.75L815.25 346L812 349.25L808.75 346Z" fill="#6c186e"/>
<path d="M808 341.75L811.25 345L808 348.25L804.75 345Z" fill="#d24644"/>
<path d="M814 350.75L817.25 354L814 357.25L810.75 354Z" fill="#d54a41"/>
<path d="M808 345.75L811.25 349L808 352.25L804.75 349Z" fill="#e25734"/>
<path d="M812 337.75L815.25 341L812 344.25L808.75 341Z" fill="#f1731d"/>
<path d="M811 357.75L814.25 361L811 364.25L807.75 361Z" fill="#751b6e"/>
<path d="M802 333.75L805.25 337L802 340.25L798.75 337Z" fill="#ef6e21"/>
<path d="M819 338.75L822.25 342L819 345.25L815.75 342Z" fill="#c13a50"/>
<path d="M809 356.75L812.25 360L809 363.25L805.75 360Z" fill="#da4e3c"/>
<path d="M809 341.75L812.25 345L809 348.25L805.75 345Z" fill="#f8890c"/>
<path d="M808 340.75L811.25 344L808 347.25L804.75 344Z" fill="#f06f20"/>
<path d="M805 337.75L808.25 341L805 344.25L801.75 341Z" fill="#ce4347"/>
<path d="M804 352.75L807.25 356L804 359.25L800.75 356Z" fill="#771c6d"/>
<path d="M815 350.75L818.25 354L815 357.25L811.75 354Z" fill="#ca404a"/>
<path d="M819 345.75L822.25 349L819 352.25L815.75 349Z" fill="#8f2469"/>
<path d="M796 340.75L799.25 344L796 347.25L792.75 344Z" fill="#f37819"/>
<path d="M817 342.75L820.25 346L817 349.25L813.75 346Z" fill="#df5337"/>
<path d="M799 330.75L802.25 334L799 337.25L795.75 334Z" fill="#f78410"/>
<path d="M806 337.75L809.25 341L806 344.25L802.75 341Z" fill="#8c2369"/>
<path d="M806 356.75L809.25 360L806 363.25L802.75 360Z" fill="#d94d3d"/>
<path d="M810 344.75L813.25 348L810 351.25L806.75 348Z" fill="#801f6c"/>
<path d="M798 337.75L801.25 341L798 344.25L794.75 341Z" fill="#d24644"/>
<path d="M819 336.75L822.25 340L819 343.25L815.75 340Z" fill="#e75e2e"/>
<path d="M804 360.75L807.25 364L804 367.25L800.75 364Z" fill="#85216b"/>
<path d="M802 334.75L805.25 338L802 341.25L798.75 338Z" fill="#cc4248"/>
<path d="M799 351.75L802.25 355L799 358.25L795.75 355Z" fill="#e55c30"/>
<path d="M814 335.75L817.25 339L814 342.25L810.75 339Z" fill="#972766"/>
<path d="M815 335.75L818.25 339L815 342.25L811.75 339Z" fill="#eb6628"/>
<path d="M812 360.75L815.25 364L812 367.25L808.75 364Z" fill="#da4e3c"/>
<path d="M795 348.75L798.25 352L795 355.25L791.75 352Z" fill="#801f6c"/>
<path d="M816 340.75L819.25 344L816 347.25L812.75 344Z" fill="#eb6628"/>
<path d="M796 345.75L799.25 349L796 352.25L792.75 349Z" fill="#f98c0a"/>
<path d="M801 353.75L804.25 357L801 360.25L797.75 357Z" fill="#6d186e"/>
<path d="M804 347.75L807.25 351L804 354.25L800.75 351Z" fill="#902568"/>
<path d="M806 332.75L809.25 336L806 339.25L802.75 336Z" fill="#ef6c23"/>
<path d="M818 333.75L821.25 337L818 340.25L814.75 337Z" fill="#721a6e"/>
<path d="M819 333.75L822.25 337L819 340.25L815.75 337Z" fill="#c43c4e"/>
<path d="M801 351.75L804.25 355L801 358.25L797.75 355Z" fill="#d54a41"/>
<path d="M818 335.75L821.25 339L818 342.25L814.75 339Z" fill="#6f196e"/>
<path d="M814 359.75L817.25 363L814 366.25L810.75 363Z" fill="#d54a41"/>
<path d="M803 340.75L806.25 344L803 347.25L799.75 344Z" fill="#f1711f"/>
<path d="M816 343.75L819.25 347L816 350.25L812.75 347Z" fill="#85216b"/>
<path d="M796 342.75L799.25 346L796 349.25L792.75 346Z" fill="#f1731d"/>
<path d="M803 358.75L806.25 362L803 365.25L799.75 362Z" fill="#7c1d6d"/>
<path d="M819 346.75L822.25 350L819 353.25L815.75 350Z" fill="#bc3754"/>
<path d="M802 341.75L805.25 345L802 348.25L798.75 345Z" fill="#c63d4d"/>
<path d="M816 329.75L819.25 333L816 336.25L812.75 333Z" fill="#dd513a"/>
<path d="M812 333.75L815.25 337L812 340.25L808.75 337Z" fill="#d44842"/>
<path d="M808 358.75L811.25 362L808 365.25L804.75 362Z" fill="#c63d4d"/>
<path d="M802 341.75L805.25 345L802 348.25L798.75 345Z" fill="#9a2865"/>
<path d="M812 345.75L815.25 349L812 352.25L808.75 349Z" fill="#eb6429"/>
<path d="M810 329.75L813.25 333L810 336.25L806.75 333Z" fill="#71196e"/>
<path d="M807 334.75L810.25 338L807 341.25L803.75 338Z" fill="#9a2865"/>
<path d="M809 335.75L812.25 339L809 342.25L805.75 339Z" fill="#721a6e"/>
<path d="M810 355.75L813.25 359L810 362.25L806.75 359Z" fill="#d84c3e"/>
<path d="M806 352.75L809.25 356L806 359.25L802.75 356Z" fill="#df5337"/>
<path d="M801 346.75L804.25 350L801 353.25L797.75 350Z" fill="#c73e4c"/>
<path d="M799 346.75L802.25 350L799 353.25L795.75 350Z" fill="#932667"/>
<path d="M803 358.75L806.25 362L803 365.25L799.75 362Z" fill="#d04545"/>
<path d="M801 334.75L804.25 338L801 341.25L797.75 338Z" fill="#ca404a"/>
<path d="M802 360.75L805.25 364L802 367.25L798.75 364Z" fill="#520e6d"/>
<path d="M805 354.75L808.25 358L805 361.25L801.75 358Z" fill="#db503b"/>
<path d="M819 344.75L822.25 348L819 351.25L815.75 348Z" fill="#88226a"/>
<path d="M807 328.75L810.25 332L807 335.25L803.75 332Z" fill="#f47918"/>
<path d="M801 332.75L804.25 336L801 339.25L797.75 336Z" fill="#9d2964"/>
<path d="M800 341.75L803.25 345L800 348.25L796.75 345Z" fill="#ec6726"/>
<path d="M802 340.75L805.25 344L802 347.25L798.75 344Z" fill="#59106e"/>
<path d="M806 327.75L809.25 331L806 334.25L802.75 331Z" fill="#8d2369"/>
<path d="M815 352.75L818.25 356L815 359.25L811.75 356Z" fill="#e65d2f"/>
<path d="M814 351.75L817.25 355L814 358.25L810.75 355Z" fill="#781c6d"/>
<path d="M795 347.75L798.25 351L795 354.25L791.75 351Z" fill="#d24644"/>
<path d="M817 349.75L820.25 353L817 356.25L813.75 353Z" fill="#e15635"/>
<path d="M807 346.75L810.25 350L807 353.25L803.75 350Z" fill="#e65d2f"/>
<path d="M820 339.75L823.25 343L820 346.25L816.75 343Z" fill="#da4e3c"/>
<path d="M800 347.75L803.25 351L800 354.25L796.75 351Z" fill="#f06f20"/>
<path d="M814 348.75L817.25 352L814 355.25L810.75 352Z" fill="#d44842"/>
<path d="M819 336.75L822.25 340L819 343.25L815.75 340Z" fill="#7a1d6d"/>
<path d="M812 348.75L815.25 352L812 355.25L808.75 352Z" fill="#d74b3f"/>
<path d="M808 357.75L811.25 361L808 364.25L804.75 361Z" fill="#e75e2e"/>
<path d="M796 339.75L799.25 343L796 346.25L792.75 343Z" fill="#87216b"/>
<path d="M804 350.75L807.25 354L804 357.25L800.75 354Z" fill="#741a6e"/>
<path d="M813 358.75L816.25 362L813 365.25L809.75 362Z" fill="#f06f20"/>
<path d="M797 337.75L800.25 341L797 344.25L793.75 341Z" fill="#de5238"/>
<path d="M819 352.75L822.25 356L819 359.25L815.75 356Z" fill="#dd513a"/>
<path d="M815 328.75L818.25 332L815 335.25L811.75 332Z" fill="#db503b"/>
<path d="M813 343.75L816.25 347L813 350.25L809.75 347Z" fill="#f2741c"/>
<path d="M802 344.75L805.25 348L802 351.25L798.75 348Z" fill="#f57b17"/>
<path d="M811 347.75L814.25 351L811 354.25L807.75 351Z" fill="#eb6429"/>
<path d="M816 356.75L819.25 360L816 363.25L812.75 360Z" fill="#eb6628"/>
<path d="M806 347.75L809.25 351L806 354.25L802.75 351Z" fill="#7c1d6d"/>
<path d="M805 331.75L808.25 335L805 338.25L801.75 335Z" fill="#f1731d"/>
<path d="M803 353.75L806.25 357L803 360.25L799.75 357Z" fill="#84206b"/>
<path d="M813 358.75L816.25 362L813 365.25L809.75 362Z" fill="#7a1d6d"/>
<path d="M805 340.75L808.25 344L805 347.25L801.75 344Z" fill="#d04545"/>
<path d="M807 335.75L810.25 339L807 342.25L803.75 339Z" fill="#df5337"/>
<path d="M802 343.75L805.25 347L802 350.25L798.75 347Z" fill="#f37819"/>
<path d="M798 339.75L801.25 343L798 346.25L794.75 343Z" fill="#801f6c"/>
<path d="M808 326.75L811.25 330L808 333.25L804.75 330Z" fill="#f57b17"/>
<path d="M817 353.75L820.25 357L817 360.25L813.75 357Z" fill="#e55c30"/>
<path d="M805 359.75L808.25 363L805 366.25L801.75 363Z" fill="#781c6d"/>
<path d="M799 346.75L802.25 350L799 353.25L795.75 350Z" fill="#ca404a"/>
<path d="M819 337.75L822.25 341L819 344.25L815.75 341Z" fill="#a02a63"/>
<path d="M802 333.75L805.25 337L802 340.25L798.75 337Z" fill="#d34743"/>
<path d="M812 340.75L815.25 344L812 347.25L808.75 344Z" fill="#e15635"/>
<path d="M817 356.75L820.25 360L817 363.25L813.75 360Z" fill="#e75e2e"/>
<path d="M811 331.75L814.25 335L811 338.25L807.75 335Z" fill="#ca404a"/>
<path d="M802 347.75L805.25 351L802 354.25L798.75 351Z" fill="#e25734"/>
<path d="M798 348.75L801.25 352L798 355.25L794.75 352Z" fill="#8a226a"/>
<path d="M809 348.75L812.25 352L809 355.25L805.75 352Z" fill="#d94d3d"/>
<path d="M798 344.75L801.25 348L798 351.25L794.75 348Z" fill="#ae305c"/>
<path d="M798 348.75L801.25 352L798 355.25L794.75 352Z" fill="#b3325a"/>
<path d="M807 328.75L810.25 332L807 335.25L803.75 332Z" fill="#9b2964"/>
<path d="M806 337.75L809.25 341L806 344.25L802.75 341Z" fill="#87216b"/>
<path d="M819 343.75L822.25 347L819 350.25L815.75 347Z" fill="#c73e4c"/>
<path d="M808 354.75L811.25 358L808 361.25L804.75 358Z" fill="#c83f4b"/>
<path d="M800 334.75L803.25 338L800 341.25L796.75 338Z" fill="#ef6e21"/>
<path d="M809 337.75L812.25 341L809 344.25L805.75 341Z" fill="#a62d60"/>
<path d="M803 336.75L806.25 340L803 343.25L799.75 340Z" fill="#df5337"/>
<path d="M810 357.75L813.25 361L810 364.25L806.75 361Z" fill="#f37819"/>
<path d="M814 354.75L817.25 358L814 361.25L810.75 358Z" fill="#84206b"/>
<path d="M813 340.75L816.25 344L813 347.25L809.75 344Z" fill="#cb4149"/>
<path d="M813 358.75L816.25 362L813 365.25L809.75 362Z" fill="#cc4248"/>
<path d="M818 357.75L821.25 361L818 364.25L814.75 361Z" fill="#ec6726"/>
<path d="M796 322.75L799.25 326L796 329.25L792.75 326Z" fill="#d34743"/>
<path d="M817 366.75L820.25 370L817 373.25L813.75 370Z" fill="#fcac11"/>
<path d="M813 369.75L816.25 373L813 376.25L809.75 373Z" fill="#fcb216"/>
<path d="M810 372.75L813.25 376L810 379.25L806.75 376Z" fill="#fcb216"/>
<path d="M812 370.75L815.25 374L812 377.25L808.75 374Z" fill="#fcac11"/>
<path d="M815 364.75L818.25 368L815 371.25L811.75 368Z" fill="#fca60c"/>
<path d="M795 358.75L798.25 362L795 365.25L791.75 362Z" fill="#fca60c"/>
<path d="M798 360.75L801.25 364L798 367.25L794.75 364Z" fill="#fb9b06"/>
<line x1="61.1" x2="65" y1="51.5" y2="51.5" stroke="#333" stroke-width="1.3"/>
<text transform="translate(57.6 56.6) scale(1 1.08)" font-size="12.8" text-anchor="end" fill="#404040" stroke="#404040" stroke-width="0.25">2</text>
<line x1="61.1" x2="65" y1="96.5" y2="96.5" stroke="#333" stroke-width="1.3"/>
<text transform="translate(57.6 101.6) scale(1 1.08)" font-size="12.8" text-anchor="end" fill="#404040" stroke="#404040" stroke-width="0.25">1</text>
<line x1="61.1" x2="65" y1="141.5" y2="141.5" stroke="#333" stroke-width="1.3"/>
<text transform="translate(57.6 146.6) scale(1 1.08)" font-size="12.8" text-anchor="end" fill="#404040" stroke="#404040" stroke-width="0.25">0</text>
<line x1="61.1" x2="65" y1="186.5" y2="186.5" stroke="#333" stroke-width="1.3"/>
<text transform="translate(57.6 191.6) scale(1 1.08)" font-size="12.8" text-anchor="end" fill="#404040" stroke="#404040" stroke-width="0.25">-1</text>
<line x1="61.1" x2="65" y1="231.5" y2="231.5" stroke="#333" stroke-width="1.3"/>
<text transform="translate(57.6 236.6) scale(1 1.08)" font-size="12.8" text-anchor="end" fill="#404040" stroke="#404040" stroke-width="0.25">-2</text>
<line x1="141.5" x2="141.5" y1="233" y2="236.8" stroke="#333" stroke-width="1.3"/>
<text transform="translate(141.5 253.0) scale(1 1.08)" font-size="12.8" text-anchor="middle" fill="#404040" stroke="#404040" stroke-width="0.25">-1</text>
<line x1="250.5" x2="250.5" y1="233" y2="236.8" stroke="#333" stroke-width="1.3"/>
<text transform="translate(250.5 253.0) scale(1 1.08)" font-size="12.8" text-anchor="middle" fill="#404040" stroke="#404040" stroke-width="0.25">0</text>
<line x1="360.5" x2="360.5" y1="233" y2="236.8" stroke="#333" stroke-width="1.3"/>
<text transform="translate(360.5 253.0) scale(1 1.08)" font-size="12.8" text-anchor="middle" fill="#404040" stroke="#404040" stroke-width="0.25">1</text>
<line x1="518.1" x2="522" y1="47.5" y2="47.5" stroke="#333" stroke-width="1.3"/>
<text transform="translate(514.6 52.6) scale(1 1.08)" font-size="12.8" text-anchor="end" fill="#404040" stroke="#404040" stroke-width="0.25">0.50</text>
<line x1="518.1" x2="522" y1="86.5" y2="86.5" stroke="#333" stroke-width="1.3"/>
<text transform="translate(514.6 91.6) scale(1 1.08)" font-size="12.8" text-anchor="end" fill="#404040" stroke="#404040" stroke-width="0.25">0.25</text>
<line x1="518.1" x2="522" y1="126.5" y2="126.5" stroke="#333" stroke-width="1.3"/>
<text transform="translate(514.6 131.6) scale(1 1.08)" font-size="12.8" text-anchor="end" fill="#404040" stroke="#404040" stroke-width="0.25">0.00</text>
<line x1="518.1" x2="522" y1="165.5" y2="165.5" stroke="#333" stroke-width="1.3"/>
<text transform="translate(514.6 170.6) scale(1 1.08)" font-size="12.8" text-anchor="end" fill="#404040" stroke="#404040" stroke-width="0.25">-0.25</text>
<line x1="518.1" x2="522" y1="204.5" y2="204.5" stroke="#333" stroke-width="1.3"/>
<text transform="translate(514.6 209.6) scale(1 1.08)" font-size="12.8" text-anchor="end" fill="#404040" stroke="#404040" stroke-width="0.25">-0.50</text>
<line x1="546.5" x2="546.5" y1="233" y2="236.8" stroke="#333" stroke-width="1.3"/>
<text transform="translate(546.5 253.0) scale(1 1.08)" font-size="12.8" text-anchor="middle" fill="#404040" stroke="#404040" stroke-width="0.25">I1</text>
<line x1="585.5" x2="585.5" y1="233" y2="236.8" stroke="#333" stroke-width="1.3"/>
<text transform="translate(585.5 253.0) scale(1 1.08)" font-size="12.8" text-anchor="middle" fill="#404040" stroke="#404040" stroke-width="0.25">SI2</text>
<line x1="624.5" x2="624.5" y1="233" y2="236.8" stroke="#333" stroke-width="1.3"/>
<text transform="translate(624.5 253.0) scale(1 1.08)" font-size="12.8" text-anchor="middle" fill="#404040" stroke="#404040" stroke-width="0.25">SI1</text>
<line x1="664.5" x2="664.5" y1="233" y2="236.8" stroke="#333" stroke-width="1.3"/>
<text transform="translate(664.5 253.0) scale(1 1.08)" font-size="12.8" text-anchor="middle" fill="#404040" stroke="#404040" stroke-width="0.25">VS2</text>
<line x1="703.5" x2="703.5" y1="233" y2="236.8" stroke="#333" stroke-width="1.3"/>
<text transform="translate(703.5 253.0) scale(1 1.08)" font-size="12.8" text-anchor="middle" fill="#404040" stroke="#404040" stroke-width="0.25">VS1</text>
<line x1="742.5" x2="742.5" y1="233" y2="236.8" stroke="#333" stroke-width="1.3"/>
<text transform="translate(742.5 253.0) scale(1 1.08)" font-size="12.8" text-anchor="middle" fill="#404040" stroke="#404040" stroke-width="0.25">VVS2</text>
<line x1="782.5" x2="782.5" y1="233" y2="236.8" stroke="#333" stroke-width="1.3"/>
<text transform="translate(782.5 253.0) scale(1 1.08)" font-size="12.8" text-anchor="middle" fill="#404040" stroke="#404040" stroke-width="0.25">VVS1</text>
<line x1="821.5" x2="821.5" y1="233" y2="236.8" stroke="#333" stroke-width="1.3"/>
<text transform="translate(821.5 253.0) scale(1 1.08)" font-size="12.8" text-anchor="middle" fill="#404040" stroke="#404040" stroke-width="0.25">IF</text>
<line x1="61.1" x2="65" y1="346.5" y2="346.5" stroke="#333" stroke-width="1.3"/>
<text transform="translate(57.6 351.6) scale(1 1.08)" font-size="12.8" text-anchor="end" fill="#404040" stroke="#404040" stroke-width="0.25">0.2</text>
<line x1="61.1" x2="65" y1="398.5" y2="398.5" stroke="#333" stroke-width="1.3"/>
<text transform="translate(57.6 403.6) scale(1 1.08)" font-size="12.8" text-anchor="end" fill="#404040" stroke="#404040" stroke-width="0.25">0.0</text>
<line x1="61.1" x2="65" y1="450.5" y2="450.5" stroke="#333" stroke-width="1.3"/>
<text transform="translate(57.6 455.6) scale(1 1.08)" font-size="12.8" text-anchor="end" fill="#404040" stroke="#404040" stroke-width="0.25">-0.2</text>
<line x1="61.1" x2="65" y1="502.5" y2="502.5" stroke="#333" stroke-width="1.3"/>
<text transform="translate(57.6 507.6) scale(1 1.08)" font-size="12.8" text-anchor="end" fill="#404040" stroke="#404040" stroke-width="0.25">-0.4</text>
<line x1="92.5" x2="92.5" y1="508" y2="511.8" stroke="#333" stroke-width="1.3"/>
<text transform="translate(92.5 527.9) scale(1 1.08)" font-size="12.8" text-anchor="middle" fill="#404040" stroke="#404040" stroke-width="0.25">D</text>
<line x1="136.5" x2="136.5" y1="508" y2="511.8" stroke="#333" stroke-width="1.3"/>
<text transform="translate(136.5 527.9) scale(1 1.08)" font-size="12.8" text-anchor="middle" fill="#404040" stroke="#404040" stroke-width="0.25">E</text>
<line x1="181.5" x2="181.5" y1="508" y2="511.8" stroke="#333" stroke-width="1.3"/>
<text transform="translate(181.5 527.9) scale(1 1.08)" font-size="12.8" text-anchor="middle" fill="#404040" stroke="#404040" stroke-width="0.25">F</text>
<line x1="226.5" x2="226.5" y1="508" y2="511.8" stroke="#333" stroke-width="1.3"/>
<text transform="translate(226.5 527.9) scale(1 1.08)" font-size="12.8" text-anchor="middle" fill="#404040" stroke="#404040" stroke-width="0.25">G</text>
<line x1="271.5" x2="271.5" y1="508" y2="511.8" stroke="#333" stroke-width="1.3"/>
<text transform="translate(271.5 527.9) scale(1 1.08)" font-size="12.8" text-anchor="middle" fill="#404040" stroke="#404040" stroke-width="0.25">H</text>
<line x1="315.5" x2="315.5" y1="508" y2="511.8" stroke="#333" stroke-width="1.3"/>
<text transform="translate(315.5 527.9) scale(1 1.08)" font-size="12.8" text-anchor="middle" fill="#404040" stroke="#404040" stroke-width="0.25">I</text>
<line x1="360.5" x2="360.5" y1="508" y2="511.8" stroke="#333" stroke-width="1.3"/>
<text transform="translate(360.5 527.9) scale(1 1.08)" font-size="12.8" text-anchor="middle" fill="#404040" stroke="#404040" stroke-width="0.25">J</text>
<line x1="518.1" x2="522" y1="334.5" y2="334.5" stroke="#333" stroke-width="1.3"/>
<text transform="translate(514.6 339.6) scale(1 1.08)" font-size="12.8" text-anchor="end" fill="#404040" stroke="#404040" stroke-width="0.25">0.05</text>
<line x1="518.1" x2="522" y1="375.5" y2="375.5" stroke="#333" stroke-width="1.3"/>
<text transform="translate(514.6 380.6) scale(1 1.08)" font-size="12.8" text-anchor="end" fill="#404040" stroke="#404040" stroke-width="0.25">0.00</text>
<line x1="518.1" x2="522" y1="415.5" y2="415.5" stroke="#333" stroke-width="1.3"/>
<text transform="translate(514.6 420.6) scale(1 1.08)" font-size="12.8" text-anchor="end" fill="#404040" stroke="#404040" stroke-width="0.25">-0.05</text>
<line x1="518.1" x2="522" y1="455.5" y2="455.5" stroke="#333" stroke-width="1.3"/>
<text transform="translate(514.6 460.6) scale(1 1.08)" font-size="12.8" text-anchor="end" fill="#404040" stroke="#404040" stroke-width="0.25">-0.10</text>
<line x1="518.1" x2="522" y1="496.5" y2="496.5" stroke="#333" stroke-width="1.3"/>
<text transform="translate(514.6 501.6) scale(1 1.08)" font-size="12.8" text-anchor="end" fill="#404040" stroke="#404040" stroke-width="0.25">-0.15</text>
<line x1="559.5" x2="559.5" y1="508" y2="511.8" stroke="#333" stroke-width="1.3"/>
<text transform="translate(559.5 527.9) scale(1 1.08)" font-size="12.8" text-anchor="middle" fill="#404040" stroke="#404040" stroke-width="0.25">Fair</text>
<line x1="621.5" x2="621.5" y1="508" y2="511.8" stroke="#333" stroke-width="1.3"/>
<text transform="translate(621.5 527.9) scale(1 1.08)" font-size="12.8" text-anchor="middle" fill="#404040" stroke="#404040" stroke-width="0.25">Good</text>
<line x1="684.5" x2="684.5" y1="508" y2="511.8" stroke="#333" stroke-width="1.3"/>
<text transform="translate(684.5 527.9) scale(1 1.08)" font-size="12.8" text-anchor="middle" fill="#404040" stroke="#404040" stroke-width="0.25">Very Good</text>
<line x1="745.5" x2="745.5" y1="508" y2="511.8" stroke="#333" stroke-width="1.3"/>
<text transform="translate(745.5 527.9) scale(1 1.08)" font-size="12.8" text-anchor="middle" fill="#404040" stroke="#404040" stroke-width="0.25">Premium</text>
<line x1="807.5" x2="807.5" y1="508" y2="511.8" stroke="#333" stroke-width="1.3"/>
<text transform="translate(807.5 527.9) scale(1 1.08)" font-size="12.8" text-anchor="middle" fill="#404040" stroke="#404040" stroke-width="0.25">Ideal</text>
<text x="64.7" y="30.6" font-size="19.2" text-anchor="start" fill="#000" stroke="#000" stroke-width="0.25">log_carat</text>
<text x="521.7" y="30.6" font-size="19.2" text-anchor="start" fill="#000" stroke="#000" stroke-width="0.25">clarity</text>
<text x="64.7" y="305.7" font-size="19.2" text-anchor="start" fill="#000" stroke="#000" stroke-width="0.25">color</text>
<text x="521.7" y="305.7" font-size="19.2" text-anchor="start" fill="#000" stroke="#000" stroke-width="0.25">cut</text>
<text x="225.8" y="271.9" font-size="15.9" text-anchor="middle" fill="#000" stroke="#000" stroke-width="0.25">log_carat</text>
<text x="683.5" y="271.9" font-size="15.9" text-anchor="middle" fill="#000" stroke="#000" stroke-width="0.25">clarity</text>
<text x="225.8" y="547.7" font-size="15.9" text-anchor="middle" fill="#000" stroke="#000" stroke-width="0.25">color</text>
<text x="683.5" y="547.7" font-size="15.9" text-anchor="middle" fill="#000" stroke="#000" stroke-width="0.25">cut</text>
<text font-size="15.9" text-anchor="middle" stroke="#000" stroke-width="0.25" transform="translate(28.7 274.8) rotate(-90)">SHAP value</text>
<text x="395.4" y="40.5" font-size="15.9" text-anchor="start" fill="#000" stroke="#000" stroke-width="0.25">clarity</text>
<rect x="395.1" y="49.3" width="25" height="201.4" fill="#EBEBEB"/>
<path d="M408 58.75L411.25 62L408 65.25L404.75 62Z" fill="#4d0d6c"/>
<text transform="translate(427.7 68.1) scale(1 1.08)" font-size="12.8" text-anchor="start" fill="#000" stroke="#000" stroke-width="0.25">I1</text>
<path d="M408 83.75L411.25 87L408 90.25L404.75 87Z" fill="#721a6e"/>
<text transform="translate(427.7 93.3) scale(1 1.08)" font-size="12.8" text-anchor="start" fill="#000" stroke="#000" stroke-width="0.25">SI2</text>
<path d="M408 108.75L411.25 112L408 115.25L404.75 112Z" fill="#972766"/>
<text transform="translate(427.7 118.5) scale(1 1.08)" font-size="12.8" text-anchor="start" fill="#000" stroke="#000" stroke-width="0.25">SI1</text>
<path d="M408 134.75L411.25 138L408 141.25L404.75 138Z" fill="#b93556"/>
<text transform="translate(427.7 143.6) scale(1 1.08)" font-size="12.8" text-anchor="start" fill="#000" stroke="#000" stroke-width="0.25">VS2</text>
<path d="M408 159.75L411.25 163L408 166.25L404.75 163Z" fill="#d84c3e"/>
<text transform="translate(427.7 168.8) scale(1 1.08)" font-size="12.8" text-anchor="start" fill="#000" stroke="#000" stroke-width="0.25">VS1</text>
<path d="M408 184.75L411.25 188L408 191.25L404.75 188Z" fill="#ef6c23"/>
<text transform="translate(427.7 194.0) scale(1 1.08)" font-size="12.8" text-anchor="start" fill="#000" stroke="#000" stroke-width="0.25">VVS2</text>
<path d="M408 209.75L411.25 213L408 216.25L404.75 213Z" fill="#fa9207"/>
<text transform="translate(427.7 219.2) scale(1 1.08)" font-size="12.8" text-anchor="start" fill="#000" stroke="#000" stroke-width="0.25">VVS1</text>
<path d="M408 234.75L411.25 238L408 241.25L404.75 238Z" fill="#fbbe23"/>
<text transform="translate(427.7 244.3) scale(1 1.08)" font-size="12.8" text-anchor="start" fill="#000" stroke="#000" stroke-width="0.25">IF</text>
<text x="863.5" y="52.7" font-size="15.9" text-anchor="start" fill="#000" stroke="#000" stroke-width="0.25">color</text>
<rect x="863.2" y="62.2" width="25" height="175.9" fill="#EBEBEB"/>
<path d="M876 71.75L879.25 75L876 78.25L872.75 75Z" fill="#4d0d6c"/>
<text transform="translate(895.8 81.0) scale(1 1.08)" font-size="12.8" text-anchor="start" fill="#000" stroke="#000" stroke-width="0.25">D</text>
<path d="M876 96.75L879.25 100L876 103.25L872.75 100Z" fill="#781c6d"/>
<text transform="translate(895.8 106.1) scale(1 1.08)" font-size="12.8" text-anchor="start" fill="#000" stroke="#000" stroke-width="0.25">E</text>
<path d="M876 121.75L879.25 125L876 128.25L872.75 125Z" fill="#a22b62"/>
<text transform="translate(895.8 131.2) scale(1 1.08)" font-size="12.8" text-anchor="start" fill="#000" stroke="#000" stroke-width="0.25">F</text>
<path d="M876 146.75L879.25 150L876 153.25L872.75 150Z" fill="#ca404a"/>
<text transform="translate(895.8 156.4) scale(1 1.08)" font-size="12.8" text-anchor="start" fill="#000" stroke="#000" stroke-width="0.25">G</text>
<path d="M876 171.75L879.25 175L876 178.25L872.75 175Z" fill="#e8602d"/>
<text transform="translate(895.8 181.5) scale(1 1.08)" font-size="12.8" text-anchor="start" fill="#000" stroke="#000" stroke-width="0.25">H</text>
<path d="M876 197.75L879.25 201L876 204.25L872.75 201Z" fill="#f98c0a"/>
<text transform="translate(895.8 206.6) scale(1 1.08)" font-size="12.8" text-anchor="start" fill="#000" stroke="#000" stroke-width="0.25">I</text>
<path d="M876 222.75L879.25 226L876 229.25L872.75 226Z" fill="#fbbe23"/>
<text transform="translate(895.8 231.7) scale(1 1.08)" font-size="12.8" text-anchor="start" fill="#000" stroke="#000" stroke-width="0.25">J</text>
<text x="395.4" y="315.4" font-size="15.9" text-anchor="start" fill="#000" stroke="#000" stroke-width="0.25">clarity</text>
<rect x="395.1" y="324.1" width="25" height="201.6" fill="#EBEBEB"/>
<path d="M408 333.75L411.25 337L408 340.25L404.75 337Z" fill="#4d0d6c"/>
<text transform="translate(427.7 342.9) scale(1 1.08)" font-size="12.8" text-anchor="start" fill="#000" stroke="#000" stroke-width="0.25">I1</text>
<path d="M408 358.75L411.25 362L408 365.25L404.75 362Z" fill="#721a6e"/>
<text transform="translate(427.7 368.1) scale(1 1.08)" font-size="12.8" text-anchor="start" fill="#000" stroke="#000" stroke-width="0.25">SI2</text>
<path d="M408 383.75L411.25 387L408 390.25L404.75 387Z" fill="#972766"/>
<text transform="translate(427.7 393.3) scale(1 1.08)" font-size="12.8" text-anchor="start" fill="#000" stroke="#000" stroke-width="0.25">SI1</text>
<path d="M408 409.75L411.25 413L408 416.25L404.75 413Z" fill="#b93556"/>
<text transform="translate(427.7 418.5) scale(1 1.08)" font-size="12.8" text-anchor="start" fill="#000" stroke="#000" stroke-width="0.25">VS2</text>
<path d="M408 434.75L411.25 438L408 441.25L404.75 438Z" fill="#d84c3e"/>
<text transform="translate(427.7 443.7) scale(1 1.08)" font-size="12.8" text-anchor="start" fill="#000" stroke="#000" stroke-width="0.25">VS1</text>
<path d="M408 459.75L411.25 463L408 466.25L404.75 463Z" fill="#ef6c23"/>
<text transform="translate(427.7 468.9) scale(1 1.08)" font-size="12.8" text-anchor="start" fill="#000" stroke="#000" stroke-width="0.25">VVS2</text>
<path d="M408 484.75L411.25 488L408 491.25L404.75 488Z" fill="#fa9207"/>
<text transform="translate(427.7 494.1) scale(1 1.08)" font-size="12.8" text-anchor="start" fill="#000" stroke="#000" stroke-width="0.25">VVS1</text>
<path d="M408 509.75L411.25 513L408 516.25L404.75 513Z" fill="#fbbe23"/>
<text transform="translate(427.7 519.3) scale(1 1.08)" font-size="12.8" text-anchor="start" fill="#000" stroke="#000" stroke-width="0.25">IF</text>
<text x="853.0" y="352.7" font-size="15.9" text-anchor="start" fill="#000" stroke="#000" stroke-width="0.25">log_carat</text>
<rect x="853" y="362.2" width="25" height="125.60000000000002" fill="url(#cb)"/>
<line x1="853" x2="858" y1="367.5" y2="367.5" stroke="#fff" stroke-width="1.2"/>
<line x1="873" x2="878" y1="367.5" y2="367.5" stroke="#fff" stroke-width="1.2"/>
<text transform="translate(886.4 372.5) scale(1 1.08)" font-size="12.8" text-anchor="start" fill="#000" stroke="#000" stroke-width="0.25">1.0</text>
<line x1="853" x2="858" y1="390.5" y2="390.5" stroke="#fff" stroke-width="1.2"/>
<line x1="873" x2="878" y1="390.5" y2="390.5" stroke="#fff" stroke-width="1.2"/>
<text transform="translate(886.4 396.2) scale(1 1.08)" font-size="12.8" text-anchor="start" fill="#000" stroke="#000" stroke-width="0.25">0.5</text>
<line x1="853" x2="858" y1="414.5" y2="414.5" stroke="#fff" stroke-width="1.2"/>
<line x1="873" x2="878" y1="414.5" y2="414.5" stroke="#fff" stroke-width="1.2"/>
<text transform="translate(886.4 419.8) scale(1 1.08)" font-size="12.8" text-anchor="start" fill="#000" stroke="#000" stroke-width="0.25">0.0</text>
<line x1="853" x2="858" y1="438.5" y2="438.5" stroke="#fff" stroke-width="1.2"/>
<line x1="873" x2="878" y1="438.5" y2="438.5" stroke="#fff" stroke-width="1.2"/>
<text transform="translate(886.4 443.4) scale(1 1.08)" font-size="12.8" text-anchor="start" fill="#000" stroke="#000" stroke-width="0.25">-0.5</text>
<line x1="853" x2="858" y1="461.5" y2="461.5" stroke="#fff" stroke-width="1.2"/>
<line x1="873" x2="878" y1="461.5" y2="461.5" stroke="#fff" stroke-width="1.2"/>
<text transform="translate(886.4 467.1) scale(1 1.08)" font-size="12.8" text-anchor="start" fill="#000" stroke="#000" stroke-width="0.25">-1.0</text>
<line x1="853" x2="858" y1="485.5" y2="485.5" stroke="#fff" stroke-width="1.2"/>
<line x1="873" x2="878" y1="485.5" y2="485.5" stroke="#fff" stroke-width="1.2"/>
<text transform="translate(886.4 490.8) scale(1 1.08)" font-size="12.8" text-anchor="start" fill="#000" stroke="#000" stroke-width="0.25">-1.5</text>
</svg>
</body></html>
